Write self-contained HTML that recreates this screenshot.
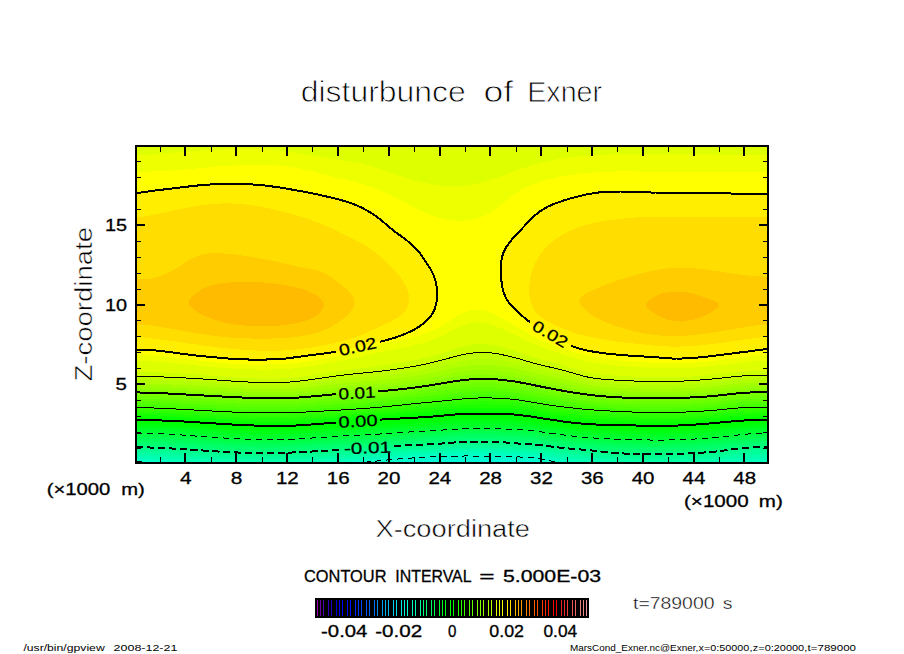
<!DOCTYPE html>
<html><head><meta charset="utf-8"><title>disturbunce of Exner</title>
<style>html,body{margin:0;padding:0;background:#fff;overflow:hidden}body{width:904px;height:654px;position:relative}</style></head>
<body>
<svg width="904" height="654" viewBox="0 0 904 654" style="position:absolute;left:0;top:0">
<defs><clipPath id="cp"><rect x="136" y="146" width="632" height="317"/></clipPath></defs>
<g clip-path="url(#cp)" shape-rendering="crispEdges">
<rect x="130" y="140" width="650" height="330" fill="#00f4dd"/>
<path d="M134.0 466.5 L136.0 466.5 L138.0 466.8 L140.0 467.0 L142.0 467.3 L144.0 467.5 L146.0 467.8 L148.0 468.0 L150.0 468.3 L152.0 468.5 L154.0 468.7 L156.0 469.0 L158.0 469.2 L160.0 469.4 L162.0 469.6 L164.0 469.8 L166.0 470.0 L168.0 470.2 L170.0 470.4 L172.0 470.6 L174.0 470.8 L176.0 471.0 L178.0 471.2 L180.0 471.3 L182.0 471.5 L184.0 471.7 L186.0 471.8 L188.0 472.0 L190.0 472.1 L192.0 472.3 L194.0 472.4 L196.0 472.5 L198.0 472.7 L200.0 472.8 L202.0 472.9 L204.0 473.0 L206.0 473.1 L208.0 473.2 L210.0 473.3 L212.0 473.4 L214.0 473.5 L216.0 473.6 L218.0 473.6 L220.0 473.7 L222.0 473.8 L224.0 473.8 L226.0 473.9 L228.0 473.9 L230.0 474.0 L232.0 474.0 L234.0 474.1 L236.0 474.1 L238.0 474.1 L240.0 474.2 L242.0 474.2 L244.0 474.2 L246.0 474.2 L248.0 474.3 L250.0 474.3 L252.0 474.3 L254.0 474.3 L256.0 474.3 L258.0 474.3 L260.0 474.3 L262.0 474.3 L264.0 474.3 L266.0 474.3 L268.0 474.2 L270.0 474.2 L272.0 474.2 L274.0 474.2 L276.0 474.2 L278.0 474.1 L280.0 474.1 L282.0 474.1 L284.0 474.0 L286.0 474.0 L288.0 473.9 L290.0 473.9 L292.0 473.8 L294.0 473.8 L296.0 473.7 L298.0 473.6 L300.0 473.6 L302.0 473.5 L304.0 473.4 L306.0 473.3 L308.0 473.2 L310.0 473.1 L312.0 473.0 L314.0 472.9 L316.0 472.8 L318.0 472.7 L320.0 472.6 L322.0 472.5 L324.0 472.4 L326.0 472.2 L328.0 472.1 L330.0 471.9 L332.0 471.8 L334.0 471.6 L336.0 471.5 L338.0 471.3 L340.0 471.1 L342.0 471.0 L344.0 470.8 L346.0 470.6 L348.0 470.4 L350.0 470.2 L352.0 470.0 L354.0 469.8 L356.0 469.5 L358.0 469.3 L360.0 469.1 L362.0 468.9 L364.0 468.6 L366.0 468.4 L368.0 468.2 L370.0 467.9 L372.0 467.7 L374.0 467.5 L376.0 467.2 L378.0 467.0 L380.0 466.7 L382.0 466.5 L384.0 466.2 L386.0 466.0 L388.0 465.7 L390.0 465.5 L392.0 465.3 L394.0 465.0 L396.0 464.8 L398.0 464.5 L400.0 464.3 L402.0 464.1 L404.0 463.9 L406.0 463.7 L408.0 463.5 L410.0 463.3 L412.0 463.1 L414.0 462.9 L416.0 462.7 L418.0 462.6 L420.0 462.5 L422.0 462.3 L424.0 462.2 L426.0 462.1 L428.0 462.0 L430.0 461.9 L432.0 461.9 L434.0 461.8 L436.0 461.8 L438.0 461.7 L440.0 461.7 L442.0 461.7 L444.0 461.6 L446.0 461.6 L448.0 461.6 L450.0 461.6 L452.0 461.6 L454.0 461.6 L456.0 461.6 L458.0 461.6 L460.0 461.7 L462.0 461.7 L464.0 461.7 L466.0 461.7 L468.0 461.7 L470.0 461.7 L472.0 461.7 L474.0 461.7 L476.0 461.7 L478.0 461.8 L480.0 461.8 L482.0 461.8 L484.0 461.8 L486.0 461.8 L488.0 461.8 L490.0 461.9 L492.0 461.9 L494.0 461.9 L496.0 461.9 L498.0 461.9 L500.0 461.9 L502.0 462.0 L504.0 462.0 L506.0 462.0 L508.0 462.0 L510.0 462.0 L512.0 462.0 L514.0 462.1 L516.0 462.1 L518.0 462.2 L520.0 462.2 L522.0 462.3 L524.0 462.4 L526.0 462.5 L528.0 462.7 L530.0 462.9 L532.0 463.1 L534.0 463.3 L536.0 463.6 L538.0 464.0 L540.0 464.4 L542.0 464.8 L544.0 465.3 L546.0 465.9 L548.0 466.4 L550.0 467.0 L552.0 467.6 L554.0 468.2 L556.0 468.7 L558.0 469.3 L560.0 469.8 L562.0 470.2 L564.0 470.7 L566.0 471.1 L568.0 471.4 L570.0 471.7 L572.0 472.0 L574.0 472.2 L576.0 472.4 L578.0 472.6 L580.0 472.7 L582.0 472.8 L584.0 472.9 L586.0 473.0 L588.0 473.1 L590.0 473.1 L592.0 473.1 L594.0 473.1 L596.0 473.1 L598.0 473.1 L600.0 473.1 L602.0 473.1 L604.0 473.1 L606.0 473.0 L608.0 473.0 L610.0 473.0 L612.0 473.0 L614.0 473.1 L616.0 473.1 L618.0 473.1 L620.0 473.2 L622.0 473.2 L624.0 473.3 L626.0 473.4 L628.0 473.4 L630.0 473.5 L632.0 473.6 L634.0 473.7 L636.0 473.8 L638.0 473.9 L640.0 474.0 L642.0 474.0 L644.0 474.1 L646.0 474.2 L648.0 474.3 L650.0 474.4 L652.0 474.4 L654.0 474.5 L656.0 474.5 L658.0 474.6 L660.0 474.6 L662.0 474.6 L664.0 474.6 L666.0 474.6 L668.0 474.6 L670.0 474.6 L672.0 474.6 L674.0 474.5 L676.0 474.4 L678.0 474.3 L680.0 474.3 L682.0 474.2 L684.0 474.0 L686.0 473.9 L688.0 473.8 L690.0 473.7 L692.0 473.6 L694.0 473.4 L696.0 473.3 L698.0 473.2 L700.0 473.1 L702.0 472.9 L704.0 472.8 L706.0 472.7 L708.0 472.6 L710.0 472.5 L712.0 472.5 L714.0 472.4 L716.0 472.3 L718.0 472.3 L720.0 472.3 L722.0 472.3 L724.0 472.3 L726.0 472.3 L728.0 472.3 L730.0 472.4 L732.0 472.4 L734.0 472.4 L736.0 472.5 L738.0 472.5 L740.0 472.5 L742.0 472.5 L744.0 472.5 L746.0 472.5 L748.0 472.5 L750.0 472.5 L752.0 472.4 L754.0 472.4 L756.0 472.3 L758.0 472.2 L760.0 472.1 L762.0 472.1 L764.0 472.0 L766.0 471.9 L768.0 471.8 L770.0 471.8 L770.0 144.0 L134.0 144.0Z" fill="#00f8d6"/>
<path d="M134.0 463.7 L136.0 463.7 L138.0 464.0 L140.0 464.2 L142.0 464.4 L144.0 464.6 L146.0 464.8 L148.0 465.0 L150.0 465.2 L152.0 465.4 L154.0 465.6 L156.0 465.8 L158.0 466.0 L160.0 466.2 L162.0 466.4 L164.0 466.6 L166.0 466.8 L168.0 467.0 L170.0 467.1 L172.0 467.3 L174.0 467.5 L176.0 467.6 L178.0 467.8 L180.0 468.0 L182.0 468.1 L184.0 468.3 L186.0 468.4 L188.0 468.6 L190.0 468.7 L192.0 468.8 L194.0 469.0 L196.0 469.1 L198.0 469.2 L200.0 469.4 L202.0 469.5 L204.0 469.6 L206.0 469.7 L208.0 469.8 L210.0 469.9 L212.0 470.0 L214.0 470.1 L216.0 470.2 L218.0 470.3 L220.0 470.3 L222.0 470.4 L224.0 470.5 L226.0 470.6 L228.0 470.6 L230.0 470.7 L232.0 470.8 L234.0 470.8 L236.0 470.9 L238.0 470.9 L240.0 470.9 L242.0 471.0 L244.0 471.0 L246.0 471.0 L248.0 471.1 L250.0 471.1 L252.0 471.1 L254.0 471.1 L256.0 471.1 L258.0 471.1 L260.0 471.1 L262.0 471.1 L264.0 471.1 L266.0 471.1 L268.0 471.1 L270.0 471.1 L272.0 471.0 L274.0 471.0 L276.0 471.0 L278.0 470.9 L280.0 470.9 L282.0 470.9 L284.0 470.8 L286.0 470.8 L288.0 470.7 L290.0 470.7 L292.0 470.6 L294.0 470.5 L296.0 470.5 L298.0 470.4 L300.0 470.3 L302.0 470.2 L304.0 470.2 L306.0 470.1 L308.0 470.0 L310.0 469.9 L312.0 469.8 L314.0 469.7 L316.0 469.6 L318.0 469.5 L320.0 469.3 L322.0 469.2 L324.0 469.1 L326.0 469.0 L328.0 468.8 L330.0 468.7 L332.0 468.5 L334.0 468.4 L336.0 468.2 L338.0 468.0 L340.0 467.9 L342.0 467.7 L344.0 467.5 L346.0 467.3 L348.0 467.1 L350.0 466.9 L352.0 466.7 L354.0 466.5 L356.0 466.3 L358.0 466.1 L360.0 465.9 L362.0 465.7 L364.0 465.5 L366.0 465.2 L368.0 465.0 L370.0 464.8 L372.0 464.6 L374.0 464.4 L376.0 464.1 L378.0 463.9 L380.0 463.7 L382.0 463.5 L384.0 463.2 L386.0 463.0 L388.0 462.8 L390.0 462.6 L392.0 462.4 L394.0 462.2 L396.0 462.0 L398.0 461.8 L400.0 461.6 L402.0 461.4 L404.0 461.2 L406.0 461.0 L408.0 460.9 L410.0 460.7 L412.0 460.5 L414.0 460.4 L416.0 460.2 L418.0 460.1 L420.0 460.0 L422.0 459.9 L424.0 459.8 L426.0 459.7 L428.0 459.6 L430.0 459.5 L432.0 459.4 L434.0 459.3 L436.0 459.3 L438.0 459.2 L440.0 459.2 L442.0 459.1 L444.0 459.1 L446.0 459.0 L448.0 459.0 L450.0 458.9 L452.0 458.9 L454.0 458.9 L456.0 458.9 L458.0 458.8 L460.0 458.8 L462.0 458.8 L464.0 458.8 L466.0 458.8 L468.0 458.8 L470.0 458.8 L472.0 458.8 L474.0 458.8 L476.0 458.8 L478.0 458.9 L480.0 458.9 L482.0 458.9 L484.0 458.9 L486.0 458.9 L488.0 458.9 L490.0 458.9 L492.0 459.0 L494.0 459.0 L496.0 459.0 L498.0 459.0 L500.0 459.1 L502.0 459.1 L504.0 459.1 L506.0 459.2 L508.0 459.2 L510.0 459.3 L512.0 459.3 L514.0 459.4 L516.0 459.5 L518.0 459.5 L520.0 459.6 L522.0 459.7 L524.0 459.8 L526.0 459.9 L528.0 460.1 L530.0 460.2 L532.0 460.4 L534.0 460.7 L536.0 460.9 L538.0 461.2 L540.0 461.6 L542.0 462.0 L544.0 462.4 L546.0 462.9 L548.0 463.4 L550.0 463.9 L552.0 464.4 L554.0 464.9 L556.0 465.4 L558.0 465.9 L560.0 466.4 L562.0 466.8 L564.0 467.1 L566.0 467.5 L568.0 467.8 L570.0 468.0 L572.0 468.3 L574.0 468.5 L576.0 468.7 L578.0 468.9 L580.0 469.0 L582.0 469.1 L584.0 469.3 L586.0 469.3 L588.0 469.4 L590.0 469.5 L592.0 469.6 L594.0 469.6 L596.0 469.7 L598.0 469.7 L600.0 469.8 L602.0 469.8 L604.0 469.9 L606.0 469.9 L608.0 469.9 L610.0 470.0 L612.0 470.1 L614.0 470.1 L616.0 470.2 L618.0 470.2 L620.0 470.3 L622.0 470.4 L624.0 470.5 L626.0 470.6 L628.0 470.6 L630.0 470.7 L632.0 470.8 L634.0 470.9 L636.0 471.0 L638.0 471.0 L640.0 471.1 L642.0 471.2 L644.0 471.2 L646.0 471.3 L648.0 471.4 L650.0 471.4 L652.0 471.5 L654.0 471.5 L656.0 471.5 L658.0 471.6 L660.0 471.6 L662.0 471.6 L664.0 471.6 L666.0 471.6 L668.0 471.6 L670.0 471.5 L672.0 471.5 L674.0 471.4 L676.0 471.4 L678.0 471.3 L680.0 471.2 L682.0 471.1 L684.0 471.0 L686.0 470.9 L688.0 470.8 L690.0 470.7 L692.0 470.6 L694.0 470.5 L696.0 470.4 L698.0 470.2 L700.0 470.1 L702.0 470.0 L704.0 469.9 L706.0 469.8 L708.0 469.7 L710.0 469.6 L712.0 469.5 L714.0 469.4 L716.0 469.3 L718.0 469.2 L720.0 469.1 L722.0 469.1 L724.0 469.0 L726.0 469.0 L728.0 468.9 L730.0 468.9 L732.0 468.8 L734.0 468.8 L736.0 468.8 L738.0 468.7 L740.0 468.7 L742.0 468.7 L744.0 468.6 L746.0 468.6 L748.0 468.5 L750.0 468.5 L752.0 468.4 L754.0 468.4 L756.0 468.3 L758.0 468.2 L760.0 468.2 L762.0 468.1 L764.0 468.1 L766.0 468.0 L768.0 468.0 L770.0 468.0 L770.0 144.0 L134.0 144.0Z" fill="#00fccd"/>
<path d="M134.0 461.0 L136.0 461.0 L138.0 461.2 L140.0 461.4 L142.0 461.5 L144.0 461.7 L146.0 461.9 L148.0 462.1 L150.0 462.2 L152.0 462.4 L154.0 462.6 L156.0 462.7 L158.0 462.9 L160.0 463.1 L162.0 463.2 L164.0 463.4 L166.0 463.6 L168.0 463.7 L170.0 463.9 L172.0 464.0 L174.0 464.2 L176.0 464.3 L178.0 464.5 L180.0 464.6 L182.0 464.8 L184.0 464.9 L186.0 465.1 L188.0 465.2 L190.0 465.4 L192.0 465.5 L194.0 465.6 L196.0 465.8 L198.0 465.9 L200.0 466.0 L202.0 466.1 L204.0 466.2 L206.0 466.4 L208.0 466.5 L210.0 466.6 L212.0 466.7 L214.0 466.8 L216.0 466.9 L218.0 467.0 L220.0 467.1 L222.0 467.1 L224.0 467.2 L226.0 467.3 L228.0 467.4 L230.0 467.5 L232.0 467.5 L234.0 467.6 L236.0 467.6 L238.0 467.7 L240.0 467.7 L242.0 467.8 L244.0 467.8 L246.0 467.9 L248.0 467.9 L250.0 467.9 L252.0 468.0 L254.0 468.0 L256.0 468.0 L258.0 468.0 L260.0 468.0 L262.0 468.0 L264.0 468.0 L266.0 468.0 L268.0 468.0 L270.0 467.9 L272.0 467.9 L274.0 467.9 L276.0 467.9 L278.0 467.8 L280.0 467.8 L282.0 467.7 L284.0 467.7 L286.0 467.6 L288.0 467.6 L290.0 467.5 L292.0 467.4 L294.0 467.4 L296.0 467.3 L298.0 467.2 L300.0 467.1 L302.0 467.1 L304.0 467.0 L306.0 466.9 L308.0 466.8 L310.0 466.7 L312.0 466.6 L314.0 466.5 L316.0 466.4 L318.0 466.3 L320.0 466.1 L322.0 466.0 L324.0 465.9 L326.0 465.8 L328.0 465.6 L330.0 465.5 L332.0 465.3 L334.0 465.2 L336.0 465.0 L338.0 464.8 L340.0 464.7 L342.0 464.5 L344.0 464.3 L346.0 464.1 L348.0 463.9 L350.0 463.7 L352.0 463.5 L354.0 463.3 L356.0 463.1 L358.0 462.9 L360.0 462.7 L362.0 462.5 L364.0 462.3 L366.0 462.1 L368.0 461.9 L370.0 461.7 L372.0 461.5 L374.0 461.3 L376.0 461.1 L378.0 460.9 L380.0 460.7 L382.0 460.5 L384.0 460.3 L386.0 460.1 L388.0 459.9 L390.0 459.7 L392.0 459.6 L394.0 459.4 L396.0 459.2 L398.0 459.0 L400.0 458.9 L402.0 458.7 L404.0 458.6 L406.0 458.4 L408.0 458.3 L410.0 458.1 L412.0 458.0 L414.0 457.9 L416.0 457.7 L418.0 457.6 L420.0 457.5 L422.0 457.4 L424.0 457.3 L426.0 457.2 L428.0 457.1 L430.0 457.0 L432.0 456.9 L434.0 456.8 L436.0 456.8 L438.0 456.7 L440.0 456.6 L442.0 456.5 L444.0 456.4 L446.0 456.4 L448.0 456.3 L450.0 456.2 L452.0 456.2 L454.0 456.1 L456.0 456.1 L458.0 456.0 L460.0 456.0 L462.0 456.0 L464.0 456.0 L466.0 455.9 L468.0 455.9 L470.0 455.9 L472.0 456.0 L474.0 456.0 L476.0 456.0 L478.0 456.0 L480.0 456.0 L482.0 456.0 L484.0 456.0 L486.0 456.0 L488.0 456.0 L490.0 456.1 L492.0 456.1 L494.0 456.1 L496.0 456.1 L498.0 456.2 L500.0 456.2 L502.0 456.3 L504.0 456.3 L506.0 456.4 L508.0 456.5 L510.0 456.5 L512.0 456.6 L514.0 456.7 L516.0 456.8 L518.0 456.9 L520.0 457.0 L522.0 457.1 L524.0 457.2 L526.0 457.3 L528.0 457.5 L530.0 457.6 L532.0 457.8 L534.0 458.0 L536.0 458.2 L538.0 458.5 L540.0 458.8 L542.0 459.2 L544.0 459.5 L546.0 460.0 L548.0 460.4 L550.0 460.8 L552.0 461.3 L554.0 461.7 L556.0 462.2 L558.0 462.6 L560.0 463.0 L562.0 463.4 L564.0 463.7 L566.0 464.0 L568.0 464.3 L570.0 464.5 L572.0 464.7 L574.0 464.9 L576.0 465.1 L578.0 465.3 L580.0 465.4 L582.0 465.5 L584.0 465.7 L586.0 465.8 L588.0 465.9 L590.0 466.0 L592.0 466.1 L594.0 466.2 L596.0 466.3 L598.0 466.4 L600.0 466.5 L602.0 466.6 L604.0 466.7 L606.0 466.8 L608.0 466.9 L610.0 467.0 L612.0 467.1 L614.0 467.2 L616.0 467.3 L618.0 467.4 L620.0 467.5 L622.0 467.6 L624.0 467.7 L626.0 467.7 L628.0 467.8 L630.0 467.9 L632.0 468.0 L634.0 468.1 L636.0 468.1 L638.0 468.2 L640.0 468.3 L642.0 468.3 L644.0 468.4 L646.0 468.4 L648.0 468.5 L650.0 468.5 L652.0 468.5 L654.0 468.6 L656.0 468.6 L658.0 468.6 L660.0 468.6 L662.0 468.6 L664.0 468.6 L666.0 468.6 L668.0 468.5 L670.0 468.5 L672.0 468.5 L674.0 468.4 L676.0 468.3 L678.0 468.3 L680.0 468.2 L682.0 468.1 L684.0 468.0 L686.0 468.0 L688.0 467.9 L690.0 467.8 L692.0 467.7 L694.0 467.5 L696.0 467.4 L698.0 467.3 L700.0 467.2 L702.0 467.1 L704.0 467.0 L706.0 466.8 L708.0 466.7 L710.0 466.6 L712.0 466.5 L714.0 466.4 L716.0 466.2 L718.0 466.1 L720.0 466.0 L722.0 465.9 L724.0 465.8 L726.0 465.7 L728.0 465.6 L730.0 465.5 L732.0 465.4 L734.0 465.3 L736.0 465.2 L738.0 465.1 L740.0 465.0 L742.0 464.9 L744.0 464.8 L746.0 464.8 L748.0 464.7 L750.0 464.6 L752.0 464.6 L754.0 464.5 L756.0 464.4 L758.0 464.4 L760.0 464.3 L762.0 464.3 L764.0 464.3 L766.0 464.2 L768.0 464.2 L770.0 464.2 L770.0 144.0 L134.0 144.0Z" fill="#00ffc4"/>
<path d="M134.0 458.2 L136.0 458.2 L138.0 458.4 L140.0 458.5 L142.0 458.7 L144.0 458.8 L146.0 459.0 L148.0 459.1 L150.0 459.2 L152.0 459.4 L154.0 459.5 L156.0 459.7 L158.0 459.8 L160.0 460.0 L162.0 460.1 L164.0 460.3 L166.0 460.4 L168.0 460.5 L170.0 460.7 L172.0 460.8 L174.0 461.0 L176.0 461.1 L178.0 461.3 L180.0 461.4 L182.0 461.5 L184.0 461.7 L186.0 461.8 L188.0 461.9 L190.0 462.1 L192.0 462.2 L194.0 462.3 L196.0 462.5 L198.0 462.6 L200.0 462.7 L202.0 462.8 L204.0 463.0 L206.0 463.1 L208.0 463.2 L210.0 463.3 L212.0 463.4 L214.0 463.5 L216.0 463.6 L218.0 463.7 L220.0 463.8 L222.0 463.9 L224.0 464.0 L226.0 464.1 L228.0 464.2 L230.0 464.3 L232.0 464.3 L234.0 464.4 L236.0 464.5 L238.0 464.6 L240.0 464.6 L242.0 464.7 L244.0 464.7 L246.0 464.8 L248.0 464.8 L250.0 464.8 L252.0 464.9 L254.0 464.9 L256.0 464.9 L258.0 464.9 L260.0 464.9 L262.0 464.9 L264.0 464.9 L266.0 464.9 L268.0 464.9 L270.0 464.9 L272.0 464.8 L274.0 464.8 L276.0 464.8 L278.0 464.7 L280.0 464.7 L282.0 464.6 L284.0 464.6 L286.0 464.5 L288.0 464.5 L290.0 464.4 L292.0 464.3 L294.0 464.3 L296.0 464.2 L298.0 464.1 L300.0 464.0 L302.0 463.9 L304.0 463.9 L306.0 463.8 L308.0 463.7 L310.0 463.6 L312.0 463.5 L314.0 463.3 L316.0 463.2 L318.0 463.1 L320.0 463.0 L322.0 462.9 L324.0 462.7 L326.0 462.6 L328.0 462.5 L330.0 462.3 L332.0 462.2 L334.0 462.0 L336.0 461.9 L338.0 461.7 L340.0 461.5 L342.0 461.3 L344.0 461.2 L346.0 461.0 L348.0 460.8 L350.0 460.6 L352.0 460.4 L354.0 460.2 L356.0 460.0 L358.0 459.8 L360.0 459.7 L362.0 459.5 L364.0 459.3 L366.0 459.1 L368.0 458.9 L370.0 458.7 L372.0 458.5 L374.0 458.3 L376.0 458.1 L378.0 457.9 L380.0 457.8 L382.0 457.6 L384.0 457.4 L386.0 457.2 L388.0 457.1 L390.0 456.9 L392.0 456.8 L394.0 456.6 L396.0 456.5 L398.0 456.3 L400.0 456.2 L402.0 456.1 L404.0 455.9 L406.0 455.8 L408.0 455.7 L410.0 455.5 L412.0 455.4 L414.0 455.3 L416.0 455.2 L418.0 455.1 L420.0 455.0 L422.0 454.9 L424.0 454.8 L426.0 454.7 L428.0 454.6 L430.0 454.5 L432.0 454.4 L434.0 454.3 L436.0 454.2 L438.0 454.1 L440.0 454.0 L442.0 453.9 L444.0 453.8 L446.0 453.7 L448.0 453.6 L450.0 453.6 L452.0 453.5 L454.0 453.4 L456.0 453.3 L458.0 453.3 L460.0 453.2 L462.0 453.2 L464.0 453.1 L466.0 453.1 L468.0 453.1 L470.0 453.1 L472.0 453.1 L474.0 453.1 L476.0 453.1 L478.0 453.1 L480.0 453.1 L482.0 453.1 L484.0 453.2 L486.0 453.2 L488.0 453.2 L490.0 453.2 L492.0 453.2 L494.0 453.2 L496.0 453.3 L498.0 453.3 L500.0 453.4 L502.0 453.4 L504.0 453.5 L506.0 453.6 L508.0 453.7 L510.0 453.8 L512.0 453.9 L514.0 454.0 L516.0 454.1 L518.0 454.2 L520.0 454.4 L522.0 454.5 L524.0 454.6 L526.0 454.7 L528.0 454.8 L530.0 455.0 L532.0 455.1 L534.0 455.3 L536.0 455.5 L538.0 455.8 L540.0 456.0 L542.0 456.3 L544.0 456.7 L546.0 457.1 L548.0 457.4 L550.0 457.8 L552.0 458.2 L554.0 458.6 L556.0 459.0 L558.0 459.4 L560.0 459.7 L562.0 460.1 L564.0 460.3 L566.0 460.6 L568.0 460.8 L570.0 461.1 L572.0 461.3 L574.0 461.4 L576.0 461.6 L578.0 461.8 L580.0 461.9 L582.0 462.1 L584.0 462.2 L586.0 462.3 L588.0 462.5 L590.0 462.6 L592.0 462.7 L594.0 462.9 L596.0 463.0 L598.0 463.2 L600.0 463.3 L602.0 463.5 L604.0 463.6 L606.0 463.8 L608.0 463.9 L610.0 464.0 L612.0 464.2 L614.0 464.3 L616.0 464.4 L618.0 464.5 L620.0 464.6 L622.0 464.7 L624.0 464.8 L626.0 464.9 L628.0 465.0 L630.0 465.1 L632.0 465.2 L634.0 465.2 L636.0 465.3 L638.0 465.4 L640.0 465.4 L642.0 465.5 L644.0 465.5 L646.0 465.5 L648.0 465.6 L650.0 465.6 L652.0 465.6 L654.0 465.6 L656.0 465.6 L658.0 465.6 L660.0 465.6 L662.0 465.6 L664.0 465.6 L666.0 465.6 L668.0 465.5 L670.0 465.5 L672.0 465.5 L674.0 465.4 L676.0 465.4 L678.0 465.3 L680.0 465.2 L682.0 465.2 L684.0 465.1 L686.0 465.0 L688.0 464.9 L690.0 464.8 L692.0 464.7 L694.0 464.6 L696.0 464.5 L698.0 464.4 L700.0 464.3 L702.0 464.2 L704.0 464.0 L706.0 463.9 L708.0 463.8 L710.0 463.7 L712.0 463.5 L714.0 463.4 L716.0 463.2 L718.0 463.1 L720.0 462.9 L722.0 462.8 L724.0 462.6 L726.0 462.4 L728.0 462.3 L730.0 462.1 L732.0 462.0 L734.0 461.8 L736.0 461.7 L738.0 461.5 L740.0 461.4 L742.0 461.3 L744.0 461.2 L746.0 461.1 L748.0 461.0 L750.0 460.9 L752.0 460.8 L754.0 460.8 L756.0 460.7 L758.0 460.7 L760.0 460.6 L762.0 460.6 L764.0 460.6 L766.0 460.6 L768.0 460.5 L770.0 460.5 L770.0 144.0 L134.0 144.0Z" fill="#00ffb5"/>
<path d="M134.0 455.5 L136.0 455.5 L138.0 455.6 L140.0 455.7 L142.0 455.8 L144.0 455.9 L146.0 456.0 L148.0 456.2 L150.0 456.3 L152.0 456.4 L154.0 456.5 L156.0 456.6 L158.0 456.8 L160.0 456.9 L162.0 457.0 L164.0 457.1 L166.0 457.3 L168.0 457.4 L170.0 457.5 L172.0 457.7 L174.0 457.8 L176.0 457.9 L178.0 458.1 L180.0 458.2 L182.0 458.3 L184.0 458.5 L186.0 458.6 L188.0 458.7 L190.0 458.9 L192.0 459.0 L194.0 459.1 L196.0 459.2 L198.0 459.4 L200.0 459.5 L202.0 459.6 L204.0 459.7 L206.0 459.9 L208.0 460.0 L210.0 460.1 L212.0 460.2 L214.0 460.3 L216.0 460.5 L218.0 460.6 L220.0 460.7 L222.0 460.8 L224.0 460.9 L226.0 461.0 L228.0 461.1 L230.0 461.1 L232.0 461.2 L234.0 461.3 L236.0 461.4 L238.0 461.5 L240.0 461.5 L242.0 461.6 L244.0 461.6 L246.0 461.7 L248.0 461.7 L250.0 461.8 L252.0 461.8 L254.0 461.8 L256.0 461.9 L258.0 461.9 L260.0 461.9 L262.0 461.9 L264.0 461.9 L266.0 461.9 L268.0 461.9 L270.0 461.8 L272.0 461.8 L274.0 461.8 L276.0 461.7 L278.0 461.7 L280.0 461.7 L282.0 461.6 L284.0 461.5 L286.0 461.5 L288.0 461.4 L290.0 461.4 L292.0 461.3 L294.0 461.2 L296.0 461.1 L298.0 461.1 L300.0 461.0 L302.0 460.9 L304.0 460.8 L306.0 460.7 L308.0 460.6 L310.0 460.5 L312.0 460.4 L314.0 460.3 L316.0 460.1 L318.0 460.0 L320.0 459.9 L322.0 459.8 L324.0 459.6 L326.0 459.5 L328.0 459.4 L330.0 459.2 L332.0 459.1 L334.0 458.9 L336.0 458.8 L338.0 458.6 L340.0 458.4 L342.0 458.3 L344.0 458.1 L346.0 457.9 L348.0 457.7 L350.0 457.6 L352.0 457.4 L354.0 457.2 L356.0 457.0 L358.0 456.8 L360.0 456.6 L362.0 456.5 L364.0 456.3 L366.0 456.1 L368.0 455.9 L370.0 455.7 L372.0 455.6 L374.0 455.4 L376.0 455.2 L378.0 455.0 L380.0 454.9 L382.0 454.7 L384.0 454.6 L386.0 454.4 L388.0 454.3 L390.0 454.1 L392.0 454.0 L394.0 453.9 L396.0 453.8 L398.0 453.6 L400.0 453.5 L402.0 453.4 L404.0 453.3 L406.0 453.2 L408.0 453.1 L410.0 453.0 L412.0 452.9 L414.0 452.7 L416.0 452.6 L418.0 452.5 L420.0 452.5 L422.0 452.4 L424.0 452.3 L426.0 452.2 L428.0 452.1 L430.0 452.0 L432.0 451.9 L434.0 451.8 L436.0 451.7 L438.0 451.6 L440.0 451.4 L442.0 451.3 L444.0 451.2 L446.0 451.1 L448.0 451.0 L450.0 450.9 L452.0 450.8 L454.0 450.7 L456.0 450.6 L458.0 450.5 L460.0 450.4 L462.0 450.4 L464.0 450.3 L466.0 450.3 L468.0 450.3 L470.0 450.3 L472.0 450.3 L474.0 450.3 L476.0 450.3 L478.0 450.3 L480.0 450.3 L482.0 450.3 L484.0 450.3 L486.0 450.3 L488.0 450.3 L490.0 450.3 L492.0 450.4 L494.0 450.4 L496.0 450.4 L498.0 450.5 L500.0 450.5 L502.0 450.6 L504.0 450.7 L506.0 450.8 L508.0 450.9 L510.0 451.1 L512.0 451.2 L514.0 451.3 L516.0 451.4 L518.0 451.6 L520.0 451.7 L522.0 451.8 L524.0 451.9 L526.0 452.0 L528.0 452.2 L530.0 452.3 L532.0 452.5 L534.0 452.6 L536.0 452.8 L538.0 453.0 L540.0 453.3 L542.0 453.6 L544.0 453.9 L546.0 454.2 L548.0 454.5 L550.0 454.9 L552.0 455.2 L554.0 455.6 L556.0 455.9 L558.0 456.2 L560.0 456.6 L562.0 456.8 L564.0 457.1 L566.0 457.3 L568.0 457.5 L570.0 457.7 L572.0 457.9 L574.0 458.1 L576.0 458.3 L578.0 458.4 L580.0 458.6 L582.0 458.7 L584.0 458.9 L586.0 459.0 L588.0 459.2 L590.0 459.3 L592.0 459.5 L594.0 459.7 L596.0 459.9 L598.0 460.0 L600.0 460.2 L602.0 460.4 L604.0 460.6 L606.0 460.8 L608.0 460.9 L610.0 461.1 L612.0 461.3 L614.0 461.4 L616.0 461.5 L618.0 461.7 L620.0 461.8 L622.0 461.9 L624.0 462.0 L626.0 462.1 L628.0 462.2 L630.0 462.3 L632.0 462.3 L634.0 462.4 L636.0 462.5 L638.0 462.5 L640.0 462.6 L642.0 462.6 L644.0 462.6 L646.0 462.7 L648.0 462.7 L650.0 462.7 L652.0 462.7 L654.0 462.7 L656.0 462.7 L658.0 462.7 L660.0 462.7 L662.0 462.6 L664.0 462.6 L666.0 462.6 L668.0 462.6 L670.0 462.5 L672.0 462.5 L674.0 462.4 L676.0 462.4 L678.0 462.3 L680.0 462.3 L682.0 462.2 L684.0 462.1 L686.0 462.1 L688.0 462.0 L690.0 461.9 L692.0 461.8 L694.0 461.7 L696.0 461.6 L698.0 461.5 L700.0 461.4 L702.0 461.3 L704.0 461.1 L706.0 461.0 L708.0 460.9 L710.0 460.7 L712.0 460.6 L714.0 460.4 L716.0 460.2 L718.0 460.1 L720.0 459.9 L722.0 459.7 L724.0 459.5 L726.0 459.3 L728.0 459.1 L730.0 458.9 L732.0 458.7 L734.0 458.5 L736.0 458.3 L738.0 458.1 L740.0 457.9 L742.0 457.8 L744.0 457.6 L746.0 457.5 L748.0 457.4 L750.0 457.3 L752.0 457.2 L754.0 457.2 L756.0 457.1 L758.0 457.1 L760.0 457.0 L762.0 457.0 L764.0 457.0 L766.0 457.0 L768.0 457.0 L770.0 457.0 L770.0 144.0 L134.0 144.0Z" fill="#00ffa7"/>
<path d="M134.0 452.7 L136.0 452.7 L138.0 452.8 L140.0 452.9 L142.0 453.0 L144.0 453.0 L146.0 453.1 L148.0 453.2 L150.0 453.3 L152.0 453.4 L154.0 453.5 L156.0 453.6 L158.0 453.7 L160.0 453.8 L162.0 454.0 L164.0 454.1 L166.0 454.2 L168.0 454.3 L170.0 454.4 L172.0 454.6 L174.0 454.7 L176.0 454.8 L178.0 454.9 L180.0 455.1 L182.0 455.2 L184.0 455.3 L186.0 455.4 L188.0 455.6 L190.0 455.7 L192.0 455.8 L194.0 456.0 L196.0 456.1 L198.0 456.2 L200.0 456.4 L202.0 456.5 L204.0 456.6 L206.0 456.7 L208.0 456.9 L210.0 457.0 L212.0 457.1 L214.0 457.2 L216.0 457.3 L218.0 457.5 L220.0 457.6 L222.0 457.7 L224.0 457.8 L226.0 457.9 L228.0 458.0 L230.0 458.1 L232.0 458.2 L234.0 458.3 L236.0 458.3 L238.0 458.4 L240.0 458.5 L242.0 458.6 L244.0 458.6 L246.0 458.7 L248.0 458.7 L250.0 458.8 L252.0 458.8 L254.0 458.9 L256.0 458.9 L258.0 458.9 L260.0 458.9 L262.0 458.9 L264.0 458.9 L266.0 458.9 L268.0 458.9 L270.0 458.9 L272.0 458.8 L274.0 458.8 L276.0 458.8 L278.0 458.7 L280.0 458.7 L282.0 458.6 L284.0 458.6 L286.0 458.5 L288.0 458.4 L290.0 458.4 L292.0 458.3 L294.0 458.2 L296.0 458.1 L298.0 458.1 L300.0 458.0 L302.0 457.9 L304.0 457.8 L306.0 457.7 L308.0 457.6 L310.0 457.5 L312.0 457.4 L314.0 457.2 L316.0 457.1 L318.0 457.0 L320.0 456.9 L322.0 456.8 L324.0 456.6 L326.0 456.5 L328.0 456.3 L330.0 456.2 L332.0 456.0 L334.0 455.9 L336.0 455.7 L338.0 455.6 L340.0 455.4 L342.0 455.3 L344.0 455.1 L346.0 454.9 L348.0 454.7 L350.0 454.6 L352.0 454.4 L354.0 454.2 L356.0 454.0 L358.0 453.9 L360.0 453.7 L362.0 453.5 L364.0 453.3 L366.0 453.2 L368.0 453.0 L370.0 452.8 L372.0 452.7 L374.0 452.5 L376.0 452.4 L378.0 452.2 L380.0 452.1 L382.0 451.9 L384.0 451.8 L386.0 451.7 L388.0 451.5 L390.0 451.4 L392.0 451.3 L394.0 451.2 L396.0 451.1 L398.0 451.0 L400.0 450.9 L402.0 450.7 L404.0 450.6 L406.0 450.5 L408.0 450.5 L410.0 450.4 L412.0 450.3 L414.0 450.2 L416.0 450.1 L418.0 450.0 L420.0 449.9 L422.0 449.8 L424.0 449.7 L426.0 449.6 L428.0 449.5 L430.0 449.4 L432.0 449.3 L434.0 449.2 L436.0 449.1 L438.0 449.0 L440.0 448.8 L442.0 448.7 L444.0 448.6 L446.0 448.5 L448.0 448.3 L450.0 448.2 L452.0 448.1 L454.0 447.9 L456.0 447.8 L458.0 447.7 L460.0 447.7 L462.0 447.6 L464.0 447.5 L466.0 447.5 L468.0 447.5 L470.0 447.5 L472.0 447.5 L474.0 447.5 L476.0 447.5 L478.0 447.5 L480.0 447.5 L482.0 447.5 L484.0 447.5 L486.0 447.5 L488.0 447.5 L490.0 447.5 L492.0 447.5 L494.0 447.6 L496.0 447.6 L498.0 447.7 L500.0 447.7 L502.0 447.8 L504.0 447.9 L506.0 448.0 L508.0 448.2 L510.0 448.3 L512.0 448.4 L514.0 448.6 L516.0 448.7 L518.0 448.9 L520.0 449.0 L522.0 449.1 L524.0 449.3 L526.0 449.4 L528.0 449.5 L530.0 449.6 L532.0 449.8 L534.0 449.9 L536.0 450.1 L538.0 450.3 L540.0 450.5 L542.0 450.8 L544.0 451.1 L546.0 451.4 L548.0 451.7 L550.0 452.0 L552.0 452.3 L554.0 452.6 L556.0 452.9 L558.0 453.2 L560.0 453.5 L562.0 453.7 L564.0 454.0 L566.0 454.2 L568.0 454.4 L570.0 454.6 L572.0 454.7 L574.0 454.9 L576.0 455.1 L578.0 455.2 L580.0 455.4 L582.0 455.5 L584.0 455.7 L586.0 455.8 L588.0 456.0 L590.0 456.2 L592.0 456.4 L594.0 456.6 L596.0 456.8 L598.0 457.0 L600.0 457.2 L602.0 457.4 L604.0 457.6 L606.0 457.8 L608.0 458.0 L610.0 458.2 L612.0 458.4 L614.0 458.5 L616.0 458.7 L618.0 458.8 L620.0 459.0 L622.0 459.1 L624.0 459.2 L626.0 459.3 L628.0 459.4 L630.0 459.4 L632.0 459.5 L634.0 459.6 L636.0 459.6 L638.0 459.7 L640.0 459.7 L642.0 459.7 L644.0 459.8 L646.0 459.8 L648.0 459.8 L650.0 459.8 L652.0 459.8 L654.0 459.8 L656.0 459.8 L658.0 459.8 L660.0 459.7 L662.0 459.7 L664.0 459.7 L666.0 459.7 L668.0 459.6 L670.0 459.6 L672.0 459.5 L674.0 459.5 L676.0 459.5 L678.0 459.4 L680.0 459.3 L682.0 459.3 L684.0 459.2 L686.0 459.2 L688.0 459.1 L690.0 459.0 L692.0 458.9 L694.0 458.8 L696.0 458.7 L698.0 458.6 L700.0 458.5 L702.0 458.4 L704.0 458.3 L706.0 458.1 L708.0 458.0 L710.0 457.8 L712.0 457.6 L714.0 457.5 L716.0 457.3 L718.0 457.1 L720.0 456.9 L722.0 456.7 L724.0 456.4 L726.0 456.2 L728.0 455.9 L730.0 455.7 L732.0 455.5 L734.0 455.2 L736.0 455.0 L738.0 454.8 L740.0 454.6 L742.0 454.4 L744.0 454.2 L746.0 454.1 L748.0 454.0 L750.0 453.8 L752.0 453.8 L754.0 453.7 L756.0 453.6 L758.0 453.6 L760.0 453.6 L762.0 453.6 L764.0 453.6 L766.0 453.6 L768.0 453.6 L770.0 453.6 L770.0 144.0 L134.0 144.0Z" fill="#00ff98"/>
<path d="M134.0 449.9 L136.0 449.9 L138.0 450.0 L140.0 450.0 L142.0 450.1 L144.0 450.2 L146.0 450.2 L148.0 450.3 L150.0 450.4 L152.0 450.5 L154.0 450.6 L156.0 450.6 L158.0 450.7 L160.0 450.8 L162.0 450.9 L164.0 451.1 L166.0 451.2 L168.0 451.3 L170.0 451.4 L172.0 451.5 L174.0 451.6 L176.0 451.7 L178.0 451.9 L180.0 452.0 L182.0 452.1 L184.0 452.2 L186.0 452.4 L188.0 452.5 L190.0 452.6 L192.0 452.8 L194.0 452.9 L196.0 453.0 L198.0 453.2 L200.0 453.3 L202.0 453.4 L204.0 453.6 L206.0 453.7 L208.0 453.8 L210.0 453.9 L212.0 454.1 L214.0 454.2 L216.0 454.3 L218.0 454.4 L220.0 454.5 L222.0 454.7 L224.0 454.8 L226.0 454.9 L228.0 455.0 L230.0 455.1 L232.0 455.2 L234.0 455.3 L236.0 455.4 L238.0 455.4 L240.0 455.5 L242.0 455.6 L244.0 455.7 L246.0 455.7 L248.0 455.8 L250.0 455.8 L252.0 455.9 L254.0 455.9 L256.0 455.9 L258.0 456.0 L260.0 456.0 L262.0 456.0 L264.0 456.0 L266.0 456.0 L268.0 456.0 L270.0 456.0 L272.0 455.9 L274.0 455.9 L276.0 455.9 L278.0 455.8 L280.0 455.8 L282.0 455.7 L284.0 455.7 L286.0 455.6 L288.0 455.5 L290.0 455.5 L292.0 455.4 L294.0 455.3 L296.0 455.2 L298.0 455.1 L300.0 455.0 L302.0 454.9 L304.0 454.8 L306.0 454.7 L308.0 454.6 L310.0 454.5 L312.0 454.4 L314.0 454.3 L316.0 454.2 L318.0 454.0 L320.0 453.9 L322.0 453.8 L324.0 453.7 L326.0 453.5 L328.0 453.4 L330.0 453.2 L332.0 453.1 L334.0 452.9 L336.0 452.8 L338.0 452.6 L340.0 452.5 L342.0 452.3 L344.0 452.1 L346.0 452.0 L348.0 451.8 L350.0 451.7 L352.0 451.5 L354.0 451.3 L356.0 451.2 L358.0 451.0 L360.0 450.8 L362.0 450.7 L364.0 450.5 L366.0 450.3 L368.0 450.2 L370.0 450.0 L372.0 449.9 L374.0 449.7 L376.0 449.6 L378.0 449.4 L380.0 449.3 L382.0 449.2 L384.0 449.1 L386.0 448.9 L388.0 448.8 L390.0 448.7 L392.0 448.6 L394.0 448.5 L396.0 448.4 L398.0 448.3 L400.0 448.2 L402.0 448.1 L404.0 448.0 L406.0 447.9 L408.0 447.8 L410.0 447.8 L412.0 447.7 L414.0 447.6 L416.0 447.5 L418.0 447.4 L420.0 447.3 L422.0 447.2 L424.0 447.1 L426.0 447.0 L428.0 446.9 L430.0 446.8 L432.0 446.7 L434.0 446.6 L436.0 446.5 L438.0 446.4 L440.0 446.2 L442.0 446.1 L444.0 445.9 L446.0 445.8 L448.0 445.7 L450.0 445.5 L452.0 445.4 L454.0 445.2 L456.0 445.1 L458.0 445.0 L460.0 444.9 L462.0 444.8 L464.0 444.8 L466.0 444.7 L468.0 444.7 L470.0 444.7 L472.0 444.7 L474.0 444.7 L476.0 444.7 L478.0 444.7 L480.0 444.7 L482.0 444.7 L484.0 444.7 L486.0 444.7 L488.0 444.7 L490.0 444.7 L492.0 444.7 L494.0 444.8 L496.0 444.8 L498.0 444.9 L500.0 445.0 L502.0 445.1 L504.0 445.2 L506.0 445.3 L508.0 445.4 L510.0 445.6 L512.0 445.7 L514.0 445.9 L516.0 446.0 L518.0 446.2 L520.0 446.3 L522.0 446.4 L524.0 446.6 L526.0 446.7 L528.0 446.8 L530.0 447.0 L532.0 447.1 L534.0 447.3 L536.0 447.4 L538.0 447.6 L540.0 447.8 L542.0 448.0 L544.0 448.3 L546.0 448.6 L548.0 448.8 L550.0 449.1 L552.0 449.4 L554.0 449.7 L556.0 450.0 L558.0 450.2 L560.0 450.5 L562.0 450.7 L564.0 450.9 L566.0 451.1 L568.0 451.3 L570.0 451.5 L572.0 451.7 L574.0 451.8 L576.0 452.0 L578.0 452.1 L580.0 452.3 L582.0 452.5 L584.0 452.6 L586.0 452.8 L588.0 453.0 L590.0 453.2 L592.0 453.4 L594.0 453.6 L596.0 453.8 L598.0 454.0 L600.0 454.3 L602.0 454.5 L604.0 454.7 L606.0 454.9 L608.0 455.1 L610.0 455.3 L612.0 455.5 L614.0 455.7 L616.0 455.8 L618.0 456.0 L620.0 456.1 L622.0 456.2 L624.0 456.4 L626.0 456.4 L628.0 456.5 L630.0 456.6 L632.0 456.7 L634.0 456.7 L636.0 456.8 L638.0 456.8 L640.0 456.9 L642.0 456.9 L644.0 456.9 L646.0 456.9 L648.0 456.9 L650.0 456.9 L652.0 456.9 L654.0 456.9 L656.0 456.9 L658.0 456.9 L660.0 456.8 L662.0 456.8 L664.0 456.8 L666.0 456.7 L668.0 456.7 L670.0 456.7 L672.0 456.6 L674.0 456.6 L676.0 456.5 L678.0 456.5 L680.0 456.5 L682.0 456.4 L684.0 456.3 L686.0 456.3 L688.0 456.2 L690.0 456.1 L692.0 456.0 L694.0 456.0 L696.0 455.9 L698.0 455.8 L700.0 455.6 L702.0 455.5 L704.0 455.4 L706.0 455.2 L708.0 455.1 L710.0 454.9 L712.0 454.7 L714.0 454.6 L716.0 454.4 L718.0 454.1 L720.0 453.9 L722.0 453.7 L724.0 453.4 L726.0 453.2 L728.0 452.9 L730.0 452.6 L732.0 452.4 L734.0 452.1 L736.0 451.8 L738.0 451.6 L740.0 451.4 L742.0 451.2 L744.0 451.0 L746.0 450.8 L748.0 450.7 L750.0 450.6 L752.0 450.5 L754.0 450.4 L756.0 450.3 L758.0 450.3 L760.0 450.3 L762.0 450.3 L764.0 450.3 L766.0 450.3 L768.0 450.3 L770.0 450.3 L770.0 144.0 L134.0 144.0Z" fill="#00ff8a"/>
<path d="M134.0 447.1 L136.0 447.1 L138.0 447.2 L140.0 447.2 L142.0 447.3 L144.0 447.3 L146.0 447.4 L148.0 447.4 L150.0 447.5 L152.0 447.5 L154.0 447.6 L156.0 447.7 L158.0 447.8 L160.0 447.9 L162.0 448.0 L164.0 448.1 L166.0 448.2 L168.0 448.3 L170.0 448.4 L172.0 448.5 L174.0 448.6 L176.0 448.7 L178.0 448.9 L180.0 449.0 L182.0 449.1 L184.0 449.2 L186.0 449.4 L188.0 449.5 L190.0 449.6 L192.0 449.8 L194.0 449.9 L196.0 450.0 L198.0 450.2 L200.0 450.3 L202.0 450.4 L204.0 450.6 L206.0 450.7 L208.0 450.8 L210.0 451.0 L212.0 451.1 L214.0 451.2 L216.0 451.3 L218.0 451.5 L220.0 451.6 L222.0 451.7 L224.0 451.8 L226.0 451.9 L228.0 452.0 L230.0 452.1 L232.0 452.2 L234.0 452.3 L236.0 452.4 L238.0 452.5 L240.0 452.6 L242.0 452.7 L244.0 452.7 L246.0 452.8 L248.0 452.9 L250.0 452.9 L252.0 453.0 L254.0 453.0 L256.0 453.1 L258.0 453.1 L260.0 453.1 L262.0 453.1 L264.0 453.1 L266.0 453.1 L268.0 453.1 L270.0 453.1 L272.0 453.1 L274.0 453.0 L276.0 453.0 L278.0 453.0 L280.0 452.9 L282.0 452.9 L284.0 452.8 L286.0 452.7 L288.0 452.7 L290.0 452.6 L292.0 452.5 L294.0 452.4 L296.0 452.4 L298.0 452.3 L300.0 452.2 L302.0 452.1 L304.0 452.0 L306.0 451.9 L308.0 451.8 L310.0 451.6 L312.0 451.5 L314.0 451.4 L316.0 451.3 L318.0 451.2 L320.0 451.0 L322.0 450.9 L324.0 450.8 L326.0 450.6 L328.0 450.5 L330.0 450.3 L332.0 450.2 L334.0 450.0 L336.0 449.9 L338.0 449.7 L340.0 449.6 L342.0 449.4 L344.0 449.3 L346.0 449.1 L348.0 449.0 L350.0 448.8 L352.0 448.7 L354.0 448.5 L356.0 448.3 L358.0 448.2 L360.0 448.0 L362.0 447.9 L364.0 447.7 L366.0 447.6 L368.0 447.4 L370.0 447.3 L372.0 447.2 L374.0 447.0 L376.0 446.9 L378.0 446.7 L380.0 446.6 L382.0 446.5 L384.0 446.4 L386.0 446.3 L388.0 446.2 L390.0 446.1 L392.0 446.0 L394.0 445.9 L396.0 445.8 L398.0 445.7 L400.0 445.6 L402.0 445.5 L404.0 445.4 L406.0 445.3 L408.0 445.2 L410.0 445.1 L412.0 445.1 L414.0 445.0 L416.0 444.9 L418.0 444.8 L420.0 444.7 L422.0 444.6 L424.0 444.5 L426.0 444.4 L428.0 444.3 L430.0 444.2 L432.0 444.1 L434.0 444.0 L436.0 443.9 L438.0 443.7 L440.0 443.6 L442.0 443.5 L444.0 443.3 L446.0 443.1 L448.0 443.0 L450.0 442.8 L452.0 442.7 L454.0 442.5 L456.0 442.4 L458.0 442.3 L460.0 442.2 L462.0 442.1 L464.0 442.0 L466.0 442.0 L468.0 442.0 L470.0 441.9 L472.0 441.9 L474.0 441.9 L476.0 441.9 L478.0 441.9 L480.0 441.9 L482.0 441.9 L484.0 441.9 L486.0 441.9 L488.0 441.9 L490.0 441.9 L492.0 442.0 L494.0 442.0 L496.0 442.1 L498.0 442.1 L500.0 442.2 L502.0 442.3 L504.0 442.4 L506.0 442.5 L508.0 442.7 L510.0 442.8 L512.0 443.0 L514.0 443.1 L516.0 443.3 L518.0 443.5 L520.0 443.6 L522.0 443.7 L524.0 443.9 L526.0 444.0 L528.0 444.1 L530.0 444.3 L532.0 444.4 L534.0 444.6 L536.0 444.7 L538.0 444.9 L540.0 445.1 L542.0 445.3 L544.0 445.6 L546.0 445.8 L548.0 446.1 L550.0 446.3 L552.0 446.6 L554.0 446.9 L556.0 447.1 L558.0 447.4 L560.0 447.6 L562.0 447.8 L564.0 448.0 L566.0 448.2 L568.0 448.4 L570.0 448.6 L572.0 448.8 L574.0 448.9 L576.0 449.1 L578.0 449.2 L580.0 449.4 L582.0 449.6 L584.0 449.7 L586.0 449.9 L588.0 450.1 L590.0 450.3 L592.0 450.5 L594.0 450.7 L596.0 451.0 L598.0 451.2 L600.0 451.4 L602.0 451.6 L604.0 451.9 L606.0 452.1 L608.0 452.3 L610.0 452.5 L612.0 452.7 L614.0 452.9 L616.0 453.0 L618.0 453.2 L620.0 453.3 L622.0 453.4 L624.0 453.5 L626.0 453.6 L628.0 453.7 L630.0 453.8 L632.0 453.8 L634.0 453.9 L636.0 453.9 L638.0 454.0 L640.0 454.0 L642.0 454.0 L644.0 454.1 L646.0 454.1 L648.0 454.1 L650.0 454.1 L652.0 454.1 L654.0 454.0 L656.0 454.0 L658.0 454.0 L660.0 454.0 L662.0 453.9 L664.0 453.9 L666.0 453.9 L668.0 453.8 L670.0 453.8 L672.0 453.8 L674.0 453.7 L676.0 453.7 L678.0 453.6 L680.0 453.6 L682.0 453.5 L684.0 453.5 L686.0 453.4 L688.0 453.3 L690.0 453.3 L692.0 453.2 L694.0 453.1 L696.0 453.0 L698.0 452.9 L700.0 452.8 L702.0 452.7 L704.0 452.5 L706.0 452.4 L708.0 452.2 L710.0 452.1 L712.0 451.9 L714.0 451.7 L716.0 451.5 L718.0 451.2 L720.0 451.0 L722.0 450.7 L724.0 450.5 L726.0 450.2 L728.0 449.9 L730.0 449.6 L732.0 449.4 L734.0 449.1 L736.0 448.8 L738.0 448.6 L740.0 448.3 L742.0 448.1 L744.0 447.9 L746.0 447.7 L748.0 447.6 L750.0 447.4 L752.0 447.3 L754.0 447.3 L756.0 447.2 L758.0 447.2 L760.0 447.1 L762.0 447.1 L764.0 447.1 L766.0 447.1 L768.0 447.1 L770.0 447.1 L770.0 144.0 L134.0 144.0Z" fill="#00ff7b"/>
<path d="M134.0 444.3 L136.0 444.3 L138.0 444.3 L140.0 444.4 L142.0 444.4 L144.0 444.4 L146.0 444.5 L148.0 444.5 L150.0 444.6 L152.0 444.6 L154.0 444.7 L156.0 444.8 L158.0 444.9 L160.0 444.9 L162.0 445.0 L164.0 445.1 L166.0 445.2 L168.0 445.3 L170.0 445.5 L172.0 445.6 L174.0 445.7 L176.0 445.8 L178.0 445.9 L180.0 446.1 L182.0 446.2 L184.0 446.3 L186.0 446.5 L188.0 446.6 L190.0 446.7 L192.0 446.9 L194.0 447.0 L196.0 447.1 L198.0 447.3 L200.0 447.4 L202.0 447.5 L204.0 447.7 L206.0 447.8 L208.0 448.0 L210.0 448.1 L212.0 448.2 L214.0 448.3 L216.0 448.5 L218.0 448.6 L220.0 448.7 L222.0 448.8 L224.0 449.0 L226.0 449.1 L228.0 449.2 L230.0 449.3 L232.0 449.4 L234.0 449.5 L236.0 449.6 L238.0 449.7 L240.0 449.8 L242.0 449.8 L244.0 449.9 L246.0 450.0 L248.0 450.0 L250.0 450.1 L252.0 450.2 L254.0 450.2 L256.0 450.2 L258.0 450.3 L260.0 450.3 L262.0 450.3 L264.0 450.3 L266.0 450.3 L268.0 450.3 L270.0 450.3 L272.0 450.3 L274.0 450.3 L276.0 450.2 L278.0 450.2 L280.0 450.1 L282.0 450.1 L284.0 450.0 L286.0 450.0 L288.0 449.9 L290.0 449.8 L292.0 449.8 L294.0 449.7 L296.0 449.6 L298.0 449.5 L300.0 449.4 L302.0 449.3 L304.0 449.2 L306.0 449.1 L308.0 449.0 L310.0 448.9 L312.0 448.7 L314.0 448.6 L316.0 448.5 L318.0 448.4 L320.0 448.2 L322.0 448.1 L324.0 448.0 L326.0 447.8 L328.0 447.7 L330.0 447.5 L332.0 447.4 L334.0 447.3 L336.0 447.1 L338.0 447.0 L340.0 446.8 L342.0 446.7 L344.0 446.5 L346.0 446.4 L348.0 446.2 L350.0 446.1 L352.0 445.9 L354.0 445.8 L356.0 445.6 L358.0 445.5 L360.0 445.4 L362.0 445.2 L364.0 445.1 L366.0 444.9 L368.0 444.8 L370.0 444.7 L372.0 444.5 L374.0 444.4 L376.0 444.3 L378.0 444.2 L380.0 444.0 L382.0 443.9 L384.0 443.8 L386.0 443.7 L388.0 443.6 L390.0 443.5 L392.0 443.4 L394.0 443.3 L396.0 443.2 L398.0 443.1 L400.0 443.0 L402.0 442.9 L404.0 442.8 L406.0 442.7 L408.0 442.6 L410.0 442.5 L412.0 442.4 L414.0 442.3 L416.0 442.3 L418.0 442.2 L420.0 442.1 L422.0 442.0 L424.0 441.9 L426.0 441.8 L428.0 441.7 L430.0 441.6 L432.0 441.5 L434.0 441.4 L436.0 441.2 L438.0 441.1 L440.0 441.0 L442.0 440.8 L444.0 440.7 L446.0 440.5 L448.0 440.3 L450.0 440.2 L452.0 440.0 L454.0 439.9 L456.0 439.8 L458.0 439.6 L460.0 439.5 L462.0 439.4 L464.0 439.4 L466.0 439.3 L468.0 439.3 L470.0 439.2 L472.0 439.2 L474.0 439.2 L476.0 439.2 L478.0 439.2 L480.0 439.2 L482.0 439.2 L484.0 439.2 L486.0 439.2 L488.0 439.2 L490.0 439.2 L492.0 439.2 L494.0 439.3 L496.0 439.3 L498.0 439.4 L500.0 439.5 L502.0 439.6 L504.0 439.7 L506.0 439.8 L508.0 440.0 L510.0 440.1 L512.0 440.3 L514.0 440.4 L516.0 440.6 L518.0 440.7 L520.0 440.9 L522.0 441.0 L524.0 441.2 L526.0 441.3 L528.0 441.4 L530.0 441.6 L532.0 441.7 L534.0 441.9 L536.0 442.0 L538.0 442.2 L540.0 442.4 L542.0 442.6 L544.0 442.8 L546.0 443.1 L548.0 443.3 L550.0 443.6 L552.0 443.9 L554.0 444.1 L556.0 444.4 L558.0 444.6 L560.0 444.9 L562.0 445.1 L564.0 445.3 L566.0 445.5 L568.0 445.7 L570.0 445.9 L572.0 446.0 L574.0 446.2 L576.0 446.4 L578.0 446.5 L580.0 446.7 L582.0 446.9 L584.0 447.1 L586.0 447.2 L588.0 447.4 L590.0 447.6 L592.0 447.8 L594.0 448.0 L596.0 448.2 L598.0 448.5 L600.0 448.7 L602.0 448.9 L604.0 449.1 L606.0 449.3 L608.0 449.5 L610.0 449.7 L612.0 449.9 L614.0 450.1 L616.0 450.2 L618.0 450.3 L620.0 450.5 L622.0 450.6 L624.0 450.7 L626.0 450.8 L628.0 450.9 L630.0 450.9 L632.0 451.0 L634.0 451.1 L636.0 451.1 L638.0 451.1 L640.0 451.2 L642.0 451.2 L644.0 451.2 L646.0 451.2 L648.0 451.2 L650.0 451.2 L652.0 451.2 L654.0 451.2 L656.0 451.2 L658.0 451.2 L660.0 451.1 L662.0 451.1 L664.0 451.1 L666.0 451.0 L668.0 451.0 L670.0 451.0 L672.0 450.9 L674.0 450.9 L676.0 450.9 L678.0 450.8 L680.0 450.8 L682.0 450.7 L684.0 450.7 L686.0 450.6 L688.0 450.5 L690.0 450.4 L692.0 450.4 L694.0 450.3 L696.0 450.2 L698.0 450.1 L700.0 450.0 L702.0 449.8 L704.0 449.7 L706.0 449.5 L708.0 449.4 L710.0 449.2 L712.0 449.0 L714.0 448.8 L716.0 448.6 L718.0 448.4 L720.0 448.1 L722.0 447.9 L724.0 447.6 L726.0 447.3 L728.0 447.1 L730.0 446.8 L732.0 446.5 L734.0 446.2 L736.0 445.9 L738.0 445.7 L740.0 445.4 L742.0 445.2 L744.0 445.0 L746.0 444.8 L748.0 444.7 L750.0 444.5 L752.0 444.4 L754.0 444.3 L756.0 444.3 L758.0 444.2 L760.0 444.2 L762.0 444.1 L764.0 444.1 L766.0 444.1 L768.0 444.2 L770.0 444.2 L770.0 144.0 L134.0 144.0Z" fill="#00ff6d"/>
<path d="M134.0 441.5 L136.0 441.5 L138.0 441.5 L140.0 441.5 L142.0 441.5 L144.0 441.5 L146.0 441.6 L148.0 441.6 L150.0 441.7 L152.0 441.7 L154.0 441.8 L156.0 441.9 L158.0 442.0 L160.0 442.0 L162.0 442.1 L164.0 442.2 L166.0 442.3 L168.0 442.5 L170.0 442.6 L172.0 442.7 L174.0 442.8 L176.0 442.9 L178.0 443.1 L180.0 443.2 L182.0 443.3 L184.0 443.5 L186.0 443.6 L188.0 443.8 L190.0 443.9 L192.0 444.0 L194.0 444.2 L196.0 444.3 L198.0 444.5 L200.0 444.6 L202.0 444.8 L204.0 444.9 L206.0 445.0 L208.0 445.2 L210.0 445.3 L212.0 445.4 L214.0 445.6 L216.0 445.7 L218.0 445.8 L220.0 446.0 L222.0 446.1 L224.0 446.2 L226.0 446.3 L228.0 446.4 L230.0 446.5 L232.0 446.6 L234.0 446.7 L236.0 446.8 L238.0 446.9 L240.0 447.0 L242.0 447.1 L244.0 447.1 L246.0 447.2 L248.0 447.3 L250.0 447.3 L252.0 447.4 L254.0 447.4 L256.0 447.5 L258.0 447.5 L260.0 447.5 L262.0 447.6 L264.0 447.6 L266.0 447.6 L268.0 447.6 L270.0 447.6 L272.0 447.6 L274.0 447.5 L276.0 447.5 L278.0 447.5 L280.0 447.4 L282.0 447.4 L284.0 447.3 L286.0 447.3 L288.0 447.2 L290.0 447.1 L292.0 447.1 L294.0 447.0 L296.0 446.9 L298.0 446.8 L300.0 446.7 L302.0 446.6 L304.0 446.5 L306.0 446.4 L308.0 446.3 L310.0 446.1 L312.0 446.0 L314.0 445.9 L316.0 445.8 L318.0 445.6 L320.0 445.5 L322.0 445.4 L324.0 445.2 L326.0 445.1 L328.0 445.0 L330.0 444.8 L332.0 444.7 L334.0 444.5 L336.0 444.4 L338.0 444.3 L340.0 444.1 L342.0 444.0 L344.0 443.9 L346.0 443.7 L348.0 443.6 L350.0 443.5 L352.0 443.3 L354.0 443.2 L356.0 443.1 L358.0 442.9 L360.0 442.8 L362.0 442.7 L364.0 442.6 L366.0 442.4 L368.0 442.3 L370.0 442.2 L372.0 442.0 L374.0 441.9 L376.0 441.8 L378.0 441.7 L380.0 441.6 L382.0 441.4 L384.0 441.3 L386.0 441.2 L388.0 441.1 L390.0 441.0 L392.0 440.9 L394.0 440.8 L396.0 440.6 L398.0 440.5 L400.0 440.4 L402.0 440.3 L404.0 440.2 L406.0 440.1 L408.0 440.0 L410.0 439.9 L412.0 439.8 L414.0 439.7 L416.0 439.6 L418.0 439.5 L420.0 439.4 L422.0 439.3 L424.0 439.2 L426.0 439.1 L428.0 439.0 L430.0 438.9 L432.0 438.8 L434.0 438.7 L436.0 438.6 L438.0 438.4 L440.0 438.3 L442.0 438.2 L444.0 438.0 L446.0 437.9 L448.0 437.7 L450.0 437.6 L452.0 437.4 L454.0 437.3 L456.0 437.1 L458.0 437.0 L460.0 436.9 L462.0 436.8 L464.0 436.7 L466.0 436.7 L468.0 436.6 L470.0 436.6 L472.0 436.5 L474.0 436.5 L476.0 436.5 L478.0 436.5 L480.0 436.5 L482.0 436.5 L484.0 436.5 L486.0 436.5 L488.0 436.5 L490.0 436.5 L492.0 436.6 L494.0 436.6 L496.0 436.7 L498.0 436.7 L500.0 436.8 L502.0 436.9 L504.0 437.0 L506.0 437.2 L508.0 437.3 L510.0 437.4 L512.0 437.6 L514.0 437.7 L516.0 437.9 L518.0 438.0 L520.0 438.2 L522.0 438.3 L524.0 438.4 L526.0 438.6 L528.0 438.7 L530.0 438.9 L532.0 439.0 L534.0 439.2 L536.0 439.3 L538.0 439.5 L540.0 439.7 L542.0 440.0 L544.0 440.2 L546.0 440.4 L548.0 440.7 L550.0 440.9 L552.0 441.2 L554.0 441.5 L556.0 441.7 L558.0 442.0 L560.0 442.2 L562.0 442.5 L564.0 442.7 L566.0 442.9 L568.0 443.1 L570.0 443.3 L572.0 443.5 L574.0 443.7 L576.0 443.9 L578.0 444.0 L580.0 444.2 L582.0 444.4 L584.0 444.6 L586.0 444.7 L588.0 444.9 L590.0 445.1 L592.0 445.3 L594.0 445.5 L596.0 445.7 L598.0 445.9 L600.0 446.1 L602.0 446.3 L604.0 446.5 L606.0 446.6 L608.0 446.8 L610.0 447.0 L612.0 447.1 L614.0 447.3 L616.0 447.4 L618.0 447.5 L620.0 447.7 L622.0 447.8 L624.0 447.9 L626.0 447.9 L628.0 448.0 L630.0 448.1 L632.0 448.2 L634.0 448.2 L636.0 448.3 L638.0 448.3 L640.0 448.3 L642.0 448.4 L644.0 448.4 L646.0 448.4 L648.0 448.4 L650.0 448.4 L652.0 448.4 L654.0 448.4 L656.0 448.4 L658.0 448.4 L660.0 448.3 L662.0 448.3 L664.0 448.3 L666.0 448.3 L668.0 448.2 L670.0 448.2 L672.0 448.2 L674.0 448.1 L676.0 448.1 L678.0 448.0 L680.0 448.0 L682.0 447.9 L684.0 447.9 L686.0 447.8 L688.0 447.7 L690.0 447.7 L692.0 447.6 L694.0 447.5 L696.0 447.4 L698.0 447.3 L700.0 447.1 L702.0 447.0 L704.0 446.9 L706.0 446.7 L708.0 446.6 L710.0 446.4 L712.0 446.2 L714.0 446.0 L716.0 445.8 L718.0 445.6 L720.0 445.4 L722.0 445.1 L724.0 444.8 L726.0 444.6 L728.0 444.3 L730.0 444.0 L732.0 443.8 L734.0 443.5 L736.0 443.2 L738.0 443.0 L740.0 442.7 L742.0 442.5 L744.0 442.3 L746.0 442.1 L748.0 441.9 L750.0 441.8 L752.0 441.7 L754.0 441.6 L756.0 441.5 L758.0 441.4 L760.0 441.4 L762.0 441.3 L764.0 441.3 L766.0 441.3 L768.0 441.3 L770.0 441.3 L770.0 144.0 L134.0 144.0Z" fill="#00ff5e"/>
<path d="M134.0 438.7 L136.0 438.7 L138.0 438.7 L140.0 438.7 L142.0 438.7 L144.0 438.7 L146.0 438.7 L148.0 438.8 L150.0 438.8 L152.0 438.9 L154.0 438.9 L156.0 439.0 L158.0 439.1 L160.0 439.2 L162.0 439.3 L164.0 439.4 L166.0 439.5 L168.0 439.6 L170.0 439.7 L172.0 439.9 L174.0 440.0 L176.0 440.1 L178.0 440.3 L180.0 440.4 L182.0 440.5 L184.0 440.7 L186.0 440.8 L188.0 441.0 L190.0 441.1 L192.0 441.3 L194.0 441.4 L196.0 441.6 L198.0 441.7 L200.0 441.9 L202.0 442.0 L204.0 442.2 L206.0 442.3 L208.0 442.4 L210.0 442.6 L212.0 442.7 L214.0 442.9 L216.0 443.0 L218.0 443.1 L220.0 443.2 L222.0 443.4 L224.0 443.5 L226.0 443.6 L228.0 443.7 L230.0 443.8 L232.0 443.9 L234.0 444.0 L236.0 444.1 L238.0 444.2 L240.0 444.3 L242.0 444.3 L244.0 444.4 L246.0 444.5 L248.0 444.6 L250.0 444.6 L252.0 444.7 L254.0 444.7 L256.0 444.8 L258.0 444.8 L260.0 444.8 L262.0 444.8 L264.0 444.9 L266.0 444.9 L268.0 444.9 L270.0 444.9 L272.0 444.9 L274.0 444.9 L276.0 444.8 L278.0 444.8 L280.0 444.8 L282.0 444.7 L284.0 444.7 L286.0 444.6 L288.0 444.6 L290.0 444.5 L292.0 444.4 L294.0 444.3 L296.0 444.3 L298.0 444.2 L300.0 444.1 L302.0 443.9 L304.0 443.8 L306.0 443.7 L308.0 443.6 L310.0 443.5 L312.0 443.4 L314.0 443.2 L316.0 443.1 L318.0 443.0 L320.0 442.8 L322.0 442.7 L324.0 442.6 L326.0 442.4 L328.0 442.3 L330.0 442.2 L332.0 442.0 L334.0 441.9 L336.0 441.8 L338.0 441.6 L340.0 441.5 L342.0 441.4 L344.0 441.2 L346.0 441.1 L348.0 441.0 L350.0 440.9 L352.0 440.8 L354.0 440.6 L356.0 440.5 L358.0 440.4 L360.0 440.3 L362.0 440.2 L364.0 440.1 L366.0 439.9 L368.0 439.8 L370.0 439.7 L372.0 439.6 L374.0 439.5 L376.0 439.4 L378.0 439.2 L380.0 439.1 L382.0 439.0 L384.0 438.9 L386.0 438.8 L388.0 438.6 L390.0 438.5 L392.0 438.4 L394.0 438.3 L396.0 438.1 L398.0 438.0 L400.0 437.9 L402.0 437.8 L404.0 437.6 L406.0 437.5 L408.0 437.4 L410.0 437.3 L412.0 437.2 L414.0 437.1 L416.0 436.9 L418.0 436.8 L420.0 436.7 L422.0 436.6 L424.0 436.5 L426.0 436.4 L428.0 436.3 L430.0 436.2 L432.0 436.1 L434.0 436.0 L436.0 435.9 L438.0 435.8 L440.0 435.6 L442.0 435.5 L444.0 435.4 L446.0 435.2 L448.0 435.1 L450.0 434.9 L452.0 434.8 L454.0 434.7 L456.0 434.5 L458.0 434.4 L460.0 434.3 L462.0 434.2 L464.0 434.1 L466.0 434.0 L468.0 434.0 L470.0 433.9 L472.0 433.9 L474.0 433.8 L476.0 433.8 L478.0 433.8 L480.0 433.8 L482.0 433.8 L484.0 433.8 L486.0 433.8 L488.0 433.8 L490.0 433.9 L492.0 433.9 L494.0 434.0 L496.0 434.0 L498.0 434.1 L500.0 434.2 L502.0 434.3 L504.0 434.4 L506.0 434.5 L508.0 434.6 L510.0 434.7 L512.0 434.9 L514.0 435.0 L516.0 435.1 L518.0 435.3 L520.0 435.4 L522.0 435.5 L524.0 435.7 L526.0 435.8 L528.0 436.0 L530.0 436.1 L532.0 436.3 L534.0 436.5 L536.0 436.7 L538.0 436.9 L540.0 437.1 L542.0 437.3 L544.0 437.5 L546.0 437.8 L548.0 438.1 L550.0 438.3 L552.0 438.6 L554.0 438.9 L556.0 439.1 L558.0 439.4 L560.0 439.7 L562.0 439.9 L564.0 440.2 L566.0 440.4 L568.0 440.6 L570.0 440.8 L572.0 441.0 L574.0 441.2 L576.0 441.4 L578.0 441.6 L580.0 441.8 L582.0 442.0 L584.0 442.1 L586.0 442.3 L588.0 442.5 L590.0 442.7 L592.0 442.8 L594.0 443.0 L596.0 443.2 L598.0 443.3 L600.0 443.5 L602.0 443.7 L604.0 443.8 L606.0 444.0 L608.0 444.1 L610.0 444.3 L612.0 444.4 L614.0 444.5 L616.0 444.6 L618.0 444.7 L620.0 444.8 L622.0 444.9 L624.0 445.0 L626.0 445.1 L628.0 445.2 L630.0 445.2 L632.0 445.3 L634.0 445.4 L636.0 445.4 L638.0 445.4 L640.0 445.5 L642.0 445.5 L644.0 445.5 L646.0 445.6 L648.0 445.6 L650.0 445.6 L652.0 445.6 L654.0 445.6 L656.0 445.6 L658.0 445.6 L660.0 445.6 L662.0 445.6 L664.0 445.5 L666.0 445.5 L668.0 445.5 L670.0 445.4 L672.0 445.4 L674.0 445.4 L676.0 445.3 L678.0 445.3 L680.0 445.2 L682.0 445.2 L684.0 445.1 L686.0 445.0 L688.0 445.0 L690.0 444.9 L692.0 444.8 L694.0 444.7 L696.0 444.6 L698.0 444.5 L700.0 444.3 L702.0 444.2 L704.0 444.1 L706.0 443.9 L708.0 443.8 L710.0 443.6 L712.0 443.4 L714.0 443.2 L716.0 443.0 L718.0 442.8 L720.0 442.6 L722.0 442.4 L724.0 442.1 L726.0 441.9 L728.0 441.6 L730.0 441.3 L732.0 441.1 L734.0 440.8 L736.0 440.6 L738.0 440.3 L740.0 440.1 L742.0 439.9 L744.0 439.7 L746.0 439.5 L748.0 439.3 L750.0 439.2 L752.0 439.0 L754.0 438.9 L756.0 438.8 L758.0 438.7 L760.0 438.7 L762.0 438.6 L764.0 438.6 L766.0 438.5 L768.0 438.5 L770.0 438.5 L770.0 144.0 L134.0 144.0Z" fill="#00ff50"/>
<path d="M134.0 435.9 L136.0 435.9 L138.0 435.8 L140.0 435.8 L142.0 435.8 L144.0 435.9 L146.0 435.9 L148.0 435.9 L150.0 436.0 L152.0 436.0 L154.0 436.1 L156.0 436.2 L158.0 436.3 L160.0 436.4 L162.0 436.5 L164.0 436.6 L166.0 436.7 L168.0 436.8 L170.0 436.9 L172.0 437.1 L174.0 437.2 L176.0 437.3 L178.0 437.5 L180.0 437.6 L182.0 437.8 L184.0 437.9 L186.0 438.1 L188.0 438.2 L190.0 438.4 L192.0 438.5 L194.0 438.7 L196.0 438.9 L198.0 439.0 L200.0 439.2 L202.0 439.3 L204.0 439.4 L206.0 439.6 L208.0 439.7 L210.0 439.9 L212.0 440.0 L214.0 440.1 L216.0 440.3 L218.0 440.4 L220.0 440.5 L222.0 440.6 L224.0 440.8 L226.0 440.9 L228.0 441.0 L230.0 441.1 L232.0 441.2 L234.0 441.3 L236.0 441.4 L238.0 441.5 L240.0 441.5 L242.0 441.6 L244.0 441.7 L246.0 441.8 L248.0 441.8 L250.0 441.9 L252.0 442.0 L254.0 442.0 L256.0 442.0 L258.0 442.1 L260.0 442.1 L262.0 442.1 L264.0 442.2 L266.0 442.2 L268.0 442.2 L270.0 442.2 L272.0 442.2 L274.0 442.2 L276.0 442.2 L278.0 442.2 L280.0 442.1 L282.0 442.1 L284.0 442.0 L286.0 442.0 L288.0 441.9 L290.0 441.9 L292.0 441.8 L294.0 441.7 L296.0 441.6 L298.0 441.5 L300.0 441.4 L302.0 441.3 L304.0 441.2 L306.0 441.1 L308.0 441.0 L310.0 440.8 L312.0 440.7 L314.0 440.6 L316.0 440.4 L318.0 440.3 L320.0 440.2 L322.0 440.0 L324.0 439.9 L326.0 439.8 L328.0 439.6 L330.0 439.5 L332.0 439.4 L334.0 439.2 L336.0 439.1 L338.0 439.0 L340.0 438.9 L342.0 438.7 L344.0 438.6 L346.0 438.5 L348.0 438.4 L350.0 438.3 L352.0 438.2 L354.0 438.1 L356.0 438.0 L358.0 437.9 L360.0 437.8 L362.0 437.6 L364.0 437.5 L366.0 437.4 L368.0 437.3 L370.0 437.2 L372.0 437.1 L374.0 437.0 L376.0 436.9 L378.0 436.8 L380.0 436.6 L382.0 436.5 L384.0 436.4 L386.0 436.3 L388.0 436.1 L390.0 436.0 L392.0 435.8 L394.0 435.7 L396.0 435.6 L398.0 435.4 L400.0 435.3 L402.0 435.2 L404.0 435.0 L406.0 434.9 L408.0 434.8 L410.0 434.6 L412.0 434.5 L414.0 434.4 L416.0 434.3 L418.0 434.1 L420.0 434.0 L422.0 433.9 L424.0 433.8 L426.0 433.7 L428.0 433.6 L430.0 433.5 L432.0 433.4 L434.0 433.3 L436.0 433.2 L438.0 433.1 L440.0 432.9 L442.0 432.8 L444.0 432.7 L446.0 432.5 L448.0 432.4 L450.0 432.3 L452.0 432.1 L454.0 432.0 L456.0 431.9 L458.0 431.8 L460.0 431.6 L462.0 431.5 L464.0 431.4 L466.0 431.4 L468.0 431.3 L470.0 431.2 L472.0 431.2 L474.0 431.1 L476.0 431.1 L478.0 431.1 L480.0 431.1 L482.0 431.1 L484.0 431.1 L486.0 431.1 L488.0 431.1 L490.0 431.2 L492.0 431.2 L494.0 431.3 L496.0 431.3 L498.0 431.4 L500.0 431.5 L502.0 431.6 L504.0 431.7 L506.0 431.8 L508.0 431.9 L510.0 432.0 L512.0 432.1 L514.0 432.2 L516.0 432.4 L518.0 432.5 L520.0 432.6 L522.0 432.8 L524.0 432.9 L526.0 433.1 L528.0 433.2 L530.0 433.4 L532.0 433.6 L534.0 433.8 L536.0 434.0 L538.0 434.2 L540.0 434.4 L542.0 434.6 L544.0 434.9 L546.0 435.2 L548.0 435.4 L550.0 435.7 L552.0 436.0 L554.0 436.3 L556.0 436.6 L558.0 436.8 L560.0 437.1 L562.0 437.4 L564.0 437.6 L566.0 437.9 L568.0 438.1 L570.0 438.3 L572.0 438.6 L574.0 438.8 L576.0 439.0 L578.0 439.2 L580.0 439.4 L582.0 439.6 L584.0 439.7 L586.0 439.9 L588.0 440.1 L590.0 440.2 L592.0 440.4 L594.0 440.5 L596.0 440.7 L598.0 440.8 L600.0 441.0 L602.0 441.1 L604.0 441.2 L606.0 441.3 L608.0 441.4 L610.0 441.5 L612.0 441.7 L614.0 441.8 L616.0 441.8 L618.0 441.9 L620.0 442.0 L622.0 442.1 L624.0 442.2 L626.0 442.3 L628.0 442.3 L630.0 442.4 L632.0 442.5 L634.0 442.5 L636.0 442.6 L638.0 442.6 L640.0 442.6 L642.0 442.7 L644.0 442.7 L646.0 442.7 L648.0 442.8 L650.0 442.8 L652.0 442.8 L654.0 442.8 L656.0 442.8 L658.0 442.8 L660.0 442.8 L662.0 442.8 L664.0 442.8 L666.0 442.7 L668.0 442.7 L670.0 442.7 L672.0 442.7 L674.0 442.6 L676.0 442.6 L678.0 442.5 L680.0 442.5 L682.0 442.4 L684.0 442.3 L686.0 442.3 L688.0 442.2 L690.0 442.1 L692.0 442.0 L694.0 441.9 L696.0 441.8 L698.0 441.7 L700.0 441.5 L702.0 441.4 L704.0 441.3 L706.0 441.1 L708.0 441.0 L710.0 440.8 L712.0 440.6 L714.0 440.4 L716.0 440.2 L718.0 440.0 L720.0 439.8 L722.0 439.6 L724.0 439.4 L726.0 439.1 L728.0 438.9 L730.0 438.6 L732.0 438.4 L734.0 438.2 L736.0 437.9 L738.0 437.7 L740.0 437.5 L742.0 437.3 L744.0 437.1 L746.0 436.9 L748.0 436.7 L750.0 436.6 L752.0 436.4 L754.0 436.3 L756.0 436.2 L758.0 436.1 L760.0 436.0 L762.0 435.9 L764.0 435.9 L766.0 435.8 L768.0 435.8 L770.0 435.8 L770.0 144.0 L134.0 144.0Z" fill="#00ff41"/>
<path d="M134.0 433.1 L136.0 433.1 L138.0 433.1 L140.0 433.1 L142.0 433.1 L144.0 433.1 L146.0 433.1 L148.0 433.2 L150.0 433.2 L152.0 433.3 L154.0 433.3 L156.0 433.4 L158.0 433.5 L160.0 433.6 L162.0 433.7 L164.0 433.8 L166.0 433.9 L168.0 434.0 L170.0 434.2 L172.0 434.3 L174.0 434.4 L176.0 434.6 L178.0 434.7 L180.0 434.9 L182.0 435.0 L184.0 435.2 L186.0 435.3 L188.0 435.5 L190.0 435.6 L192.0 435.8 L194.0 435.9 L196.0 436.1 L198.0 436.2 L200.0 436.4 L202.0 436.5 L204.0 436.7 L206.0 436.8 L208.0 437.0 L210.0 437.1 L212.0 437.3 L214.0 437.4 L216.0 437.5 L218.0 437.6 L220.0 437.8 L222.0 437.9 L224.0 438.0 L226.0 438.1 L228.0 438.2 L230.0 438.3 L232.0 438.4 L234.0 438.5 L236.0 438.6 L238.0 438.7 L240.0 438.8 L242.0 438.9 L244.0 439.0 L246.0 439.0 L248.0 439.1 L250.0 439.2 L252.0 439.2 L254.0 439.3 L256.0 439.3 L258.0 439.4 L260.0 439.4 L262.0 439.4 L264.0 439.5 L266.0 439.5 L268.0 439.5 L270.0 439.5 L272.0 439.5 L274.0 439.5 L276.0 439.5 L278.0 439.5 L280.0 439.4 L282.0 439.4 L284.0 439.4 L286.0 439.3 L288.0 439.3 L290.0 439.2 L292.0 439.1 L294.0 439.0 L296.0 439.0 L298.0 438.9 L300.0 438.8 L302.0 438.6 L304.0 438.5 L306.0 438.4 L308.0 438.3 L310.0 438.2 L312.0 438.0 L314.0 437.9 L316.0 437.7 L318.0 437.6 L320.0 437.5 L322.0 437.3 L324.0 437.2 L326.0 437.1 L328.0 436.9 L330.0 436.8 L332.0 436.7 L334.0 436.5 L336.0 436.4 L338.0 436.3 L340.0 436.2 L342.0 436.0 L344.0 435.9 L346.0 435.8 L348.0 435.7 L350.0 435.6 L352.0 435.5 L354.0 435.4 L356.0 435.3 L358.0 435.2 L360.0 435.1 L362.0 435.0 L364.0 434.9 L366.0 434.8 L368.0 434.7 L370.0 434.6 L372.0 434.5 L374.0 434.4 L376.0 434.3 L378.0 434.1 L380.0 434.0 L382.0 433.9 L384.0 433.8 L386.0 433.6 L388.0 433.5 L390.0 433.4 L392.0 433.2 L394.0 433.1 L396.0 432.9 L398.0 432.8 L400.0 432.6 L402.0 432.5 L404.0 432.4 L406.0 432.2 L408.0 432.1 L410.0 431.9 L412.0 431.8 L414.0 431.7 L416.0 431.5 L418.0 431.4 L420.0 431.3 L422.0 431.2 L424.0 431.1 L426.0 431.0 L428.0 430.9 L430.0 430.8 L432.0 430.7 L434.0 430.5 L436.0 430.4 L438.0 430.3 L440.0 430.2 L442.0 430.1 L444.0 429.9 L446.0 429.8 L448.0 429.7 L450.0 429.5 L452.0 429.4 L454.0 429.3 L456.0 429.1 L458.0 429.0 L460.0 428.9 L462.0 428.8 L464.0 428.7 L466.0 428.6 L468.0 428.5 L470.0 428.5 L472.0 428.4 L474.0 428.4 L476.0 428.3 L478.0 428.3 L480.0 428.3 L482.0 428.3 L484.0 428.3 L486.0 428.3 L488.0 428.4 L490.0 428.4 L492.0 428.4 L494.0 428.5 L496.0 428.6 L498.0 428.6 L500.0 428.7 L502.0 428.8 L504.0 428.9 L506.0 429.0 L508.0 429.1 L510.0 429.2 L512.0 429.3 L514.0 429.4 L516.0 429.5 L518.0 429.7 L520.0 429.8 L522.0 429.9 L524.0 430.1 L526.0 430.3 L528.0 430.4 L530.0 430.6 L532.0 430.8 L534.0 431.0 L536.0 431.2 L538.0 431.5 L540.0 431.7 L542.0 432.0 L544.0 432.2 L546.0 432.5 L548.0 432.8 L550.0 433.1 L552.0 433.4 L554.0 433.6 L556.0 433.9 L558.0 434.2 L560.0 434.5 L562.0 434.8 L564.0 435.0 L566.0 435.3 L568.0 435.5 L570.0 435.8 L572.0 436.0 L574.0 436.2 L576.0 436.5 L578.0 436.7 L580.0 436.9 L582.0 437.0 L584.0 437.2 L586.0 437.4 L588.0 437.5 L590.0 437.7 L592.0 437.8 L594.0 438.0 L596.0 438.1 L598.0 438.2 L600.0 438.3 L602.0 438.4 L604.0 438.5 L606.0 438.6 L608.0 438.7 L610.0 438.8 L612.0 438.9 L614.0 439.0 L616.0 439.1 L618.0 439.1 L620.0 439.2 L622.0 439.3 L624.0 439.4 L626.0 439.4 L628.0 439.5 L630.0 439.5 L632.0 439.6 L634.0 439.7 L636.0 439.7 L638.0 439.8 L640.0 439.8 L642.0 439.8 L644.0 439.9 L646.0 439.9 L648.0 439.9 L650.0 440.0 L652.0 440.0 L654.0 440.0 L656.0 440.0 L658.0 440.0 L660.0 440.0 L662.0 440.0 L664.0 440.0 L666.0 440.0 L668.0 439.9 L670.0 439.9 L672.0 439.9 L674.0 439.8 L676.0 439.8 L678.0 439.7 L680.0 439.7 L682.0 439.6 L684.0 439.5 L686.0 439.4 L688.0 439.4 L690.0 439.3 L692.0 439.2 L694.0 439.1 L696.0 438.9 L698.0 438.8 L700.0 438.7 L702.0 438.6 L704.0 438.4 L706.0 438.3 L708.0 438.1 L710.0 437.9 L712.0 437.8 L714.0 437.6 L716.0 437.4 L718.0 437.2 L720.0 437.0 L722.0 436.8 L724.0 436.6 L726.0 436.3 L728.0 436.1 L730.0 435.9 L732.0 435.7 L734.0 435.4 L736.0 435.2 L738.0 435.0 L740.0 434.8 L742.0 434.6 L744.0 434.4 L746.0 434.2 L748.0 434.0 L750.0 433.9 L752.0 433.8 L754.0 433.6 L756.0 433.5 L758.0 433.4 L760.0 433.3 L762.0 433.2 L764.0 433.2 L766.0 433.1 L768.0 433.1 L770.0 433.1 L770.0 144.0 L134.0 144.0Z" fill="#00ff33"/>
<path d="M134.0 430.4 L136.0 430.4 L138.0 430.4 L140.0 430.4 L142.0 430.4 L144.0 430.4 L146.0 430.4 L148.0 430.5 L150.0 430.5 L152.0 430.6 L154.0 430.6 L156.0 430.7 L158.0 430.8 L160.0 430.9 L162.0 431.0 L164.0 431.1 L166.0 431.2 L168.0 431.3 L170.0 431.4 L172.0 431.5 L174.0 431.7 L176.0 431.8 L178.0 432.0 L180.0 432.1 L182.0 432.2 L184.0 432.4 L186.0 432.5 L188.0 432.7 L190.0 432.8 L192.0 433.0 L194.0 433.1 L196.0 433.3 L198.0 433.4 L200.0 433.6 L202.0 433.7 L204.0 433.9 L206.0 434.0 L208.0 434.2 L210.0 434.3 L212.0 434.4 L214.0 434.6 L216.0 434.7 L218.0 434.8 L220.0 434.9 L222.0 435.1 L224.0 435.2 L226.0 435.3 L228.0 435.4 L230.0 435.5 L232.0 435.6 L234.0 435.7 L236.0 435.8 L238.0 435.9 L240.0 436.0 L242.0 436.1 L244.0 436.2 L246.0 436.2 L248.0 436.3 L250.0 436.4 L252.0 436.4 L254.0 436.5 L256.0 436.6 L258.0 436.6 L260.0 436.6 L262.0 436.7 L264.0 436.7 L266.0 436.7 L268.0 436.8 L270.0 436.8 L272.0 436.8 L274.0 436.8 L276.0 436.8 L278.0 436.8 L280.0 436.7 L282.0 436.7 L284.0 436.7 L286.0 436.6 L288.0 436.6 L290.0 436.5 L292.0 436.4 L294.0 436.3 L296.0 436.3 L298.0 436.2 L300.0 436.0 L302.0 435.9 L304.0 435.8 L306.0 435.7 L308.0 435.6 L310.0 435.4 L312.0 435.3 L314.0 435.2 L316.0 435.0 L318.0 434.9 L320.0 434.7 L322.0 434.6 L324.0 434.4 L326.0 434.3 L328.0 434.2 L330.0 434.0 L332.0 433.9 L334.0 433.7 L336.0 433.6 L338.0 433.5 L340.0 433.4 L342.0 433.3 L344.0 433.1 L346.0 433.0 L348.0 432.9 L350.0 432.8 L352.0 432.7 L354.0 432.6 L356.0 432.5 L358.0 432.4 L360.0 432.3 L362.0 432.2 L364.0 432.1 L366.0 432.0 L368.0 431.9 L370.0 431.8 L372.0 431.7 L374.0 431.6 L376.0 431.5 L378.0 431.3 L380.0 431.2 L382.0 431.1 L384.0 431.0 L386.0 430.9 L388.0 430.7 L390.0 430.6 L392.0 430.5 L394.0 430.3 L396.0 430.2 L398.0 430.0 L400.0 429.9 L402.0 429.8 L404.0 429.6 L406.0 429.5 L408.0 429.3 L410.0 429.2 L412.0 429.1 L414.0 428.9 L416.0 428.8 L418.0 428.7 L420.0 428.6 L422.0 428.4 L424.0 428.3 L426.0 428.2 L428.0 428.1 L430.0 428.0 L432.0 427.9 L434.0 427.8 L436.0 427.7 L438.0 427.5 L440.0 427.4 L442.0 427.3 L444.0 427.1 L446.0 427.0 L448.0 426.8 L450.0 426.7 L452.0 426.6 L454.0 426.4 L456.0 426.3 L458.0 426.2 L460.0 426.0 L462.0 425.9 L464.0 425.8 L466.0 425.8 L468.0 425.7 L470.0 425.6 L472.0 425.6 L474.0 425.5 L476.0 425.5 L478.0 425.5 L480.0 425.5 L482.0 425.4 L484.0 425.5 L486.0 425.5 L488.0 425.5 L490.0 425.5 L492.0 425.6 L494.0 425.6 L496.0 425.7 L498.0 425.8 L500.0 425.8 L502.0 425.9 L504.0 426.0 L506.0 426.1 L508.0 426.2 L510.0 426.3 L512.0 426.4 L514.0 426.5 L516.0 426.6 L518.0 426.8 L520.0 426.9 L522.0 427.1 L524.0 427.3 L526.0 427.4 L528.0 427.6 L530.0 427.8 L532.0 428.0 L534.0 428.3 L536.0 428.5 L538.0 428.7 L540.0 429.0 L542.0 429.3 L544.0 429.5 L546.0 429.8 L548.0 430.1 L550.0 430.4 L552.0 430.7 L554.0 431.0 L556.0 431.3 L558.0 431.6 L560.0 431.8 L562.0 432.1 L564.0 432.4 L566.0 432.7 L568.0 432.9 L570.0 433.2 L572.0 433.4 L574.0 433.6 L576.0 433.8 L578.0 434.0 L580.0 434.2 L582.0 434.4 L584.0 434.6 L586.0 434.8 L588.0 434.9 L590.0 435.1 L592.0 435.2 L594.0 435.3 L596.0 435.4 L598.0 435.5 L600.0 435.6 L602.0 435.7 L604.0 435.8 L606.0 435.9 L608.0 435.9 L610.0 436.0 L612.0 436.1 L614.0 436.2 L616.0 436.2 L618.0 436.3 L620.0 436.4 L622.0 436.4 L624.0 436.5 L626.0 436.6 L628.0 436.6 L630.0 436.7 L632.0 436.7 L634.0 436.8 L636.0 436.8 L638.0 436.9 L640.0 436.9 L642.0 437.0 L644.0 437.0 L646.0 437.1 L648.0 437.1 L650.0 437.1 L652.0 437.1 L654.0 437.1 L656.0 437.2 L658.0 437.2 L660.0 437.2 L662.0 437.1 L664.0 437.1 L666.0 437.1 L668.0 437.1 L670.0 437.1 L672.0 437.0 L674.0 437.0 L676.0 436.9 L678.0 436.9 L680.0 436.8 L682.0 436.7 L684.0 436.7 L686.0 436.6 L688.0 436.5 L690.0 436.4 L692.0 436.3 L694.0 436.2 L696.0 436.1 L698.0 435.9 L700.0 435.8 L702.0 435.7 L704.0 435.5 L706.0 435.4 L708.0 435.2 L710.0 435.0 L712.0 434.9 L714.0 434.7 L716.0 434.5 L718.0 434.3 L720.0 434.1 L722.0 433.9 L724.0 433.7 L726.0 433.5 L728.0 433.3 L730.0 433.0 L732.0 432.8 L734.0 432.6 L736.0 432.4 L738.0 432.2 L740.0 432.0 L742.0 431.8 L744.0 431.6 L746.0 431.4 L748.0 431.3 L750.0 431.1 L752.0 431.0 L754.0 430.9 L756.0 430.8 L758.0 430.7 L760.0 430.6 L762.0 430.5 L764.0 430.5 L766.0 430.4 L768.0 430.4 L770.0 430.4 L770.0 144.0 L134.0 144.0Z" fill="#00ff24"/>
<path d="M134.0 427.7 L136.0 427.7 L138.0 427.7 L140.0 427.7 L142.0 427.7 L144.0 427.7 L146.0 427.8 L148.0 427.8 L150.0 427.8 L152.0 427.9 L154.0 428.0 L156.0 428.0 L158.0 428.1 L160.0 428.2 L162.0 428.3 L164.0 428.4 L166.0 428.5 L168.0 428.6 L170.0 428.7 L172.0 428.8 L174.0 428.9 L176.0 429.1 L178.0 429.2 L180.0 429.3 L182.0 429.5 L184.0 429.6 L186.0 429.8 L188.0 429.9 L190.0 430.0 L192.0 430.2 L194.0 430.3 L196.0 430.5 L198.0 430.6 L200.0 430.8 L202.0 430.9 L204.0 431.0 L206.0 431.2 L208.0 431.3 L210.0 431.4 L212.0 431.6 L214.0 431.7 L216.0 431.8 L218.0 432.0 L220.0 432.1 L222.0 432.2 L224.0 432.3 L226.0 432.5 L228.0 432.6 L230.0 432.7 L232.0 432.8 L234.0 432.9 L236.0 433.0 L238.0 433.1 L240.0 433.2 L242.0 433.3 L244.0 433.4 L246.0 433.4 L248.0 433.5 L250.0 433.6 L252.0 433.7 L254.0 433.7 L256.0 433.8 L258.0 433.8 L260.0 433.9 L262.0 433.9 L264.0 434.0 L266.0 434.0 L268.0 434.0 L270.0 434.0 L272.0 434.0 L274.0 434.0 L276.0 434.0 L278.0 434.0 L280.0 434.0 L282.0 434.0 L284.0 434.0 L286.0 433.9 L288.0 433.9 L290.0 433.8 L292.0 433.7 L294.0 433.6 L296.0 433.5 L298.0 433.4 L300.0 433.3 L302.0 433.2 L304.0 433.1 L306.0 433.0 L308.0 432.8 L310.0 432.7 L312.0 432.6 L314.0 432.4 L316.0 432.3 L318.0 432.1 L320.0 432.0 L322.0 431.8 L324.0 431.7 L326.0 431.5 L328.0 431.4 L330.0 431.2 L332.0 431.1 L334.0 430.9 L336.0 430.8 L338.0 430.6 L340.0 430.5 L342.0 430.4 L344.0 430.3 L346.0 430.1 L348.0 430.0 L350.0 429.9 L352.0 429.8 L354.0 429.7 L356.0 429.6 L358.0 429.5 L360.0 429.4 L362.0 429.3 L364.0 429.2 L366.0 429.1 L368.0 428.9 L370.0 428.8 L372.0 428.7 L374.0 428.6 L376.0 428.5 L378.0 428.4 L380.0 428.3 L382.0 428.2 L384.0 428.1 L386.0 427.9 L388.0 427.8 L390.0 427.7 L392.0 427.6 L394.0 427.4 L396.0 427.3 L398.0 427.2 L400.0 427.1 L402.0 426.9 L404.0 426.8 L406.0 426.7 L408.0 426.5 L410.0 426.4 L412.0 426.3 L414.0 426.2 L416.0 426.0 L418.0 425.9 L420.0 425.8 L422.0 425.7 L424.0 425.6 L426.0 425.4 L428.0 425.3 L430.0 425.2 L432.0 425.1 L434.0 425.0 L436.0 424.8 L438.0 424.7 L440.0 424.6 L442.0 424.4 L444.0 424.3 L446.0 424.1 L448.0 424.0 L450.0 423.8 L452.0 423.6 L454.0 423.5 L456.0 423.4 L458.0 423.2 L460.0 423.1 L462.0 423.0 L464.0 422.9 L466.0 422.8 L468.0 422.7 L470.0 422.7 L472.0 422.6 L474.0 422.6 L476.0 422.6 L478.0 422.6 L480.0 422.6 L482.0 422.5 L484.0 422.6 L486.0 422.6 L488.0 422.6 L490.0 422.6 L492.0 422.7 L494.0 422.7 L496.0 422.8 L498.0 422.8 L500.0 422.9 L502.0 422.9 L504.0 423.0 L506.0 423.1 L508.0 423.2 L510.0 423.3 L512.0 423.4 L514.0 423.5 L516.0 423.7 L518.0 423.8 L520.0 424.0 L522.0 424.2 L524.0 424.4 L526.0 424.6 L528.0 424.8 L530.0 425.0 L532.0 425.2 L534.0 425.5 L536.0 425.7 L538.0 426.0 L540.0 426.3 L542.0 426.6 L544.0 426.8 L546.0 427.1 L548.0 427.4 L550.0 427.7 L552.0 428.0 L554.0 428.3 L556.0 428.6 L558.0 428.9 L560.0 429.2 L562.0 429.5 L564.0 429.7 L566.0 430.0 L568.0 430.3 L570.0 430.5 L572.0 430.7 L574.0 431.0 L576.0 431.2 L578.0 431.4 L580.0 431.6 L582.0 431.8 L584.0 432.0 L586.0 432.1 L588.0 432.3 L590.0 432.4 L592.0 432.5 L594.0 432.6 L596.0 432.7 L598.0 432.8 L600.0 432.9 L602.0 433.0 L604.0 433.0 L606.0 433.1 L608.0 433.2 L610.0 433.2 L612.0 433.3 L614.0 433.3 L616.0 433.4 L618.0 433.5 L620.0 433.5 L622.0 433.6 L624.0 433.6 L626.0 433.7 L628.0 433.8 L630.0 433.8 L632.0 433.9 L634.0 433.9 L636.0 434.0 L638.0 434.0 L640.0 434.1 L642.0 434.1 L644.0 434.1 L646.0 434.2 L648.0 434.2 L650.0 434.2 L652.0 434.3 L654.0 434.3 L656.0 434.3 L658.0 434.3 L660.0 434.3 L662.0 434.3 L664.0 434.3 L666.0 434.3 L668.0 434.2 L670.0 434.2 L672.0 434.2 L674.0 434.1 L676.0 434.1 L678.0 434.0 L680.0 433.9 L682.0 433.8 L684.0 433.8 L686.0 433.7 L688.0 433.6 L690.0 433.5 L692.0 433.4 L694.0 433.2 L696.0 433.1 L698.0 433.0 L700.0 432.8 L702.0 432.7 L704.0 432.6 L706.0 432.4 L708.0 432.2 L710.0 432.1 L712.0 431.9 L714.0 431.7 L716.0 431.5 L718.0 431.3 L720.0 431.1 L722.0 430.9 L724.0 430.7 L726.0 430.5 L728.0 430.3 L730.0 430.1 L732.0 429.9 L734.0 429.7 L736.0 429.5 L738.0 429.3 L740.0 429.1 L742.0 429.0 L744.0 428.8 L746.0 428.6 L748.0 428.5 L750.0 428.4 L752.0 428.3 L754.0 428.1 L756.0 428.0 L758.0 428.0 L760.0 427.9 L762.0 427.8 L764.0 427.8 L766.0 427.8 L768.0 427.7 L770.0 427.7 L770.0 144.0 L134.0 144.0Z" fill="#00ff16"/>
<path d="M134.0 425.1 L136.0 425.1 L138.0 425.1 L140.0 425.1 L142.0 425.1 L144.0 425.1 L146.0 425.2 L148.0 425.2 L150.0 425.2 L152.0 425.3 L154.0 425.3 L156.0 425.4 L158.0 425.5 L160.0 425.6 L162.0 425.6 L164.0 425.7 L166.0 425.8 L168.0 425.9 L170.0 426.0 L172.0 426.1 L174.0 426.3 L176.0 426.4 L178.0 426.5 L180.0 426.6 L182.0 426.7 L184.0 426.9 L186.0 427.0 L188.0 427.1 L190.0 427.3 L192.0 427.4 L194.0 427.5 L196.0 427.7 L198.0 427.8 L200.0 427.9 L202.0 428.1 L204.0 428.2 L206.0 428.3 L208.0 428.5 L210.0 428.6 L212.0 428.7 L214.0 428.9 L216.0 429.0 L218.0 429.1 L220.0 429.2 L222.0 429.4 L224.0 429.5 L226.0 429.6 L228.0 429.7 L230.0 429.8 L232.0 430.0 L234.0 430.1 L236.0 430.2 L238.0 430.3 L240.0 430.4 L242.0 430.5 L244.0 430.5 L246.0 430.6 L248.0 430.7 L250.0 430.8 L252.0 430.9 L254.0 430.9 L256.0 431.0 L258.0 431.1 L260.0 431.1 L262.0 431.2 L264.0 431.2 L266.0 431.2 L268.0 431.3 L270.0 431.3 L272.0 431.3 L274.0 431.3 L276.0 431.3 L278.0 431.3 L280.0 431.3 L282.0 431.3 L284.0 431.2 L286.0 431.2 L288.0 431.1 L290.0 431.1 L292.0 431.0 L294.0 430.9 L296.0 430.8 L298.0 430.7 L300.0 430.6 L302.0 430.5 L304.0 430.4 L306.0 430.2 L308.0 430.1 L310.0 430.0 L312.0 429.8 L314.0 429.7 L316.0 429.5 L318.0 429.4 L320.0 429.2 L322.0 429.0 L324.0 428.9 L326.0 428.7 L328.0 428.6 L330.0 428.4 L332.0 428.3 L334.0 428.1 L336.0 427.9 L338.0 427.8 L340.0 427.7 L342.0 427.5 L344.0 427.4 L346.0 427.3 L348.0 427.1 L350.0 427.0 L352.0 426.9 L354.0 426.8 L356.0 426.6 L358.0 426.5 L360.0 426.4 L362.0 426.3 L364.0 426.2 L366.0 426.1 L368.0 426.0 L370.0 425.9 L372.0 425.7 L374.0 425.6 L376.0 425.5 L378.0 425.4 L380.0 425.3 L382.0 425.2 L384.0 425.1 L386.0 425.0 L388.0 424.9 L390.0 424.8 L392.0 424.6 L394.0 424.5 L396.0 424.4 L398.0 424.3 L400.0 424.2 L402.0 424.1 L404.0 424.0 L406.0 423.8 L408.0 423.7 L410.0 423.6 L412.0 423.5 L414.0 423.4 L416.0 423.2 L418.0 423.1 L420.0 423.0 L422.0 422.9 L424.0 422.8 L426.0 422.7 L428.0 422.5 L430.0 422.4 L432.0 422.3 L434.0 422.1 L436.0 422.0 L438.0 421.8 L440.0 421.7 L442.0 421.5 L444.0 421.4 L446.0 421.2 L448.0 421.0 L450.0 420.8 L452.0 420.7 L454.0 420.5 L456.0 420.4 L458.0 420.2 L460.0 420.1 L462.0 420.0 L464.0 419.9 L466.0 419.8 L468.0 419.8 L470.0 419.7 L472.0 419.7 L474.0 419.6 L476.0 419.6 L478.0 419.6 L480.0 419.6 L482.0 419.6 L484.0 419.6 L486.0 419.6 L488.0 419.6 L490.0 419.7 L492.0 419.7 L494.0 419.7 L496.0 419.8 L498.0 419.8 L500.0 419.9 L502.0 419.9 L504.0 420.0 L506.0 420.1 L508.0 420.2 L510.0 420.3 L512.0 420.4 L514.0 420.6 L516.0 420.7 L518.0 420.9 L520.0 421.0 L522.0 421.2 L524.0 421.4 L526.0 421.7 L528.0 421.9 L530.0 422.2 L532.0 422.4 L534.0 422.7 L536.0 423.0 L538.0 423.3 L540.0 423.5 L542.0 423.8 L544.0 424.1 L546.0 424.4 L548.0 424.7 L550.0 425.0 L552.0 425.3 L554.0 425.6 L556.0 425.9 L558.0 426.2 L560.0 426.5 L562.0 426.8 L564.0 427.0 L566.0 427.3 L568.0 427.6 L570.0 427.8 L572.0 428.1 L574.0 428.3 L576.0 428.5 L578.0 428.7 L580.0 428.9 L582.0 429.1 L584.0 429.3 L586.0 429.4 L588.0 429.6 L590.0 429.7 L592.0 429.8 L594.0 429.9 L596.0 430.0 L598.0 430.1 L600.0 430.1 L602.0 430.2 L604.0 430.3 L606.0 430.3 L608.0 430.4 L610.0 430.4 L612.0 430.4 L614.0 430.5 L616.0 430.6 L618.0 430.6 L620.0 430.7 L622.0 430.7 L624.0 430.8 L626.0 430.8 L628.0 430.9 L630.0 430.9 L632.0 431.0 L634.0 431.1 L636.0 431.1 L638.0 431.1 L640.0 431.2 L642.0 431.2 L644.0 431.3 L646.0 431.3 L648.0 431.3 L650.0 431.4 L652.0 431.4 L654.0 431.4 L656.0 431.4 L658.0 431.4 L660.0 431.4 L662.0 431.4 L664.0 431.4 L666.0 431.4 L668.0 431.4 L670.0 431.3 L672.0 431.3 L674.0 431.2 L676.0 431.2 L678.0 431.1 L680.0 431.0 L682.0 430.9 L684.0 430.9 L686.0 430.8 L688.0 430.7 L690.0 430.5 L692.0 430.4 L694.0 430.3 L696.0 430.2 L698.0 430.0 L700.0 429.9 L702.0 429.7 L704.0 429.6 L706.0 429.4 L708.0 429.3 L710.0 429.1 L712.0 428.9 L714.0 428.8 L716.0 428.6 L718.0 428.4 L720.0 428.2 L722.0 428.0 L724.0 427.8 L726.0 427.6 L728.0 427.4 L730.0 427.2 L732.0 427.0 L734.0 426.8 L736.0 426.6 L738.0 426.5 L740.0 426.3 L742.0 426.1 L744.0 426.0 L746.0 425.8 L748.0 425.7 L750.0 425.6 L752.0 425.5 L754.0 425.4 L756.0 425.3 L758.0 425.3 L760.0 425.2 L762.0 425.2 L764.0 425.1 L766.0 425.1 L768.0 425.1 L770.0 425.1 L770.0 144.0 L134.0 144.0Z" fill="#00ff07"/>
<path d="M134.0 422.5 L136.0 422.5 L138.0 422.5 L140.0 422.5 L142.0 422.5 L144.0 422.5 L146.0 422.6 L148.0 422.6 L150.0 422.7 L152.0 422.7 L154.0 422.8 L156.0 422.8 L158.0 422.9 L160.0 423.0 L162.0 423.0 L164.0 423.1 L166.0 423.2 L168.0 423.3 L170.0 423.4 L172.0 423.5 L174.0 423.6 L176.0 423.7 L178.0 423.8 L180.0 423.9 L182.0 424.0 L184.0 424.2 L186.0 424.3 L188.0 424.4 L190.0 424.5 L192.0 424.7 L194.0 424.8 L196.0 424.9 L198.0 425.0 L200.0 425.2 L202.0 425.3 L204.0 425.4 L206.0 425.6 L208.0 425.7 L210.0 425.8 L212.0 425.9 L214.0 426.1 L216.0 426.2 L218.0 426.3 L220.0 426.5 L222.0 426.6 L224.0 426.7 L226.0 426.8 L228.0 426.9 L230.0 427.1 L232.0 427.2 L234.0 427.3 L236.0 427.4 L238.0 427.5 L240.0 427.6 L242.0 427.7 L244.0 427.8 L246.0 427.9 L248.0 428.0 L250.0 428.0 L252.0 428.1 L254.0 428.2 L256.0 428.3 L258.0 428.3 L260.0 428.4 L262.0 428.4 L264.0 428.5 L266.0 428.5 L268.0 428.6 L270.0 428.6 L272.0 428.6 L274.0 428.6 L276.0 428.6 L278.0 428.6 L280.0 428.6 L282.0 428.6 L284.0 428.5 L286.0 428.5 L288.0 428.4 L290.0 428.4 L292.0 428.3 L294.0 428.2 L296.0 428.1 L298.0 428.0 L300.0 427.9 L302.0 427.8 L304.0 427.7 L306.0 427.5 L308.0 427.4 L310.0 427.2 L312.0 427.1 L314.0 426.9 L316.0 426.8 L318.0 426.6 L320.0 426.5 L322.0 426.3 L324.0 426.1 L326.0 426.0 L328.0 425.8 L330.0 425.6 L332.0 425.5 L334.0 425.3 L336.0 425.2 L338.0 425.0 L340.0 424.9 L342.0 424.7 L344.0 424.6 L346.0 424.4 L348.0 424.3 L350.0 424.2 L352.0 424.0 L354.0 423.9 L356.0 423.8 L358.0 423.6 L360.0 423.5 L362.0 423.4 L364.0 423.3 L366.0 423.2 L368.0 423.1 L370.0 422.9 L372.0 422.8 L374.0 422.7 L376.0 422.6 L378.0 422.5 L380.0 422.4 L382.0 422.3 L384.0 422.2 L386.0 422.1 L388.0 422.0 L390.0 421.9 L392.0 421.8 L394.0 421.6 L396.0 421.5 L398.0 421.4 L400.0 421.3 L402.0 421.2 L404.0 421.1 L406.0 421.0 L408.0 420.9 L410.0 420.8 L412.0 420.7 L414.0 420.6 L416.0 420.4 L418.0 420.3 L420.0 420.2 L422.0 420.1 L424.0 420.0 L426.0 419.8 L428.0 419.7 L430.0 419.6 L432.0 419.4 L434.0 419.3 L436.0 419.1 L438.0 419.0 L440.0 418.8 L442.0 418.6 L444.0 418.4 L446.0 418.2 L448.0 418.1 L450.0 417.9 L452.0 417.7 L454.0 417.5 L456.0 417.4 L458.0 417.2 L460.0 417.1 L462.0 417.0 L464.0 416.9 L466.0 416.8 L468.0 416.8 L470.0 416.7 L472.0 416.7 L474.0 416.7 L476.0 416.6 L478.0 416.6 L480.0 416.6 L482.0 416.6 L484.0 416.6 L486.0 416.6 L488.0 416.6 L490.0 416.7 L492.0 416.7 L494.0 416.7 L496.0 416.7 L498.0 416.8 L500.0 416.8 L502.0 416.9 L504.0 417.0 L506.0 417.1 L508.0 417.2 L510.0 417.3 L512.0 417.4 L514.0 417.5 L516.0 417.7 L518.0 417.9 L520.0 418.1 L522.0 418.3 L524.0 418.5 L526.0 418.8 L528.0 419.0 L530.0 419.3 L532.0 419.6 L534.0 419.9 L536.0 420.2 L538.0 420.5 L540.0 420.8 L542.0 421.1 L544.0 421.4 L546.0 421.7 L548.0 422.0 L550.0 422.3 L552.0 422.6 L554.0 422.9 L556.0 423.2 L558.0 423.5 L560.0 423.8 L562.0 424.0 L564.0 424.3 L566.0 424.6 L568.0 424.8 L570.0 425.1 L572.0 425.3 L574.0 425.6 L576.0 425.8 L578.0 426.0 L580.0 426.2 L582.0 426.4 L584.0 426.6 L586.0 426.7 L588.0 426.9 L590.0 427.0 L592.0 427.1 L594.0 427.2 L596.0 427.3 L598.0 427.3 L600.0 427.4 L602.0 427.4 L604.0 427.5 L606.0 427.5 L608.0 427.6 L610.0 427.6 L612.0 427.6 L614.0 427.7 L616.0 427.7 L618.0 427.8 L620.0 427.8 L622.0 427.9 L624.0 427.9 L626.0 428.0 L628.0 428.1 L630.0 428.1 L632.0 428.2 L634.0 428.2 L636.0 428.3 L638.0 428.3 L640.0 428.4 L642.0 428.4 L644.0 428.4 L646.0 428.5 L648.0 428.5 L650.0 428.5 L652.0 428.6 L654.0 428.6 L656.0 428.6 L658.0 428.6 L660.0 428.6 L662.0 428.6 L664.0 428.6 L666.0 428.6 L668.0 428.5 L670.0 428.5 L672.0 428.4 L674.0 428.4 L676.0 428.3 L678.0 428.2 L680.0 428.2 L682.0 428.1 L684.0 428.0 L686.0 427.9 L688.0 427.8 L690.0 427.7 L692.0 427.5 L694.0 427.4 L696.0 427.3 L698.0 427.1 L700.0 427.0 L702.0 426.8 L704.0 426.7 L706.0 426.5 L708.0 426.4 L710.0 426.2 L712.0 426.0 L714.0 425.8 L716.0 425.7 L718.0 425.5 L720.0 425.3 L722.0 425.1 L724.0 424.9 L726.0 424.7 L728.0 424.5 L730.0 424.3 L732.0 424.1 L734.0 424.0 L736.0 423.8 L738.0 423.6 L740.0 423.5 L742.0 423.3 L744.0 423.2 L746.0 423.1 L748.0 423.0 L750.0 422.9 L752.0 422.8 L754.0 422.7 L756.0 422.6 L758.0 422.6 L760.0 422.5 L762.0 422.5 L764.0 422.5 L766.0 422.5 L768.0 422.5 L770.0 422.5 L770.0 144.0 L134.0 144.0Z" fill="#00ff00"/>
<path d="M134.0 419.9 L136.0 419.9 L138.0 419.9 L140.0 419.9 L142.0 420.0 L144.0 420.0 L146.0 420.0 L148.0 420.1 L150.0 420.1 L152.0 420.2 L154.0 420.2 L156.0 420.3 L158.0 420.3 L160.0 420.4 L162.0 420.5 L164.0 420.6 L166.0 420.6 L168.0 420.7 L170.0 420.8 L172.0 420.9 L174.0 421.0 L176.0 421.1 L178.0 421.2 L180.0 421.3 L182.0 421.4 L184.0 421.5 L186.0 421.7 L188.0 421.8 L190.0 421.9 L192.0 422.0 L194.0 422.1 L196.0 422.3 L198.0 422.4 L200.0 422.5 L202.0 422.6 L204.0 422.8 L206.0 422.9 L208.0 423.0 L210.0 423.1 L212.0 423.3 L214.0 423.4 L216.0 423.5 L218.0 423.6 L220.0 423.8 L222.0 423.9 L224.0 424.0 L226.0 424.1 L228.0 424.2 L230.0 424.4 L232.0 424.5 L234.0 424.6 L236.0 424.7 L238.0 424.8 L240.0 424.9 L242.0 425.0 L244.0 425.1 L246.0 425.2 L248.0 425.3 L250.0 425.4 L252.0 425.4 L254.0 425.5 L256.0 425.6 L258.0 425.6 L260.0 425.7 L262.0 425.8 L264.0 425.8 L266.0 425.8 L268.0 425.9 L270.0 425.9 L272.0 425.9 L274.0 425.9 L276.0 425.9 L278.0 425.9 L280.0 425.9 L282.0 425.9 L284.0 425.9 L286.0 425.8 L288.0 425.8 L290.0 425.7 L292.0 425.6 L294.0 425.5 L296.0 425.5 L298.0 425.3 L300.0 425.2 L302.0 425.1 L304.0 425.0 L306.0 424.9 L308.0 424.7 L310.0 424.6 L312.0 424.4 L314.0 424.3 L316.0 424.1 L318.0 424.0 L320.0 423.8 L322.0 423.6 L324.0 423.5 L326.0 423.3 L328.0 423.1 L330.0 423.0 L332.0 422.8 L334.0 422.7 L336.0 422.5 L338.0 422.3 L340.0 422.2 L342.0 422.0 L344.0 421.9 L346.0 421.7 L348.0 421.6 L350.0 421.5 L352.0 421.3 L354.0 421.2 L356.0 421.1 L358.0 420.9 L360.0 420.8 L362.0 420.7 L364.0 420.5 L366.0 420.4 L368.0 420.3 L370.0 420.2 L372.0 420.1 L374.0 419.9 L376.0 419.8 L378.0 419.7 L380.0 419.6 L382.0 419.5 L384.0 419.4 L386.0 419.3 L388.0 419.2 L390.0 419.1 L392.0 419.0 L394.0 418.9 L396.0 418.8 L398.0 418.6 L400.0 418.5 L402.0 418.4 L404.0 418.3 L406.0 418.2 L408.0 418.1 L410.0 418.0 L412.0 417.9 L414.0 417.8 L416.0 417.6 L418.0 417.5 L420.0 417.4 L422.0 417.3 L424.0 417.1 L426.0 417.0 L428.0 416.9 L430.0 416.7 L432.0 416.6 L434.0 416.4 L436.0 416.3 L438.0 416.1 L440.0 415.9 L442.0 415.7 L444.0 415.5 L446.0 415.3 L448.0 415.1 L450.0 414.9 L452.0 414.7 L454.0 414.6 L456.0 414.4 L458.0 414.2 L460.0 414.1 L462.0 414.0 L464.0 413.9 L466.0 413.8 L468.0 413.7 L470.0 413.7 L472.0 413.7 L474.0 413.6 L476.0 413.6 L478.0 413.6 L480.0 413.6 L482.0 413.6 L484.0 413.6 L486.0 413.6 L488.0 413.6 L490.0 413.6 L492.0 413.6 L494.0 413.7 L496.0 413.7 L498.0 413.7 L500.0 413.8 L502.0 413.9 L504.0 413.9 L506.0 414.0 L508.0 414.1 L510.0 414.2 L512.0 414.4 L514.0 414.5 L516.0 414.7 L518.0 414.9 L520.0 415.1 L522.0 415.3 L524.0 415.6 L526.0 415.9 L528.0 416.1 L530.0 416.4 L532.0 416.7 L534.0 417.0 L536.0 417.4 L538.0 417.7 L540.0 418.0 L542.0 418.3 L544.0 418.6 L546.0 418.9 L548.0 419.2 L550.0 419.5 L552.0 419.8 L554.0 420.1 L556.0 420.4 L558.0 420.7 L560.0 421.0 L562.0 421.3 L564.0 421.6 L566.0 421.8 L568.0 422.1 L570.0 422.3 L572.0 422.6 L574.0 422.8 L576.0 423.0 L578.0 423.2 L580.0 423.4 L582.0 423.6 L584.0 423.8 L586.0 423.9 L588.0 424.1 L590.0 424.2 L592.0 424.3 L594.0 424.4 L596.0 424.5 L598.0 424.5 L600.0 424.6 L602.0 424.6 L604.0 424.7 L606.0 424.7 L608.0 424.8 L610.0 424.8 L612.0 424.8 L614.0 424.9 L616.0 424.9 L618.0 425.0 L620.0 425.0 L622.0 425.1 L624.0 425.1 L626.0 425.2 L628.0 425.3 L630.0 425.3 L632.0 425.4 L634.0 425.4 L636.0 425.5 L638.0 425.5 L640.0 425.6 L642.0 425.6 L644.0 425.6 L646.0 425.7 L648.0 425.7 L650.0 425.7 L652.0 425.8 L654.0 425.8 L656.0 425.8 L658.0 425.8 L660.0 425.8 L662.0 425.8 L664.0 425.8 L666.0 425.8 L668.0 425.7 L670.0 425.7 L672.0 425.7 L674.0 425.6 L676.0 425.5 L678.0 425.5 L680.0 425.4 L682.0 425.3 L684.0 425.2 L686.0 425.1 L688.0 425.0 L690.0 424.9 L692.0 424.7 L694.0 424.6 L696.0 424.5 L698.0 424.3 L700.0 424.2 L702.0 424.0 L704.0 423.9 L706.0 423.7 L708.0 423.6 L710.0 423.4 L712.0 423.2 L714.0 423.0 L716.0 422.9 L718.0 422.7 L720.0 422.5 L722.0 422.3 L724.0 422.1 L726.0 421.9 L728.0 421.7 L730.0 421.6 L732.0 421.4 L734.0 421.2 L736.0 421.0 L738.0 420.9 L740.0 420.7 L742.0 420.6 L744.0 420.5 L746.0 420.3 L748.0 420.2 L750.0 420.2 L752.0 420.1 L754.0 420.0 L756.0 420.0 L758.0 419.9 L760.0 419.9 L762.0 419.9 L764.0 419.9 L766.0 419.9 L768.0 419.9 L770.0 419.9 L770.0 144.0 L134.0 144.0Z" fill="#00ff00"/>
<path d="M134.0 417.4 L136.0 417.4 L138.0 417.4 L140.0 417.4 L142.0 417.5 L144.0 417.5 L146.0 417.5 L148.0 417.6 L150.0 417.6 L152.0 417.7 L154.0 417.8 L156.0 417.8 L158.0 417.9 L160.0 418.0 L162.0 418.0 L164.0 418.1 L166.0 418.2 L168.0 418.3 L170.0 418.4 L172.0 418.5 L174.0 418.6 L176.0 418.6 L178.0 418.8 L180.0 418.9 L182.0 419.0 L184.0 419.1 L186.0 419.2 L188.0 419.3 L190.0 419.4 L192.0 419.5 L194.0 419.6 L196.0 419.8 L198.0 419.9 L200.0 420.0 L202.0 420.1 L204.0 420.2 L206.0 420.4 L208.0 420.5 L210.0 420.6 L212.0 420.7 L214.0 420.9 L216.0 421.0 L218.0 421.1 L220.0 421.2 L222.0 421.4 L224.0 421.5 L226.0 421.6 L228.0 421.7 L230.0 421.8 L232.0 421.9 L234.0 422.0 L236.0 422.1 L238.0 422.3 L240.0 422.4 L242.0 422.4 L244.0 422.5 L246.0 422.6 L248.0 422.7 L250.0 422.8 L252.0 422.9 L254.0 422.9 L256.0 423.0 L258.0 423.1 L260.0 423.1 L262.0 423.2 L264.0 423.2 L266.0 423.2 L268.0 423.3 L270.0 423.3 L272.0 423.3 L274.0 423.3 L276.0 423.3 L278.0 423.3 L280.0 423.3 L282.0 423.3 L284.0 423.2 L286.0 423.2 L288.0 423.1 L290.0 423.1 L292.0 423.0 L294.0 422.9 L296.0 422.8 L298.0 422.7 L300.0 422.6 L302.0 422.5 L304.0 422.4 L306.0 422.3 L308.0 422.1 L310.0 422.0 L312.0 421.9 L314.0 421.7 L316.0 421.6 L318.0 421.4 L320.0 421.3 L322.0 421.1 L324.0 421.0 L326.0 420.8 L328.0 420.6 L330.0 420.5 L332.0 420.3 L334.0 420.2 L336.0 420.0 L338.0 419.9 L340.0 419.7 L342.0 419.6 L344.0 419.4 L346.0 419.3 L348.0 419.1 L350.0 419.0 L352.0 418.9 L354.0 418.7 L356.0 418.6 L358.0 418.4 L360.0 418.3 L362.0 418.2 L364.0 418.1 L366.0 417.9 L368.0 417.8 L370.0 417.7 L372.0 417.5 L374.0 417.4 L376.0 417.3 L378.0 417.2 L380.0 417.1 L382.0 416.9 L384.0 416.8 L386.0 416.7 L388.0 416.6 L390.0 416.5 L392.0 416.3 L394.0 416.2 L396.0 416.1 L398.0 416.0 L400.0 415.9 L402.0 415.7 L404.0 415.6 L406.0 415.5 L408.0 415.4 L410.0 415.2 L412.0 415.1 L414.0 415.0 L416.0 414.9 L418.0 414.7 L420.0 414.6 L422.0 414.5 L424.0 414.3 L426.0 414.2 L428.0 414.0 L430.0 413.9 L432.0 413.7 L434.0 413.6 L436.0 413.4 L438.0 413.2 L440.0 413.0 L442.0 412.8 L444.0 412.6 L446.0 412.4 L448.0 412.2 L450.0 412.0 L452.0 411.8 L454.0 411.7 L456.0 411.5 L458.0 411.3 L460.0 411.2 L462.0 411.1 L464.0 411.0 L466.0 410.9 L468.0 410.8 L470.0 410.7 L472.0 410.7 L474.0 410.6 L476.0 410.6 L478.0 410.6 L480.0 410.6 L482.0 410.6 L484.0 410.6 L486.0 410.6 L488.0 410.6 L490.0 410.6 L492.0 410.6 L494.0 410.6 L496.0 410.7 L498.0 410.7 L500.0 410.8 L502.0 410.9 L504.0 410.9 L506.0 411.0 L508.0 411.1 L510.0 411.3 L512.0 411.4 L514.0 411.6 L516.0 411.8 L518.0 412.0 L520.0 412.2 L522.0 412.4 L524.0 412.7 L526.0 413.0 L528.0 413.3 L530.0 413.6 L532.0 413.9 L534.0 414.2 L536.0 414.6 L538.0 414.9 L540.0 415.2 L542.0 415.5 L544.0 415.8 L546.0 416.2 L548.0 416.5 L550.0 416.8 L552.0 417.1 L554.0 417.3 L556.0 417.6 L558.0 417.9 L560.0 418.2 L562.0 418.5 L564.0 418.7 L566.0 419.0 L568.0 419.3 L570.0 419.5 L572.0 419.7 L574.0 420.0 L576.0 420.2 L578.0 420.4 L580.0 420.6 L582.0 420.8 L584.0 420.9 L586.0 421.1 L588.0 421.2 L590.0 421.4 L592.0 421.5 L594.0 421.6 L596.0 421.7 L598.0 421.7 L600.0 421.8 L602.0 421.8 L604.0 421.9 L606.0 421.9 L608.0 422.0 L610.0 422.0 L612.0 422.1 L614.0 422.1 L616.0 422.2 L618.0 422.2 L620.0 422.3 L622.0 422.4 L624.0 422.4 L626.0 422.5 L628.0 422.5 L630.0 422.6 L632.0 422.6 L634.0 422.7 L636.0 422.8 L638.0 422.8 L640.0 422.9 L642.0 422.9 L644.0 422.9 L646.0 423.0 L648.0 423.0 L650.0 423.0 L652.0 423.1 L654.0 423.1 L656.0 423.1 L658.0 423.1 L660.0 423.1 L662.0 423.1 L664.0 423.1 L666.0 423.1 L668.0 423.0 L670.0 423.0 L672.0 423.0 L674.0 422.9 L676.0 422.8 L678.0 422.8 L680.0 422.7 L682.0 422.6 L684.0 422.5 L686.0 422.4 L688.0 422.3 L690.0 422.2 L692.0 422.1 L694.0 422.0 L696.0 421.8 L698.0 421.7 L700.0 421.5 L702.0 421.4 L704.0 421.2 L706.0 421.1 L708.0 420.9 L710.0 420.8 L712.0 420.6 L714.0 420.4 L716.0 420.2 L718.0 420.0 L720.0 419.9 L722.0 419.7 L724.0 419.5 L726.0 419.3 L728.0 419.1 L730.0 418.9 L732.0 418.7 L734.0 418.6 L736.0 418.4 L738.0 418.2 L740.0 418.1 L742.0 418.0 L744.0 417.8 L746.0 417.7 L748.0 417.6 L750.0 417.6 L752.0 417.5 L754.0 417.5 L756.0 417.4 L758.0 417.4 L760.0 417.4 L762.0 417.4 L764.0 417.4 L766.0 417.4 L768.0 417.4 L770.0 417.4 L770.0 144.0 L134.0 144.0Z" fill="#0eff00"/>
<path d="M134.0 415.0 L136.0 415.0 L138.0 415.0 L140.0 415.0 L142.0 415.1 L144.0 415.1 L146.0 415.1 L148.0 415.2 L150.0 415.3 L152.0 415.3 L154.0 415.4 L156.0 415.4 L158.0 415.5 L160.0 415.6 L162.0 415.7 L164.0 415.7 L166.0 415.8 L168.0 415.9 L170.0 416.0 L172.0 416.1 L174.0 416.2 L176.0 416.3 L178.0 416.4 L180.0 416.5 L182.0 416.6 L184.0 416.7 L186.0 416.8 L188.0 416.9 L190.0 417.0 L192.0 417.2 L194.0 417.3 L196.0 417.4 L198.0 417.5 L200.0 417.6 L202.0 417.7 L204.0 417.9 L206.0 418.0 L208.0 418.1 L210.0 418.2 L212.0 418.4 L214.0 418.5 L216.0 418.6 L218.0 418.7 L220.0 418.8 L222.0 419.0 L224.0 419.1 L226.0 419.2 L228.0 419.3 L230.0 419.4 L232.0 419.5 L234.0 419.6 L236.0 419.7 L238.0 419.8 L240.0 419.9 L242.0 420.0 L244.0 420.1 L246.0 420.2 L248.0 420.2 L250.0 420.3 L252.0 420.4 L254.0 420.4 L256.0 420.5 L258.0 420.6 L260.0 420.6 L262.0 420.6 L264.0 420.7 L266.0 420.7 L268.0 420.7 L270.0 420.7 L272.0 420.8 L274.0 420.8 L276.0 420.8 L278.0 420.7 L280.0 420.7 L282.0 420.7 L284.0 420.7 L286.0 420.6 L288.0 420.6 L290.0 420.5 L292.0 420.4 L294.0 420.4 L296.0 420.3 L298.0 420.2 L300.0 420.1 L302.0 420.0 L304.0 419.9 L306.0 419.8 L308.0 419.6 L310.0 419.5 L312.0 419.4 L314.0 419.2 L316.0 419.1 L318.0 419.0 L320.0 418.8 L322.0 418.7 L324.0 418.5 L326.0 418.4 L328.0 418.3 L330.0 418.1 L332.0 418.0 L334.0 417.8 L336.0 417.7 L338.0 417.5 L340.0 417.4 L342.0 417.2 L344.0 417.1 L346.0 417.0 L348.0 416.8 L350.0 416.7 L352.0 416.5 L354.0 416.4 L356.0 416.3 L358.0 416.1 L360.0 416.0 L362.0 415.9 L364.0 415.7 L366.0 415.6 L368.0 415.5 L370.0 415.3 L372.0 415.2 L374.0 415.1 L376.0 414.9 L378.0 414.8 L380.0 414.7 L382.0 414.5 L384.0 414.4 L386.0 414.2 L388.0 414.1 L390.0 414.0 L392.0 413.8 L394.0 413.7 L396.0 413.5 L398.0 413.4 L400.0 413.3 L402.0 413.1 L404.0 413.0 L406.0 412.8 L408.0 412.7 L410.0 412.5 L412.0 412.4 L414.0 412.2 L416.0 412.1 L418.0 411.9 L420.0 411.8 L422.0 411.7 L424.0 411.5 L426.0 411.3 L428.0 411.2 L430.0 411.0 L432.0 410.9 L434.0 410.7 L436.0 410.5 L438.0 410.4 L440.0 410.2 L442.0 410.0 L444.0 409.8 L446.0 409.6 L448.0 409.4 L450.0 409.2 L452.0 409.0 L454.0 408.8 L456.0 408.6 L458.0 408.5 L460.0 408.3 L462.0 408.2 L464.0 408.1 L466.0 407.9 L468.0 407.9 L470.0 407.8 L472.0 407.7 L474.0 407.7 L476.0 407.6 L478.0 407.6 L480.0 407.6 L482.0 407.5 L484.0 407.5 L486.0 407.5 L488.0 407.5 L490.0 407.5 L492.0 407.6 L494.0 407.6 L496.0 407.7 L498.0 407.7 L500.0 407.8 L502.0 407.9 L504.0 407.9 L506.0 408.1 L508.0 408.2 L510.0 408.3 L512.0 408.5 L514.0 408.6 L516.0 408.8 L518.0 409.0 L520.0 409.3 L522.0 409.5 L524.0 409.8 L526.0 410.1 L528.0 410.4 L530.0 410.7 L532.0 411.1 L534.0 411.4 L536.0 411.7 L538.0 412.1 L540.0 412.4 L542.0 412.7 L544.0 413.1 L546.0 413.4 L548.0 413.7 L550.0 414.0 L552.0 414.2 L554.0 414.5 L556.0 414.8 L558.0 415.1 L560.0 415.4 L562.0 415.6 L564.0 415.9 L566.0 416.1 L568.0 416.4 L570.0 416.6 L572.0 416.9 L574.0 417.1 L576.0 417.3 L578.0 417.5 L580.0 417.7 L582.0 417.9 L584.0 418.1 L586.0 418.2 L588.0 418.4 L590.0 418.5 L592.0 418.6 L594.0 418.7 L596.0 418.8 L598.0 418.9 L600.0 419.0 L602.0 419.0 L604.0 419.1 L606.0 419.2 L608.0 419.2 L610.0 419.3 L612.0 419.3 L614.0 419.4 L616.0 419.5 L618.0 419.5 L620.0 419.6 L622.0 419.7 L624.0 419.7 L626.0 419.8 L628.0 419.9 L630.0 419.9 L632.0 420.0 L634.0 420.0 L636.0 420.1 L638.0 420.1 L640.0 420.2 L642.0 420.2 L644.0 420.3 L646.0 420.3 L648.0 420.4 L650.0 420.4 L652.0 420.4 L654.0 420.4 L656.0 420.4 L658.0 420.5 L660.0 420.5 L662.0 420.5 L664.0 420.4 L666.0 420.4 L668.0 420.4 L670.0 420.4 L672.0 420.3 L674.0 420.3 L676.0 420.2 L678.0 420.2 L680.0 420.1 L682.0 420.0 L684.0 419.9 L686.0 419.8 L688.0 419.7 L690.0 419.6 L692.0 419.5 L694.0 419.4 L696.0 419.3 L698.0 419.1 L700.0 419.0 L702.0 418.8 L704.0 418.7 L706.0 418.5 L708.0 418.4 L710.0 418.2 L712.0 418.1 L714.0 417.9 L716.0 417.7 L718.0 417.5 L720.0 417.3 L722.0 417.1 L724.0 417.0 L726.0 416.8 L728.0 416.6 L730.0 416.4 L732.0 416.2 L734.0 416.0 L736.0 415.9 L738.0 415.7 L740.0 415.6 L742.0 415.4 L744.0 415.3 L746.0 415.2 L748.0 415.1 L750.0 415.1 L752.0 415.0 L754.0 415.0 L756.0 414.9 L758.0 414.9 L760.0 414.9 L762.0 414.9 L764.0 414.9 L766.0 414.9 L768.0 415.0 L770.0 415.0 L770.0 144.0 L134.0 144.0Z" fill="#1bff00"/>
<path d="M134.0 412.5 L136.0 412.5 L138.0 412.6 L140.0 412.6 L142.0 412.7 L144.0 412.7 L146.0 412.8 L148.0 412.8 L150.0 412.9 L152.0 412.9 L154.0 413.0 L156.0 413.1 L158.0 413.2 L160.0 413.2 L162.0 413.3 L164.0 413.4 L166.0 413.5 L168.0 413.6 L170.0 413.7 L172.0 413.8 L174.0 413.9 L176.0 414.0 L178.0 414.1 L180.0 414.2 L182.0 414.3 L184.0 414.4 L186.0 414.5 L188.0 414.6 L190.0 414.7 L192.0 414.8 L194.0 414.9 L196.0 415.1 L198.0 415.2 L200.0 415.3 L202.0 415.4 L204.0 415.5 L206.0 415.6 L208.0 415.8 L210.0 415.9 L212.0 416.0 L214.0 416.1 L216.0 416.2 L218.0 416.3 L220.0 416.5 L222.0 416.6 L224.0 416.7 L226.0 416.8 L228.0 416.9 L230.0 417.0 L232.0 417.1 L234.0 417.2 L236.0 417.3 L238.0 417.4 L240.0 417.5 L242.0 417.6 L244.0 417.6 L246.0 417.7 L248.0 417.8 L250.0 417.9 L252.0 417.9 L254.0 418.0 L256.0 418.0 L258.0 418.1 L260.0 418.1 L262.0 418.1 L264.0 418.2 L266.0 418.2 L268.0 418.2 L270.0 418.2 L272.0 418.2 L274.0 418.2 L276.0 418.2 L278.0 418.2 L280.0 418.1 L282.0 418.1 L284.0 418.1 L286.0 418.0 L288.0 418.0 L290.0 417.9 L292.0 417.9 L294.0 417.8 L296.0 417.7 L298.0 417.6 L300.0 417.5 L302.0 417.4 L304.0 417.3 L306.0 417.2 L308.0 417.1 L310.0 417.0 L312.0 416.9 L314.0 416.8 L316.0 416.7 L318.0 416.5 L320.0 416.4 L322.0 416.3 L324.0 416.2 L326.0 416.0 L328.0 415.9 L330.0 415.8 L332.0 415.6 L334.0 415.5 L336.0 415.3 L338.0 415.2 L340.0 415.1 L342.0 414.9 L344.0 414.8 L346.0 414.7 L348.0 414.5 L350.0 414.4 L352.0 414.3 L354.0 414.1 L356.0 414.0 L358.0 413.9 L360.0 413.7 L362.0 413.6 L364.0 413.5 L366.0 413.3 L368.0 413.2 L370.0 413.0 L372.0 412.9 L374.0 412.7 L376.0 412.6 L378.0 412.4 L380.0 412.3 L382.0 412.1 L384.0 412.0 L386.0 411.8 L388.0 411.7 L390.0 411.5 L392.0 411.3 L394.0 411.2 L396.0 411.0 L398.0 410.8 L400.0 410.7 L402.0 410.5 L404.0 410.3 L406.0 410.1 L408.0 410.0 L410.0 409.8 L412.0 409.6 L414.0 409.5 L416.0 409.3 L418.0 409.1 L420.0 409.0 L422.0 408.8 L424.0 408.7 L426.0 408.5 L428.0 408.3 L430.0 408.2 L432.0 408.0 L434.0 407.8 L436.0 407.7 L438.0 407.5 L440.0 407.3 L442.0 407.1 L444.0 406.9 L446.0 406.7 L448.0 406.5 L450.0 406.3 L452.0 406.1 L454.0 405.9 L456.0 405.7 L458.0 405.6 L460.0 405.4 L462.0 405.3 L464.0 405.1 L466.0 405.0 L468.0 404.9 L470.0 404.8 L472.0 404.7 L474.0 404.6 L476.0 404.6 L478.0 404.5 L480.0 404.5 L482.0 404.4 L484.0 404.4 L486.0 404.4 L488.0 404.4 L490.0 404.5 L492.0 404.5 L494.0 404.5 L496.0 404.6 L498.0 404.7 L500.0 404.7 L502.0 404.8 L504.0 404.9 L506.0 405.0 L508.0 405.2 L510.0 405.3 L512.0 405.5 L514.0 405.7 L516.0 405.9 L518.0 406.1 L520.0 406.4 L522.0 406.6 L524.0 406.9 L526.0 407.2 L528.0 407.6 L530.0 407.9 L532.0 408.2 L534.0 408.6 L536.0 408.9 L538.0 409.2 L540.0 409.6 L542.0 409.9 L544.0 410.2 L546.0 410.5 L548.0 410.8 L550.0 411.1 L552.0 411.4 L554.0 411.7 L556.0 411.9 L558.0 412.2 L560.0 412.5 L562.0 412.7 L564.0 413.0 L566.0 413.2 L568.0 413.5 L570.0 413.7 L572.0 413.9 L574.0 414.1 L576.0 414.4 L578.0 414.6 L580.0 414.8 L582.0 414.9 L584.0 415.1 L586.0 415.3 L588.0 415.4 L590.0 415.6 L592.0 415.7 L594.0 415.8 L596.0 415.9 L598.0 416.0 L600.0 416.1 L602.0 416.2 L604.0 416.3 L606.0 416.4 L608.0 416.5 L610.0 416.5 L612.0 416.6 L614.0 416.7 L616.0 416.8 L618.0 416.8 L620.0 416.9 L622.0 417.0 L624.0 417.1 L626.0 417.1 L628.0 417.2 L630.0 417.3 L632.0 417.3 L634.0 417.4 L636.0 417.5 L638.0 417.5 L640.0 417.6 L642.0 417.6 L644.0 417.7 L646.0 417.7 L648.0 417.7 L650.0 417.8 L652.0 417.8 L654.0 417.8 L656.0 417.8 L658.0 417.8 L660.0 417.8 L662.0 417.8 L664.0 417.8 L666.0 417.8 L668.0 417.8 L670.0 417.7 L672.0 417.7 L674.0 417.7 L676.0 417.6 L678.0 417.6 L680.0 417.5 L682.0 417.4 L684.0 417.3 L686.0 417.3 L688.0 417.2 L690.0 417.1 L692.0 417.0 L694.0 416.8 L696.0 416.7 L698.0 416.6 L700.0 416.5 L702.0 416.3 L704.0 416.2 L706.0 416.0 L708.0 415.9 L710.0 415.7 L712.0 415.6 L714.0 415.4 L716.0 415.2 L718.0 415.0 L720.0 414.9 L722.0 414.7 L724.0 414.5 L726.0 414.3 L728.0 414.1 L730.0 413.9 L732.0 413.7 L734.0 413.5 L736.0 413.4 L738.0 413.2 L740.0 413.0 L742.0 412.9 L744.0 412.8 L746.0 412.7 L748.0 412.6 L750.0 412.5 L752.0 412.5 L754.0 412.5 L756.0 412.4 L758.0 412.4 L760.0 412.4 L762.0 412.5 L764.0 412.5 L766.0 412.5 L768.0 412.5 L770.0 412.5 L770.0 144.0 L134.0 144.0Z" fill="#29ff00"/>
<path d="M134.0 410.0 L136.0 410.0 L138.0 410.1 L140.0 410.1 L142.0 410.2 L144.0 410.2 L146.0 410.3 L148.0 410.4 L150.0 410.4 L152.0 410.5 L154.0 410.6 L156.0 410.6 L158.0 410.7 L160.0 410.8 L162.0 410.9 L164.0 411.0 L166.0 411.1 L168.0 411.2 L170.0 411.3 L172.0 411.4 L174.0 411.4 L176.0 411.6 L178.0 411.7 L180.0 411.8 L182.0 411.9 L184.0 412.0 L186.0 412.1 L188.0 412.2 L190.0 412.3 L192.0 412.4 L194.0 412.5 L196.0 412.6 L198.0 412.8 L200.0 412.9 L202.0 413.0 L204.0 413.1 L206.0 413.2 L208.0 413.3 L210.0 413.5 L212.0 413.6 L214.0 413.7 L216.0 413.8 L218.0 413.9 L220.0 414.0 L222.0 414.1 L224.0 414.2 L226.0 414.3 L228.0 414.5 L230.0 414.5 L232.0 414.6 L234.0 414.7 L236.0 414.8 L238.0 414.9 L240.0 415.0 L242.0 415.1 L244.0 415.2 L246.0 415.2 L248.0 415.3 L250.0 415.3 L252.0 415.4 L254.0 415.5 L256.0 415.5 L258.0 415.5 L260.0 415.6 L262.0 415.6 L264.0 415.6 L266.0 415.6 L268.0 415.6 L270.0 415.6 L272.0 415.6 L274.0 415.6 L276.0 415.6 L278.0 415.6 L280.0 415.5 L282.0 415.5 L284.0 415.5 L286.0 415.4 L288.0 415.4 L290.0 415.3 L292.0 415.2 L294.0 415.2 L296.0 415.1 L298.0 415.0 L300.0 414.9 L302.0 414.9 L304.0 414.8 L306.0 414.7 L308.0 414.6 L310.0 414.5 L312.0 414.4 L314.0 414.3 L316.0 414.1 L318.0 414.0 L320.0 413.9 L322.0 413.8 L324.0 413.7 L326.0 413.6 L328.0 413.4 L330.0 413.3 L332.0 413.2 L334.0 413.1 L336.0 412.9 L338.0 412.8 L340.0 412.7 L342.0 412.6 L344.0 412.4 L346.0 412.3 L348.0 412.2 L350.0 412.0 L352.0 411.9 L354.0 411.8 L356.0 411.6 L358.0 411.5 L360.0 411.4 L362.0 411.2 L364.0 411.1 L366.0 410.9 L368.0 410.8 L370.0 410.6 L372.0 410.5 L374.0 410.3 L376.0 410.2 L378.0 410.0 L380.0 409.8 L382.0 409.7 L384.0 409.5 L386.0 409.3 L388.0 409.1 L390.0 408.9 L392.0 408.8 L394.0 408.6 L396.0 408.4 L398.0 408.2 L400.0 408.0 L402.0 407.8 L404.0 407.6 L406.0 407.4 L408.0 407.2 L410.0 407.0 L412.0 406.8 L414.0 406.6 L416.0 406.5 L418.0 406.3 L420.0 406.1 L422.0 405.9 L424.0 405.7 L426.0 405.6 L428.0 405.4 L430.0 405.2 L432.0 405.0 L434.0 404.9 L436.0 404.7 L438.0 404.5 L440.0 404.3 L442.0 404.1 L444.0 403.9 L446.0 403.7 L448.0 403.5 L450.0 403.3 L452.0 403.1 L454.0 402.9 L456.0 402.8 L458.0 402.6 L460.0 402.4 L462.0 402.2 L464.0 402.1 L466.0 401.9 L468.0 401.8 L470.0 401.7 L472.0 401.6 L474.0 401.5 L476.0 401.4 L478.0 401.3 L480.0 401.3 L482.0 401.2 L484.0 401.2 L486.0 401.2 L488.0 401.2 L490.0 401.3 L492.0 401.3 L494.0 401.3 L496.0 401.4 L498.0 401.5 L500.0 401.6 L502.0 401.7 L504.0 401.8 L506.0 401.9 L508.0 402.1 L510.0 402.3 L512.0 402.4 L514.0 402.6 L516.0 402.9 L518.0 403.1 L520.0 403.4 L522.0 403.6 L524.0 403.9 L526.0 404.3 L528.0 404.6 L530.0 404.9 L532.0 405.3 L534.0 405.6 L536.0 406.0 L538.0 406.3 L540.0 406.7 L542.0 407.0 L544.0 407.3 L546.0 407.6 L548.0 407.9 L550.0 408.2 L552.0 408.5 L554.0 408.7 L556.0 409.0 L558.0 409.3 L560.0 409.5 L562.0 409.8 L564.0 410.0 L566.0 410.3 L568.0 410.5 L570.0 410.7 L572.0 411.0 L574.0 411.2 L576.0 411.4 L578.0 411.6 L580.0 411.8 L582.0 412.0 L584.0 412.1 L586.0 412.3 L588.0 412.5 L590.0 412.6 L592.0 412.8 L594.0 412.9 L596.0 413.0 L598.0 413.2 L600.0 413.3 L602.0 413.4 L604.0 413.5 L606.0 413.6 L608.0 413.7 L610.0 413.8 L612.0 413.9 L614.0 414.0 L616.0 414.1 L618.0 414.1 L620.0 414.2 L622.0 414.3 L624.0 414.4 L626.0 414.5 L628.0 414.5 L630.0 414.6 L632.0 414.7 L634.0 414.7 L636.0 414.8 L638.0 414.9 L640.0 414.9 L642.0 415.0 L644.0 415.0 L646.0 415.0 L648.0 415.1 L650.0 415.1 L652.0 415.1 L654.0 415.2 L656.0 415.2 L658.0 415.2 L660.0 415.2 L662.0 415.2 L664.0 415.2 L666.0 415.2 L668.0 415.1 L670.0 415.1 L672.0 415.1 L674.0 415.0 L676.0 415.0 L678.0 414.9 L680.0 414.9 L682.0 414.8 L684.0 414.7 L686.0 414.7 L688.0 414.6 L690.0 414.5 L692.0 414.4 L694.0 414.3 L696.0 414.2 L698.0 414.0 L700.0 413.9 L702.0 413.8 L704.0 413.7 L706.0 413.5 L708.0 413.4 L710.0 413.2 L712.0 413.0 L714.0 412.9 L716.0 412.7 L718.0 412.5 L720.0 412.3 L722.0 412.1 L724.0 411.9 L726.0 411.7 L728.0 411.5 L730.0 411.4 L732.0 411.2 L734.0 411.0 L736.0 410.8 L738.0 410.6 L740.0 410.5 L742.0 410.3 L744.0 410.2 L746.0 410.1 L748.0 410.1 L750.0 410.0 L752.0 409.9 L754.0 409.9 L756.0 409.9 L758.0 409.9 L760.0 409.9 L762.0 409.9 L764.0 410.0 L766.0 410.0 L768.0 410.0 L770.0 410.0 L770.0 144.0 L134.0 144.0Z" fill="#36ff00"/>
<path d="M134.0 407.4 L136.0 407.4 L138.0 407.4 L140.0 407.5 L142.0 407.6 L144.0 407.6 L146.0 407.7 L148.0 407.8 L150.0 407.8 L152.0 407.9 L154.0 408.0 L156.0 408.1 L158.0 408.1 L160.0 408.2 L162.0 408.3 L164.0 408.4 L166.0 408.5 L168.0 408.6 L170.0 408.7 L172.0 408.8 L174.0 408.9 L176.0 409.0 L178.0 409.1 L180.0 409.2 L182.0 409.3 L184.0 409.4 L186.0 409.5 L188.0 409.6 L190.0 409.7 L192.0 409.8 L194.0 410.0 L196.0 410.1 L198.0 410.2 L200.0 410.3 L202.0 410.4 L204.0 410.5 L206.0 410.6 L208.0 410.8 L210.0 410.9 L212.0 411.0 L214.0 411.1 L216.0 411.2 L218.0 411.3 L220.0 411.4 L222.0 411.5 L224.0 411.6 L226.0 411.7 L228.0 411.8 L230.0 411.9 L232.0 412.0 L234.0 412.1 L236.0 412.2 L238.0 412.3 L240.0 412.4 L242.0 412.4 L244.0 412.5 L246.0 412.6 L248.0 412.6 L250.0 412.7 L252.0 412.8 L254.0 412.8 L256.0 412.8 L258.0 412.9 L260.0 412.9 L262.0 412.9 L264.0 412.9 L266.0 412.9 L268.0 412.9 L270.0 412.9 L272.0 412.9 L274.0 412.9 L276.0 412.9 L278.0 412.9 L280.0 412.8 L282.0 412.8 L284.0 412.8 L286.0 412.7 L288.0 412.7 L290.0 412.6 L292.0 412.5 L294.0 412.5 L296.0 412.4 L298.0 412.3 L300.0 412.2 L302.0 412.2 L304.0 412.1 L306.0 412.0 L308.0 411.9 L310.0 411.8 L312.0 411.7 L314.0 411.6 L316.0 411.5 L318.0 411.4 L320.0 411.2 L322.0 411.1 L324.0 411.0 L326.0 410.9 L328.0 410.8 L330.0 410.7 L332.0 410.5 L334.0 410.4 L336.0 410.3 L338.0 410.2 L340.0 410.1 L342.0 409.9 L344.0 409.8 L346.0 409.7 L348.0 409.6 L350.0 409.4 L352.0 409.3 L354.0 409.2 L356.0 409.0 L358.0 408.9 L360.0 408.8 L362.0 408.6 L364.0 408.5 L366.0 408.3 L368.0 408.2 L370.0 408.0 L372.0 407.9 L374.0 407.7 L376.0 407.5 L378.0 407.4 L380.0 407.2 L382.0 407.0 L384.0 406.8 L386.0 406.6 L388.0 406.4 L390.0 406.2 L392.0 406.0 L394.0 405.8 L396.0 405.6 L398.0 405.4 L400.0 405.2 L402.0 405.0 L404.0 404.8 L406.0 404.5 L408.0 404.3 L410.0 404.1 L412.0 403.9 L414.0 403.7 L416.0 403.5 L418.0 403.3 L420.0 403.1 L422.0 402.9 L424.0 402.7 L426.0 402.5 L428.0 402.3 L430.0 402.2 L432.0 402.0 L434.0 401.8 L436.0 401.6 L438.0 401.4 L440.0 401.2 L442.0 401.0 L444.0 400.8 L446.0 400.6 L448.0 400.4 L450.0 400.2 L452.0 400.0 L454.0 399.8 L456.0 399.6 L458.0 399.4 L460.0 399.2 L462.0 399.0 L464.0 398.8 L466.0 398.7 L468.0 398.5 L470.0 398.4 L472.0 398.3 L474.0 398.2 L476.0 398.1 L478.0 398.0 L480.0 397.9 L482.0 397.9 L484.0 397.9 L486.0 397.9 L488.0 397.9 L490.0 397.9 L492.0 398.0 L494.0 398.0 L496.0 398.1 L498.0 398.2 L500.0 398.3 L502.0 398.4 L504.0 398.6 L506.0 398.7 L508.0 398.9 L510.0 399.0 L512.0 399.2 L514.0 399.4 L516.0 399.7 L518.0 399.9 L520.0 400.2 L522.0 400.5 L524.0 400.8 L526.0 401.1 L528.0 401.5 L530.0 401.8 L532.0 402.2 L534.0 402.5 L536.0 402.9 L538.0 403.3 L540.0 403.6 L542.0 403.9 L544.0 404.3 L546.0 404.6 L548.0 404.9 L550.0 405.2 L552.0 405.4 L554.0 405.7 L556.0 406.0 L558.0 406.2 L560.0 406.5 L562.0 406.8 L564.0 407.0 L566.0 407.2 L568.0 407.5 L570.0 407.7 L572.0 407.9 L574.0 408.2 L576.0 408.4 L578.0 408.6 L580.0 408.8 L582.0 409.0 L584.0 409.2 L586.0 409.4 L588.0 409.5 L590.0 409.7 L592.0 409.9 L594.0 410.0 L596.0 410.2 L598.0 410.3 L600.0 410.4 L602.0 410.5 L604.0 410.7 L606.0 410.8 L608.0 410.9 L610.0 411.0 L612.0 411.1 L614.0 411.2 L616.0 411.3 L618.0 411.4 L620.0 411.5 L622.0 411.6 L624.0 411.7 L626.0 411.7 L628.0 411.8 L630.0 411.9 L632.0 412.0 L634.0 412.0 L636.0 412.1 L638.0 412.2 L640.0 412.2 L642.0 412.3 L644.0 412.3 L646.0 412.3 L648.0 412.4 L650.0 412.4 L652.0 412.4 L654.0 412.4 L656.0 412.5 L658.0 412.5 L660.0 412.5 L662.0 412.5 L664.0 412.5 L666.0 412.4 L668.0 412.4 L670.0 412.4 L672.0 412.4 L674.0 412.3 L676.0 412.3 L678.0 412.2 L680.0 412.2 L682.0 412.1 L684.0 412.1 L686.0 412.0 L688.0 411.9 L690.0 411.8 L692.0 411.7 L694.0 411.6 L696.0 411.5 L698.0 411.4 L700.0 411.3 L702.0 411.1 L704.0 411.0 L706.0 410.9 L708.0 410.7 L710.0 410.6 L712.0 410.4 L714.0 410.2 L716.0 410.1 L718.0 409.9 L720.0 409.7 L722.0 409.5 L724.0 409.3 L726.0 409.1 L728.0 408.9 L730.0 408.7 L732.0 408.5 L734.0 408.3 L736.0 408.1 L738.0 408.0 L740.0 407.8 L742.0 407.7 L744.0 407.6 L746.0 407.5 L748.0 407.4 L750.0 407.3 L752.0 407.3 L754.0 407.2 L756.0 407.2 L758.0 407.2 L760.0 407.3 L762.0 407.3 L764.0 407.3 L766.0 407.4 L768.0 407.4 L770.0 407.4 L770.0 144.0 L134.0 144.0Z" fill="#44ff00"/>
<path d="M134.0 404.6 L136.0 404.6 L138.0 404.6 L140.0 404.7 L142.0 404.8 L144.0 404.8 L146.0 404.9 L148.0 405.0 L150.0 405.0 L152.0 405.1 L154.0 405.2 L156.0 405.3 L158.0 405.3 L160.0 405.4 L162.0 405.5 L164.0 405.6 L166.0 405.7 L168.0 405.8 L170.0 405.9 L172.0 406.0 L174.0 406.1 L176.0 406.2 L178.0 406.3 L180.0 406.4 L182.0 406.5 L184.0 406.6 L186.0 406.7 L188.0 406.8 L190.0 407.0 L192.0 407.1 L194.0 407.2 L196.0 407.3 L198.0 407.4 L200.0 407.5 L202.0 407.6 L204.0 407.7 L206.0 407.9 L208.0 408.0 L210.0 408.1 L212.0 408.2 L214.0 408.3 L216.0 408.4 L218.0 408.5 L220.0 408.6 L222.0 408.7 L224.0 408.8 L226.0 408.9 L228.0 409.0 L230.0 409.1 L232.0 409.2 L234.0 409.3 L236.0 409.4 L238.0 409.5 L240.0 409.6 L242.0 409.6 L244.0 409.7 L246.0 409.8 L248.0 409.8 L250.0 409.9 L252.0 409.9 L254.0 410.0 L256.0 410.0 L258.0 410.1 L260.0 410.1 L262.0 410.1 L264.0 410.1 L266.0 410.1 L268.0 410.1 L270.0 410.1 L272.0 410.1 L274.0 410.1 L276.0 410.1 L278.0 410.1 L280.0 410.0 L282.0 410.0 L284.0 410.0 L286.0 409.9 L288.0 409.9 L290.0 409.8 L292.0 409.7 L294.0 409.7 L296.0 409.6 L298.0 409.5 L300.0 409.4 L302.0 409.3 L304.0 409.2 L306.0 409.1 L308.0 409.0 L310.0 408.9 L312.0 408.8 L314.0 408.7 L316.0 408.6 L318.0 408.5 L320.0 408.4 L322.0 408.3 L324.0 408.1 L326.0 408.0 L328.0 407.9 L330.0 407.8 L332.0 407.6 L334.0 407.5 L336.0 407.4 L338.0 407.3 L340.0 407.1 L342.0 407.0 L344.0 406.9 L346.0 406.8 L348.0 406.7 L350.0 406.5 L352.0 406.4 L354.0 406.3 L356.0 406.1 L358.0 406.0 L360.0 405.9 L362.0 405.7 L364.0 405.6 L366.0 405.4 L368.0 405.3 L370.0 405.1 L372.0 405.0 L374.0 404.8 L376.0 404.6 L378.0 404.5 L380.0 404.3 L382.0 404.1 L384.0 403.9 L386.0 403.7 L388.0 403.5 L390.0 403.3 L392.0 403.1 L394.0 402.9 L396.0 402.7 L398.0 402.5 L400.0 402.3 L402.0 402.0 L404.0 401.8 L406.0 401.6 L408.0 401.4 L410.0 401.1 L412.0 400.9 L414.0 400.7 L416.0 400.5 L418.0 400.3 L420.0 400.0 L422.0 399.8 L424.0 399.6 L426.0 399.4 L428.0 399.2 L430.0 399.0 L432.0 398.8 L434.0 398.6 L436.0 398.4 L438.0 398.2 L440.0 398.0 L442.0 397.7 L444.0 397.5 L446.0 397.3 L448.0 397.1 L450.0 396.9 L452.0 396.6 L454.0 396.4 L456.0 396.2 L458.0 396.0 L460.0 395.8 L462.0 395.6 L464.0 395.4 L466.0 395.3 L468.0 395.1 L470.0 395.0 L472.0 394.8 L474.0 394.7 L476.0 394.6 L478.0 394.5 L480.0 394.4 L482.0 394.4 L484.0 394.4 L486.0 394.4 L488.0 394.4 L490.0 394.4 L492.0 394.5 L494.0 394.6 L496.0 394.7 L498.0 394.8 L500.0 394.9 L502.0 395.0 L504.0 395.2 L506.0 395.3 L508.0 395.5 L510.0 395.7 L512.0 395.9 L514.0 396.1 L516.0 396.4 L518.0 396.6 L520.0 396.9 L522.0 397.2 L524.0 397.6 L526.0 397.9 L528.0 398.2 L530.0 398.6 L532.0 399.0 L534.0 399.3 L536.0 399.7 L538.0 400.1 L540.0 400.4 L542.0 400.8 L544.0 401.1 L546.0 401.4 L548.0 401.7 L550.0 402.0 L552.0 402.3 L554.0 402.6 L556.0 402.9 L558.0 403.2 L560.0 403.4 L562.0 403.7 L564.0 403.9 L566.0 404.2 L568.0 404.5 L570.0 404.7 L572.0 404.9 L574.0 405.2 L576.0 405.4 L578.0 405.6 L580.0 405.8 L582.0 406.0 L584.0 406.2 L586.0 406.4 L588.0 406.6 L590.0 406.8 L592.0 407.0 L594.0 407.1 L596.0 407.3 L598.0 407.4 L600.0 407.6 L602.0 407.7 L604.0 407.9 L606.0 408.0 L608.0 408.1 L610.0 408.2 L612.0 408.3 L614.0 408.5 L616.0 408.6 L618.0 408.7 L620.0 408.8 L622.0 408.8 L624.0 408.9 L626.0 409.0 L628.0 409.1 L630.0 409.2 L632.0 409.2 L634.0 409.3 L636.0 409.4 L638.0 409.4 L640.0 409.5 L642.0 409.5 L644.0 409.6 L646.0 409.6 L648.0 409.6 L650.0 409.7 L652.0 409.7 L654.0 409.7 L656.0 409.7 L658.0 409.7 L660.0 409.7 L662.0 409.7 L664.0 409.7 L666.0 409.7 L668.0 409.7 L670.0 409.6 L672.0 409.6 L674.0 409.6 L676.0 409.5 L678.0 409.5 L680.0 409.4 L682.0 409.4 L684.0 409.3 L686.0 409.2 L688.0 409.2 L690.0 409.1 L692.0 409.0 L694.0 408.9 L696.0 408.8 L698.0 408.7 L700.0 408.5 L702.0 408.4 L704.0 408.3 L706.0 408.1 L708.0 408.0 L710.0 407.8 L712.0 407.7 L714.0 407.5 L716.0 407.3 L718.0 407.2 L720.0 407.0 L722.0 406.8 L724.0 406.6 L726.0 406.4 L728.0 406.1 L730.0 405.9 L732.0 405.7 L734.0 405.5 L736.0 405.4 L738.0 405.2 L740.0 405.0 L742.0 404.9 L744.0 404.8 L746.0 404.7 L748.0 404.6 L750.0 404.5 L752.0 404.5 L754.0 404.4 L756.0 404.4 L758.0 404.4 L760.0 404.4 L762.0 404.5 L764.0 404.5 L766.0 404.5 L768.0 404.6 L770.0 404.6 L770.0 144.0 L134.0 144.0Z" fill="#52ff00"/>
<path d="M134.0 401.7 L136.0 401.7 L138.0 401.7 L140.0 401.8 L142.0 401.8 L144.0 401.9 L146.0 401.9 L148.0 402.0 L150.0 402.1 L152.0 402.2 L154.0 402.2 L156.0 402.3 L158.0 402.4 L160.0 402.5 L162.0 402.6 L164.0 402.7 L166.0 402.8 L168.0 402.9 L170.0 403.0 L172.0 403.1 L174.0 403.2 L176.0 403.3 L178.0 403.4 L180.0 403.5 L182.0 403.6 L184.0 403.7 L186.0 403.8 L188.0 403.9 L190.0 404.0 L192.0 404.1 L194.0 404.2 L196.0 404.4 L198.0 404.5 L200.0 404.6 L202.0 404.7 L204.0 404.8 L206.0 404.9 L208.0 405.0 L210.0 405.2 L212.0 405.3 L214.0 405.4 L216.0 405.5 L218.0 405.6 L220.0 405.7 L222.0 405.8 L224.0 405.9 L226.0 406.0 L228.0 406.1 L230.0 406.2 L232.0 406.3 L234.0 406.4 L236.0 406.5 L238.0 406.5 L240.0 406.6 L242.0 406.7 L244.0 406.8 L246.0 406.8 L248.0 406.9 L250.0 407.0 L252.0 407.0 L254.0 407.1 L256.0 407.1 L258.0 407.1 L260.0 407.2 L262.0 407.2 L264.0 407.2 L266.0 407.2 L268.0 407.2 L270.0 407.3 L272.0 407.3 L274.0 407.2 L276.0 407.2 L278.0 407.2 L280.0 407.2 L282.0 407.1 L284.0 407.1 L286.0 407.1 L288.0 407.0 L290.0 406.9 L292.0 406.9 L294.0 406.8 L296.0 406.7 L298.0 406.6 L300.0 406.5 L302.0 406.4 L304.0 406.3 L306.0 406.2 L308.0 406.1 L310.0 406.0 L312.0 405.8 L314.0 405.7 L316.0 405.6 L318.0 405.5 L320.0 405.3 L322.0 405.2 L324.0 405.1 L326.0 404.9 L328.0 404.8 L330.0 404.7 L332.0 404.5 L334.0 404.4 L336.0 404.3 L338.0 404.1 L340.0 404.0 L342.0 403.9 L344.0 403.8 L346.0 403.6 L348.0 403.5 L350.0 403.4 L352.0 403.3 L354.0 403.1 L356.0 403.0 L358.0 402.9 L360.0 402.7 L362.0 402.6 L364.0 402.5 L366.0 402.3 L368.0 402.2 L370.0 402.0 L372.0 401.9 L374.0 401.7 L376.0 401.6 L378.0 401.4 L380.0 401.2 L382.0 401.1 L384.0 400.9 L386.0 400.7 L388.0 400.5 L390.0 400.3 L392.0 400.1 L394.0 399.9 L396.0 399.7 L398.0 399.5 L400.0 399.2 L402.0 399.0 L404.0 398.8 L406.0 398.6 L408.0 398.3 L410.0 398.1 L412.0 397.9 L414.0 397.6 L416.0 397.4 L418.0 397.2 L420.0 397.0 L422.0 396.7 L424.0 396.5 L426.0 396.3 L428.0 396.0 L430.0 395.8 L432.0 395.6 L434.0 395.3 L436.0 395.1 L438.0 394.9 L440.0 394.6 L442.0 394.4 L444.0 394.1 L446.0 393.9 L448.0 393.7 L450.0 393.4 L452.0 393.2 L454.0 392.9 L456.0 392.7 L458.0 392.5 L460.0 392.3 L462.0 392.1 L464.0 391.9 L466.0 391.7 L468.0 391.5 L470.0 391.4 L472.0 391.2 L474.0 391.1 L476.0 391.0 L478.0 390.9 L480.0 390.8 L482.0 390.8 L484.0 390.8 L486.0 390.8 L488.0 390.8 L490.0 390.9 L492.0 390.9 L494.0 391.0 L496.0 391.1 L498.0 391.2 L500.0 391.4 L502.0 391.5 L504.0 391.7 L506.0 391.9 L508.0 392.0 L510.0 392.2 L512.0 392.5 L514.0 392.7 L516.0 393.0 L518.0 393.2 L520.0 393.5 L522.0 393.9 L524.0 394.2 L526.0 394.5 L528.0 394.9 L530.0 395.3 L532.0 395.6 L534.0 396.0 L536.0 396.4 L538.0 396.8 L540.0 397.1 L542.0 397.5 L544.0 397.8 L546.0 398.2 L548.0 398.5 L550.0 398.8 L552.0 399.1 L554.0 399.4 L556.0 399.7 L558.0 400.0 L560.0 400.3 L562.0 400.6 L564.0 400.9 L566.0 401.1 L568.0 401.4 L570.0 401.7 L572.0 401.9 L574.0 402.2 L576.0 402.4 L578.0 402.6 L580.0 402.9 L582.0 403.1 L584.0 403.3 L586.0 403.5 L588.0 403.7 L590.0 403.9 L592.0 404.1 L594.0 404.3 L596.0 404.5 L598.0 404.6 L600.0 404.8 L602.0 404.9 L604.0 405.1 L606.0 405.2 L608.0 405.3 L610.0 405.5 L612.0 405.6 L614.0 405.7 L616.0 405.8 L618.0 405.9 L620.0 406.0 L622.0 406.1 L624.0 406.2 L626.0 406.3 L628.0 406.4 L630.0 406.5 L632.0 406.5 L634.0 406.6 L636.0 406.6 L638.0 406.7 L640.0 406.8 L642.0 406.8 L644.0 406.8 L646.0 406.9 L648.0 406.9 L650.0 406.9 L652.0 406.9 L654.0 406.9 L656.0 407.0 L658.0 407.0 L660.0 406.9 L662.0 406.9 L664.0 406.9 L666.0 406.9 L668.0 406.9 L670.0 406.9 L672.0 406.8 L674.0 406.8 L676.0 406.7 L678.0 406.7 L680.0 406.6 L682.0 406.6 L684.0 406.5 L686.0 406.5 L688.0 406.4 L690.0 406.3 L692.0 406.2 L694.0 406.1 L696.0 406.0 L698.0 405.9 L700.0 405.8 L702.0 405.6 L704.0 405.5 L706.0 405.4 L708.0 405.2 L710.0 405.1 L712.0 404.9 L714.0 404.7 L716.0 404.6 L718.0 404.4 L720.0 404.2 L722.0 404.0 L724.0 403.8 L726.0 403.6 L728.0 403.3 L730.0 403.1 L732.0 402.9 L734.0 402.7 L736.0 402.5 L738.0 402.3 L740.0 402.2 L742.0 402.0 L744.0 401.9 L746.0 401.8 L748.0 401.7 L750.0 401.6 L752.0 401.6 L754.0 401.5 L756.0 401.5 L758.0 401.5 L760.0 401.5 L762.0 401.5 L764.0 401.6 L766.0 401.6 L768.0 401.7 L770.0 401.7 L770.0 144.0 L134.0 144.0Z" fill="#5fff00"/>
<path d="M134.0 398.6 L136.0 398.6 L138.0 398.7 L140.0 398.7 L142.0 398.8 L144.0 398.8 L146.0 398.9 L148.0 399.0 L150.0 399.0 L152.0 399.1 L154.0 399.2 L156.0 399.3 L158.0 399.3 L160.0 399.4 L162.0 399.5 L164.0 399.6 L166.0 399.7 L168.0 399.8 L170.0 399.9 L172.0 400.0 L174.0 400.1 L176.0 400.2 L178.0 400.3 L180.0 400.4 L182.0 400.5 L184.0 400.6 L186.0 400.8 L188.0 400.9 L190.0 401.0 L192.0 401.1 L194.0 401.2 L196.0 401.3 L198.0 401.4 L200.0 401.6 L202.0 401.7 L204.0 401.8 L206.0 401.9 L208.0 402.0 L210.0 402.1 L212.0 402.2 L214.0 402.3 L216.0 402.4 L218.0 402.6 L220.0 402.7 L222.0 402.8 L224.0 402.9 L226.0 403.0 L228.0 403.1 L230.0 403.2 L232.0 403.2 L234.0 403.3 L236.0 403.4 L238.0 403.5 L240.0 403.6 L242.0 403.7 L244.0 403.7 L246.0 403.8 L248.0 403.9 L250.0 403.9 L252.0 404.0 L254.0 404.0 L256.0 404.1 L258.0 404.1 L260.0 404.2 L262.0 404.2 L264.0 404.2 L266.0 404.3 L268.0 404.3 L270.0 404.3 L272.0 404.3 L274.0 404.3 L276.0 404.3 L278.0 404.3 L280.0 404.3 L282.0 404.2 L284.0 404.2 L286.0 404.1 L288.0 404.1 L290.0 404.0 L292.0 403.9 L294.0 403.9 L296.0 403.8 L298.0 403.7 L300.0 403.5 L302.0 403.4 L304.0 403.3 L306.0 403.2 L308.0 403.0 L310.0 402.9 L312.0 402.8 L314.0 402.6 L316.0 402.5 L318.0 402.3 L320.0 402.2 L322.0 402.0 L324.0 401.9 L326.0 401.7 L328.0 401.6 L330.0 401.4 L332.0 401.3 L334.0 401.1 L336.0 401.0 L338.0 400.9 L340.0 400.7 L342.0 400.6 L344.0 400.5 L346.0 400.3 L348.0 400.2 L350.0 400.1 L352.0 399.9 L354.0 399.8 L356.0 399.7 L358.0 399.6 L360.0 399.4 L362.0 399.3 L364.0 399.2 L366.0 399.0 L368.0 398.9 L370.0 398.8 L372.0 398.6 L374.0 398.5 L376.0 398.3 L378.0 398.2 L380.0 398.0 L382.0 397.8 L384.0 397.7 L386.0 397.5 L388.0 397.3 L390.0 397.1 L392.0 396.9 L394.0 396.7 L396.0 396.5 L398.0 396.3 L400.0 396.1 L402.0 395.9 L404.0 395.7 L406.0 395.4 L408.0 395.2 L410.0 395.0 L412.0 394.7 L414.0 394.5 L416.0 394.2 L418.0 394.0 L420.0 393.8 L422.0 393.5 L424.0 393.2 L426.0 393.0 L428.0 392.7 L430.0 392.5 L432.0 392.2 L434.0 391.9 L436.0 391.7 L438.0 391.4 L440.0 391.1 L442.0 390.9 L444.0 390.6 L446.0 390.3 L448.0 390.1 L450.0 389.8 L452.0 389.5 L454.0 389.3 L456.0 389.0 L458.0 388.8 L460.0 388.6 L462.0 388.4 L464.0 388.2 L466.0 388.0 L468.0 387.8 L470.0 387.6 L472.0 387.5 L474.0 387.3 L476.0 387.2 L478.0 387.1 L480.0 387.1 L482.0 387.0 L484.0 387.0 L486.0 387.1 L488.0 387.1 L490.0 387.1 L492.0 387.2 L494.0 387.3 L496.0 387.4 L498.0 387.6 L500.0 387.7 L502.0 387.9 L504.0 388.0 L506.0 388.2 L508.0 388.4 L510.0 388.7 L512.0 388.9 L514.0 389.1 L516.0 389.4 L518.0 389.7 L520.0 390.0 L522.0 390.3 L524.0 390.7 L526.0 391.0 L528.0 391.4 L530.0 391.8 L532.0 392.2 L534.0 392.6 L536.0 392.9 L538.0 393.3 L540.0 393.7 L542.0 394.1 L544.0 394.4 L546.0 394.8 L548.0 395.1 L550.0 395.5 L552.0 395.8 L554.0 396.1 L556.0 396.5 L558.0 396.8 L560.0 397.1 L562.0 397.4 L564.0 397.7 L566.0 398.0 L568.0 398.3 L570.0 398.6 L572.0 398.8 L574.0 399.1 L576.0 399.4 L578.0 399.6 L580.0 399.9 L582.0 400.1 L584.0 400.4 L586.0 400.6 L588.0 400.8 L590.0 401.0 L592.0 401.2 L594.0 401.4 L596.0 401.6 L598.0 401.8 L600.0 401.9 L602.0 402.1 L604.0 402.3 L606.0 402.4 L608.0 402.6 L610.0 402.7 L612.0 402.8 L614.0 402.9 L616.0 403.1 L618.0 403.2 L620.0 403.3 L622.0 403.4 L624.0 403.5 L626.0 403.5 L628.0 403.6 L630.0 403.7 L632.0 403.8 L634.0 403.8 L636.0 403.9 L638.0 403.9 L640.0 404.0 L642.0 404.0 L644.0 404.1 L646.0 404.1 L648.0 404.1 L650.0 404.1 L652.0 404.1 L654.0 404.1 L656.0 404.1 L658.0 404.1 L660.0 404.1 L662.0 404.1 L664.0 404.1 L666.0 404.1 L668.0 404.1 L670.0 404.0 L672.0 404.0 L674.0 404.0 L676.0 403.9 L678.0 403.9 L680.0 403.8 L682.0 403.7 L684.0 403.7 L686.0 403.6 L688.0 403.5 L690.0 403.5 L692.0 403.4 L694.0 403.3 L696.0 403.2 L698.0 403.1 L700.0 402.9 L702.0 402.8 L704.0 402.7 L706.0 402.5 L708.0 402.4 L710.0 402.2 L712.0 402.1 L714.0 401.9 L716.0 401.7 L718.0 401.5 L720.0 401.3 L722.0 401.1 L724.0 400.9 L726.0 400.7 L728.0 400.4 L730.0 400.2 L732.0 400.0 L734.0 399.8 L736.0 399.6 L738.0 399.4 L740.0 399.2 L742.0 399.1 L744.0 398.9 L746.0 398.8 L748.0 398.7 L750.0 398.6 L752.0 398.6 L754.0 398.5 L756.0 398.5 L758.0 398.5 L760.0 398.5 L762.0 398.5 L764.0 398.6 L766.0 398.6 L768.0 398.6 L770.0 398.6 L770.0 144.0 L134.0 144.0Z" fill="#6dff00"/>
<path d="M134.0 395.5 L136.0 395.5 L138.0 395.6 L140.0 395.6 L142.0 395.7 L144.0 395.7 L146.0 395.8 L148.0 395.8 L150.0 395.9 L152.0 396.0 L154.0 396.1 L156.0 396.1 L158.0 396.2 L160.0 396.3 L162.0 396.4 L164.0 396.5 L166.0 396.6 L168.0 396.7 L170.0 396.8 L172.0 396.9 L174.0 397.0 L176.0 397.1 L178.0 397.2 L180.0 397.3 L182.0 397.4 L184.0 397.5 L186.0 397.6 L188.0 397.8 L190.0 397.9 L192.0 398.0 L194.0 398.1 L196.0 398.2 L198.0 398.3 L200.0 398.4 L202.0 398.6 L204.0 398.7 L206.0 398.8 L208.0 398.9 L210.0 399.0 L212.0 399.1 L214.0 399.2 L216.0 399.3 L218.0 399.4 L220.0 399.6 L222.0 399.7 L224.0 399.8 L226.0 399.9 L228.0 400.0 L230.0 400.1 L232.0 400.2 L234.0 400.2 L236.0 400.3 L238.0 400.4 L240.0 400.5 L242.0 400.6 L244.0 400.7 L246.0 400.7 L248.0 400.8 L250.0 400.9 L252.0 400.9 L254.0 401.0 L256.0 401.0 L258.0 401.1 L260.0 401.1 L262.0 401.2 L264.0 401.2 L266.0 401.3 L268.0 401.3 L270.0 401.3 L272.0 401.3 L274.0 401.3 L276.0 401.3 L278.0 401.3 L280.0 401.3 L282.0 401.3 L284.0 401.2 L286.0 401.2 L288.0 401.1 L290.0 401.0 L292.0 400.9 L294.0 400.9 L296.0 400.7 L298.0 400.6 L300.0 400.5 L302.0 400.4 L304.0 400.2 L306.0 400.1 L308.0 399.9 L310.0 399.8 L312.0 399.6 L314.0 399.5 L316.0 399.3 L318.0 399.1 L320.0 398.9 L322.0 398.8 L324.0 398.6 L326.0 398.4 L328.0 398.3 L330.0 398.1 L332.0 397.9 L334.0 397.8 L336.0 397.6 L338.0 397.5 L340.0 397.3 L342.0 397.2 L344.0 397.0 L346.0 396.9 L348.0 396.8 L350.0 396.6 L352.0 396.5 L354.0 396.4 L356.0 396.3 L358.0 396.1 L360.0 396.0 L362.0 395.9 L364.0 395.8 L366.0 395.6 L368.0 395.5 L370.0 395.4 L372.0 395.2 L374.0 395.1 L376.0 394.9 L378.0 394.8 L380.0 394.6 L382.0 394.5 L384.0 394.3 L386.0 394.2 L388.0 394.0 L390.0 393.8 L392.0 393.6 L394.0 393.4 L396.0 393.2 L398.0 393.0 L400.0 392.8 L402.0 392.6 L404.0 392.4 L406.0 392.1 L408.0 391.9 L410.0 391.7 L412.0 391.4 L414.0 391.2 L416.0 390.9 L418.0 390.7 L420.0 390.4 L422.0 390.1 L424.0 389.8 L426.0 389.5 L428.0 389.3 L430.0 389.0 L432.0 388.7 L434.0 388.4 L436.0 388.1 L438.0 387.8 L440.0 387.5 L442.0 387.2 L444.0 386.9 L446.0 386.6 L448.0 386.3 L450.0 386.0 L452.0 385.7 L454.0 385.4 L456.0 385.2 L458.0 384.9 L460.0 384.7 L462.0 384.4 L464.0 384.2 L466.0 384.0 L468.0 383.8 L470.0 383.6 L472.0 383.5 L474.0 383.3 L476.0 383.2 L478.0 383.2 L480.0 383.1 L482.0 383.1 L484.0 383.1 L486.0 383.1 L488.0 383.1 L490.0 383.2 L492.0 383.3 L494.0 383.4 L496.0 383.5 L498.0 383.7 L500.0 383.8 L502.0 384.0 L504.0 384.2 L506.0 384.4 L508.0 384.6 L510.0 384.9 L512.0 385.1 L514.0 385.4 L516.0 385.7 L518.0 386.0 L520.0 386.3 L522.0 386.7 L524.0 387.0 L526.0 387.4 L528.0 387.8 L530.0 388.2 L532.0 388.5 L534.0 388.9 L536.0 389.3 L538.0 389.7 L540.0 390.1 L542.0 390.5 L544.0 390.9 L546.0 391.3 L548.0 391.7 L550.0 392.0 L552.0 392.4 L554.0 392.7 L556.0 393.1 L558.0 393.4 L560.0 393.7 L562.0 394.1 L564.0 394.4 L566.0 394.7 L568.0 395.0 L570.0 395.3 L572.0 395.6 L574.0 395.9 L576.0 396.2 L578.0 396.5 L580.0 396.8 L582.0 397.0 L584.0 397.3 L586.0 397.6 L588.0 397.8 L590.0 398.0 L592.0 398.2 L594.0 398.4 L596.0 398.6 L598.0 398.8 L600.0 399.0 L602.0 399.2 L604.0 399.4 L606.0 399.5 L608.0 399.7 L610.0 399.8 L612.0 399.9 L614.0 400.1 L616.0 400.2 L618.0 400.3 L620.0 400.4 L622.0 400.5 L624.0 400.6 L626.0 400.7 L628.0 400.8 L630.0 400.8 L632.0 400.9 L634.0 401.0 L636.0 401.0 L638.0 401.1 L640.0 401.1 L642.0 401.2 L644.0 401.2 L646.0 401.2 L648.0 401.2 L650.0 401.2 L652.0 401.3 L654.0 401.3 L656.0 401.3 L658.0 401.2 L660.0 401.2 L662.0 401.2 L664.0 401.2 L666.0 401.2 L668.0 401.2 L670.0 401.1 L672.0 401.1 L674.0 401.0 L676.0 401.0 L678.0 400.9 L680.0 400.9 L682.0 400.8 L684.0 400.8 L686.0 400.7 L688.0 400.6 L690.0 400.5 L692.0 400.4 L694.0 400.3 L696.0 400.2 L698.0 400.1 L700.0 400.0 L702.0 399.9 L704.0 399.8 L706.0 399.6 L708.0 399.5 L710.0 399.3 L712.0 399.1 L714.0 399.0 L716.0 398.8 L718.0 398.6 L720.0 398.4 L722.0 398.1 L724.0 397.9 L726.0 397.7 L728.0 397.5 L730.0 397.2 L732.0 397.0 L734.0 396.8 L736.0 396.6 L738.0 396.4 L740.0 396.2 L742.0 396.0 L744.0 395.9 L746.0 395.8 L748.0 395.7 L750.0 395.6 L752.0 395.5 L754.0 395.5 L756.0 395.4 L758.0 395.4 L760.0 395.4 L762.0 395.4 L764.0 395.5 L766.0 395.5 L768.0 395.5 L770.0 395.5 L770.0 144.0 L134.0 144.0Z" fill="#7aff00"/>
<path d="M134.0 392.4 L136.0 392.4 L138.0 392.4 L140.0 392.5 L142.0 392.5 L144.0 392.6 L146.0 392.7 L148.0 392.7 L150.0 392.8 L152.0 392.9 L154.0 392.9 L156.0 393.0 L158.0 393.1 L160.0 393.2 L162.0 393.3 L164.0 393.4 L166.0 393.4 L168.0 393.5 L170.0 393.6 L172.0 393.7 L174.0 393.8 L176.0 393.9 L178.0 394.1 L180.0 394.2 L182.0 394.3 L184.0 394.4 L186.0 394.5 L188.0 394.6 L190.0 394.7 L192.0 394.8 L194.0 395.0 L196.0 395.1 L198.0 395.2 L200.0 395.3 L202.0 395.4 L204.0 395.5 L206.0 395.6 L208.0 395.8 L210.0 395.9 L212.0 396.0 L214.0 396.1 L216.0 396.2 L218.0 396.3 L220.0 396.4 L222.0 396.5 L224.0 396.6 L226.0 396.7 L228.0 396.8 L230.0 396.9 L232.0 397.0 L234.0 397.1 L236.0 397.2 L238.0 397.3 L240.0 397.4 L242.0 397.5 L244.0 397.6 L246.0 397.7 L248.0 397.7 L250.0 397.8 L252.0 397.9 L254.0 397.9 L256.0 398.0 L258.0 398.0 L260.0 398.1 L262.0 398.1 L264.0 398.2 L266.0 398.2 L268.0 398.3 L270.0 398.3 L272.0 398.3 L274.0 398.3 L276.0 398.3 L278.0 398.3 L280.0 398.3 L282.0 398.2 L284.0 398.2 L286.0 398.1 L288.0 398.1 L290.0 398.0 L292.0 397.9 L294.0 397.8 L296.0 397.7 L298.0 397.6 L300.0 397.4 L302.0 397.3 L304.0 397.1 L306.0 397.0 L308.0 396.8 L310.0 396.6 L312.0 396.4 L314.0 396.2 L316.0 396.1 L318.0 395.9 L320.0 395.7 L322.0 395.5 L324.0 395.3 L326.0 395.1 L328.0 394.9 L330.0 394.7 L332.0 394.5 L334.0 394.4 L336.0 394.2 L338.0 394.0 L340.0 393.9 L342.0 393.7 L344.0 393.6 L346.0 393.4 L348.0 393.3 L350.0 393.2 L352.0 393.0 L354.0 392.9 L356.0 392.8 L358.0 392.6 L360.0 392.5 L362.0 392.4 L364.0 392.3 L366.0 392.1 L368.0 392.0 L370.0 391.9 L372.0 391.7 L374.0 391.6 L376.0 391.5 L378.0 391.3 L380.0 391.2 L382.0 391.0 L384.0 390.8 L386.0 390.7 L388.0 390.5 L390.0 390.3 L392.0 390.1 L394.0 389.9 L396.0 389.7 L398.0 389.5 L400.0 389.3 L402.0 389.1 L404.0 388.9 L406.0 388.6 L408.0 388.4 L410.0 388.2 L412.0 387.9 L414.0 387.6 L416.0 387.4 L418.0 387.1 L420.0 386.8 L422.0 386.5 L424.0 386.2 L426.0 385.9 L428.0 385.6 L430.0 385.3 L432.0 384.9 L434.0 384.6 L436.0 384.3 L438.0 383.9 L440.0 383.6 L442.0 383.3 L444.0 382.9 L446.0 382.6 L448.0 382.3 L450.0 382.0 L452.0 381.7 L454.0 381.3 L456.0 381.1 L458.0 380.8 L460.0 380.5 L462.0 380.2 L464.0 380.0 L466.0 379.8 L468.0 379.6 L470.0 379.4 L472.0 379.2 L474.0 379.1 L476.0 379.0 L478.0 378.9 L480.0 378.8 L482.0 378.8 L484.0 378.8 L486.0 378.8 L488.0 378.9 L490.0 379.0 L492.0 379.1 L494.0 379.2 L496.0 379.3 L498.0 379.5 L500.0 379.7 L502.0 379.9 L504.0 380.1 L506.0 380.3 L508.0 380.6 L510.0 380.8 L512.0 381.1 L514.0 381.4 L516.0 381.7 L518.0 382.1 L520.0 382.4 L522.0 382.8 L524.0 383.1 L526.0 383.5 L528.0 383.9 L530.0 384.3 L532.0 384.7 L534.0 385.2 L536.0 385.6 L538.0 386.0 L540.0 386.4 L542.0 386.8 L544.0 387.2 L546.0 387.6 L548.0 388.0 L550.0 388.4 L552.0 388.7 L554.0 389.1 L556.0 389.5 L558.0 389.8 L560.0 390.2 L562.0 390.6 L564.0 390.9 L566.0 391.3 L568.0 391.6 L570.0 391.9 L572.0 392.3 L574.0 392.6 L576.0 392.9 L578.0 393.2 L580.0 393.5 L582.0 393.8 L584.0 394.1 L586.0 394.4 L588.0 394.6 L590.0 394.9 L592.0 395.1 L594.0 395.4 L596.0 395.6 L598.0 395.8 L600.0 396.0 L602.0 396.2 L604.0 396.3 L606.0 396.5 L608.0 396.7 L610.0 396.8 L612.0 396.9 L614.0 397.1 L616.0 397.2 L618.0 397.3 L620.0 397.4 L622.0 397.5 L624.0 397.6 L626.0 397.7 L628.0 397.8 L630.0 397.9 L632.0 397.9 L634.0 398.0 L636.0 398.0 L638.0 398.1 L640.0 398.1 L642.0 398.2 L644.0 398.2 L646.0 398.2 L648.0 398.2 L650.0 398.2 L652.0 398.2 L654.0 398.2 L656.0 398.2 L658.0 398.2 L660.0 398.2 L662.0 398.2 L664.0 398.2 L666.0 398.2 L668.0 398.1 L670.0 398.1 L672.0 398.1 L674.0 398.0 L676.0 398.0 L678.0 397.9 L680.0 397.9 L682.0 397.8 L684.0 397.7 L686.0 397.7 L688.0 397.6 L690.0 397.5 L692.0 397.4 L694.0 397.3 L696.0 397.2 L698.0 397.1 L700.0 397.0 L702.0 396.8 L704.0 396.7 L706.0 396.6 L708.0 396.4 L710.0 396.3 L712.0 396.1 L714.0 395.9 L716.0 395.7 L718.0 395.5 L720.0 395.3 L722.0 395.1 L724.0 394.9 L726.0 394.6 L728.0 394.4 L730.0 394.2 L732.0 393.9 L734.0 393.7 L736.0 393.5 L738.0 393.3 L740.0 393.1 L742.0 392.9 L744.0 392.8 L746.0 392.6 L748.0 392.5 L750.0 392.5 L752.0 392.4 L754.0 392.3 L756.0 392.3 L758.0 392.3 L760.0 392.3 L762.0 392.3 L764.0 392.3 L766.0 392.4 L768.0 392.4 L770.0 392.4 L770.0 144.0 L134.0 144.0Z" fill="#88ff00"/>
<path d="M134.0 389.3 L136.0 389.3 L138.0 389.4 L140.0 389.4 L142.0 389.5 L144.0 389.6 L146.0 389.6 L148.0 389.7 L150.0 389.7 L152.0 389.8 L154.0 389.9 L156.0 390.0 L158.0 390.0 L160.0 390.1 L162.0 390.2 L164.0 390.3 L166.0 390.4 L168.0 390.5 L170.0 390.6 L172.0 390.7 L174.0 390.8 L176.0 390.9 L178.0 391.0 L180.0 391.1 L182.0 391.2 L184.0 391.3 L186.0 391.4 L188.0 391.5 L190.0 391.6 L192.0 391.7 L194.0 391.8 L196.0 392.0 L198.0 392.1 L200.0 392.2 L202.0 392.3 L204.0 392.4 L206.0 392.5 L208.0 392.7 L210.0 392.8 L212.0 392.9 L214.0 393.0 L216.0 393.1 L218.0 393.2 L220.0 393.3 L222.0 393.5 L224.0 393.6 L226.0 393.7 L228.0 393.8 L230.0 393.9 L232.0 394.0 L234.0 394.1 L236.0 394.2 L238.0 394.3 L240.0 394.4 L242.0 394.5 L244.0 394.6 L246.0 394.6 L248.0 394.7 L250.0 394.8 L252.0 394.9 L254.0 394.9 L256.0 395.0 L258.0 395.1 L260.0 395.1 L262.0 395.2 L264.0 395.2 L266.0 395.3 L268.0 395.3 L270.0 395.3 L272.0 395.3 L274.0 395.3 L276.0 395.3 L278.0 395.3 L280.0 395.3 L282.0 395.3 L284.0 395.2 L286.0 395.2 L288.0 395.1 L290.0 395.0 L292.0 394.9 L294.0 394.8 L296.0 394.6 L298.0 394.5 L300.0 394.3 L302.0 394.2 L304.0 394.0 L306.0 393.8 L308.0 393.6 L310.0 393.4 L312.0 393.2 L314.0 393.0 L316.0 392.8 L318.0 392.6 L320.0 392.4 L322.0 392.2 L324.0 392.0 L326.0 391.8 L328.0 391.6 L330.0 391.4 L332.0 391.2 L334.0 391.0 L336.0 390.8 L338.0 390.6 L340.0 390.4 L342.0 390.3 L344.0 390.1 L346.0 390.0 L348.0 389.8 L350.0 389.7 L352.0 389.5 L354.0 389.4 L356.0 389.3 L358.0 389.1 L360.0 389.0 L362.0 388.9 L364.0 388.7 L366.0 388.6 L368.0 388.5 L370.0 388.3 L372.0 388.2 L374.0 388.1 L376.0 387.9 L378.0 387.8 L380.0 387.6 L382.0 387.5 L384.0 387.3 L386.0 387.1 L388.0 386.9 L390.0 386.8 L392.0 386.6 L394.0 386.4 L396.0 386.2 L398.0 385.9 L400.0 385.7 L402.0 385.5 L404.0 385.3 L406.0 385.0 L408.0 384.8 L410.0 384.5 L412.0 384.2 L414.0 384.0 L416.0 383.7 L418.0 383.4 L420.0 383.1 L422.0 382.7 L424.0 382.4 L426.0 382.1 L428.0 381.7 L430.0 381.4 L432.0 381.1 L434.0 380.7 L436.0 380.3 L438.0 380.0 L440.0 379.6 L442.0 379.3 L444.0 378.9 L446.0 378.5 L448.0 378.2 L450.0 377.8 L452.0 377.5 L454.0 377.2 L456.0 376.8 L458.0 376.5 L460.0 376.2 L462.0 375.9 L464.0 375.7 L466.0 375.4 L468.0 375.2 L470.0 375.0 L472.0 374.8 L474.0 374.7 L476.0 374.5 L478.0 374.4 L480.0 374.4 L482.0 374.4 L484.0 374.4 L486.0 374.4 L488.0 374.5 L490.0 374.6 L492.0 374.7 L494.0 374.8 L496.0 375.0 L498.0 375.2 L500.0 375.4 L502.0 375.6 L504.0 375.8 L506.0 376.1 L508.0 376.4 L510.0 376.6 L512.0 376.9 L514.0 377.3 L516.0 377.6 L518.0 378.0 L520.0 378.3 L522.0 378.7 L524.0 379.1 L526.0 379.5 L528.0 379.9 L530.0 380.4 L532.0 380.8 L534.0 381.2 L536.0 381.7 L538.0 382.1 L540.0 382.5 L542.0 382.9 L544.0 383.4 L546.0 383.8 L548.0 384.1 L550.0 384.5 L552.0 384.9 L554.0 385.3 L556.0 385.7 L558.0 386.1 L560.0 386.5 L562.0 386.8 L564.0 387.2 L566.0 387.6 L568.0 388.0 L570.0 388.4 L572.0 388.8 L574.0 389.1 L576.0 389.5 L578.0 389.8 L580.0 390.2 L582.0 390.5 L584.0 390.8 L586.0 391.2 L588.0 391.4 L590.0 391.7 L592.0 392.0 L594.0 392.2 L596.0 392.5 L598.0 392.7 L600.0 392.9 L602.0 393.1 L604.0 393.2 L606.0 393.4 L608.0 393.5 L610.0 393.7 L612.0 393.8 L614.0 394.0 L616.0 394.1 L618.0 394.2 L620.0 394.3 L622.0 394.4 L624.0 394.5 L626.0 394.6 L628.0 394.7 L630.0 394.8 L632.0 394.8 L634.0 394.9 L636.0 394.9 L638.0 395.0 L640.0 395.0 L642.0 395.1 L644.0 395.1 L646.0 395.1 L648.0 395.1 L650.0 395.2 L652.0 395.2 L654.0 395.2 L656.0 395.2 L658.0 395.2 L660.0 395.1 L662.0 395.1 L664.0 395.1 L666.0 395.1 L668.0 395.0 L670.0 395.0 L672.0 395.0 L674.0 394.9 L676.0 394.9 L678.0 394.8 L680.0 394.8 L682.0 394.7 L684.0 394.6 L686.0 394.6 L688.0 394.5 L690.0 394.4 L692.0 394.3 L694.0 394.2 L696.0 394.1 L698.0 394.0 L700.0 393.8 L702.0 393.7 L704.0 393.6 L706.0 393.4 L708.0 393.3 L710.0 393.1 L712.0 392.9 L714.0 392.8 L716.0 392.6 L718.0 392.4 L720.0 392.1 L722.0 391.9 L724.0 391.7 L726.0 391.5 L728.0 391.2 L730.0 391.0 L732.0 390.8 L734.0 390.5 L736.0 390.3 L738.0 390.1 L740.0 389.9 L742.0 389.8 L744.0 389.6 L746.0 389.5 L748.0 389.4 L750.0 389.3 L752.0 389.3 L754.0 389.2 L756.0 389.2 L758.0 389.2 L760.0 389.2 L762.0 389.2 L764.0 389.3 L766.0 389.3 L768.0 389.3 L770.0 389.3 L770.0 144.0 L134.0 144.0Z" fill="#96ff00"/>
<path d="M134.0 386.3 L136.0 386.3 L138.0 386.4 L140.0 386.5 L142.0 386.5 L144.0 386.6 L146.0 386.6 L148.0 386.7 L150.0 386.8 L152.0 386.8 L154.0 386.9 L156.0 387.0 L158.0 387.1 L160.0 387.1 L162.0 387.2 L164.0 387.3 L166.0 387.4 L168.0 387.4 L170.0 387.5 L172.0 387.6 L174.0 387.7 L176.0 387.8 L178.0 387.9 L180.0 388.0 L182.0 388.1 L184.0 388.2 L186.0 388.3 L188.0 388.4 L190.0 388.5 L192.0 388.6 L194.0 388.7 L196.0 388.8 L198.0 389.0 L200.0 389.1 L202.0 389.2 L204.0 389.3 L206.0 389.4 L208.0 389.5 L210.0 389.7 L212.0 389.8 L214.0 389.9 L216.0 390.0 L218.0 390.1 L220.0 390.3 L222.0 390.4 L224.0 390.5 L226.0 390.6 L228.0 390.7 L230.0 390.8 L232.0 391.0 L234.0 391.1 L236.0 391.2 L238.0 391.3 L240.0 391.4 L242.0 391.5 L244.0 391.6 L246.0 391.7 L248.0 391.8 L250.0 391.8 L252.0 391.9 L254.0 392.0 L256.0 392.1 L258.0 392.1 L260.0 392.2 L262.0 392.3 L264.0 392.3 L266.0 392.3 L268.0 392.4 L270.0 392.4 L272.0 392.4 L274.0 392.4 L276.0 392.4 L278.0 392.4 L280.0 392.4 L282.0 392.3 L284.0 392.3 L286.0 392.2 L288.0 392.1 L290.0 392.0 L292.0 391.9 L294.0 391.7 L296.0 391.6 L298.0 391.4 L300.0 391.3 L302.0 391.1 L304.0 390.9 L306.0 390.7 L308.0 390.5 L310.0 390.3 L312.0 390.0 L314.0 389.8 L316.0 389.6 L318.0 389.4 L320.0 389.1 L322.0 388.9 L324.0 388.7 L326.0 388.4 L328.0 388.2 L330.0 388.0 L332.0 387.8 L334.0 387.6 L336.0 387.3 L338.0 387.2 L340.0 387.0 L342.0 386.8 L344.0 386.6 L346.0 386.5 L348.0 386.3 L350.0 386.1 L352.0 386.0 L354.0 385.8 L356.0 385.7 L358.0 385.6 L360.0 385.4 L362.0 385.3 L364.0 385.2 L366.0 385.0 L368.0 384.9 L370.0 384.7 L372.0 384.6 L374.0 384.5 L376.0 384.3 L378.0 384.2 L380.0 384.0 L382.0 383.8 L384.0 383.7 L386.0 383.5 L388.0 383.3 L390.0 383.1 L392.0 382.9 L394.0 382.7 L396.0 382.5 L398.0 382.2 L400.0 382.0 L402.0 381.8 L404.0 381.5 L406.0 381.3 L408.0 381.0 L410.0 380.7 L412.0 380.4 L414.0 380.1 L416.0 379.8 L418.0 379.5 L420.0 379.2 L422.0 378.8 L424.0 378.5 L426.0 378.1 L428.0 377.8 L430.0 377.4 L432.0 377.1 L434.0 376.7 L436.0 376.3 L438.0 375.9 L440.0 375.5 L442.0 375.1 L444.0 374.7 L446.0 374.3 L448.0 374.0 L450.0 373.6 L452.0 373.2 L454.0 372.8 L456.0 372.5 L458.0 372.1 L460.0 371.8 L462.0 371.5 L464.0 371.2 L466.0 370.9 L468.0 370.7 L470.0 370.5 L472.0 370.3 L474.0 370.1 L476.0 370.0 L478.0 369.8 L480.0 369.8 L482.0 369.7 L484.0 369.7 L486.0 369.8 L488.0 369.8 L490.0 369.9 L492.0 370.1 L494.0 370.2 L496.0 370.4 L498.0 370.6 L500.0 370.9 L502.0 371.1 L504.0 371.4 L506.0 371.6 L508.0 371.9 L510.0 372.3 L512.0 372.6 L514.0 372.9 L516.0 373.3 L518.0 373.7 L520.0 374.1 L522.0 374.5 L524.0 374.9 L526.0 375.4 L528.0 375.8 L530.0 376.3 L532.0 376.7 L534.0 377.2 L536.0 377.6 L538.0 378.1 L540.0 378.5 L542.0 378.9 L544.0 379.3 L546.0 379.8 L548.0 380.1 L550.0 380.5 L552.0 380.9 L554.0 381.3 L556.0 381.7 L558.0 382.1 L560.0 382.5 L562.0 382.9 L564.0 383.4 L566.0 383.8 L568.0 384.2 L570.0 384.7 L572.0 385.1 L574.0 385.5 L576.0 385.9 L578.0 386.4 L580.0 386.8 L582.0 387.1 L584.0 387.5 L586.0 387.9 L588.0 388.2 L590.0 388.5 L592.0 388.8 L594.0 389.1 L596.0 389.3 L598.0 389.5 L600.0 389.7 L602.0 389.9 L604.0 390.1 L606.0 390.2 L608.0 390.4 L610.0 390.5 L612.0 390.7 L614.0 390.8 L616.0 390.9 L618.0 391.0 L620.0 391.1 L622.0 391.2 L624.0 391.3 L626.0 391.4 L628.0 391.5 L630.0 391.6 L632.0 391.6 L634.0 391.7 L636.0 391.8 L638.0 391.8 L640.0 391.9 L642.0 391.9 L644.0 391.9 L646.0 392.0 L648.0 392.0 L650.0 392.0 L652.0 392.0 L654.0 392.0 L656.0 392.0 L658.0 392.0 L660.0 392.0 L662.0 392.0 L664.0 391.9 L666.0 391.9 L668.0 391.9 L670.0 391.9 L672.0 391.8 L674.0 391.8 L676.0 391.7 L678.0 391.7 L680.0 391.6 L682.0 391.5 L684.0 391.5 L686.0 391.4 L688.0 391.3 L690.0 391.2 L692.0 391.1 L694.0 391.0 L696.0 390.9 L698.0 390.8 L700.0 390.6 L702.0 390.5 L704.0 390.4 L706.0 390.2 L708.0 390.0 L710.0 389.9 L712.0 389.7 L714.0 389.5 L716.0 389.3 L718.0 389.1 L720.0 388.9 L722.0 388.7 L724.0 388.5 L726.0 388.2 L728.0 388.0 L730.0 387.8 L732.0 387.5 L734.0 387.3 L736.0 387.1 L738.0 386.9 L740.0 386.7 L742.0 386.6 L744.0 386.4 L746.0 386.3 L748.0 386.3 L750.0 386.2 L752.0 386.2 L754.0 386.1 L756.0 386.1 L758.0 386.1 L760.0 386.2 L762.0 386.2 L764.0 386.2 L766.0 386.3 L768.0 386.3 L770.0 386.3 L770.0 144.0 L134.0 144.0Z" fill="#a3ff00"/>
<path d="M134.0 383.2 L136.0 383.2 L138.0 383.3 L140.0 383.4 L142.0 383.4 L144.0 383.5 L146.0 383.6 L148.0 383.6 L150.0 383.7 L152.0 383.7 L154.0 383.8 L156.0 383.9 L158.0 384.0 L160.0 384.0 L162.0 384.1 L164.0 384.2 L166.0 384.2 L168.0 384.3 L170.0 384.4 L172.0 384.5 L174.0 384.6 L176.0 384.6 L178.0 384.7 L180.0 384.8 L182.0 384.9 L184.0 385.0 L186.0 385.1 L188.0 385.2 L190.0 385.3 L192.0 385.4 L194.0 385.5 L196.0 385.6 L198.0 385.7 L200.0 385.9 L202.0 386.0 L204.0 386.1 L206.0 386.2 L208.0 386.3 L210.0 386.5 L212.0 386.6 L214.0 386.7 L216.0 386.8 L218.0 387.0 L220.0 387.1 L222.0 387.2 L224.0 387.4 L226.0 387.5 L228.0 387.6 L230.0 387.7 L232.0 387.9 L234.0 388.0 L236.0 388.1 L238.0 388.2 L240.0 388.3 L242.0 388.4 L244.0 388.5 L246.0 388.6 L248.0 388.7 L250.0 388.8 L252.0 388.9 L254.0 389.0 L256.0 389.1 L258.0 389.1 L260.0 389.2 L262.0 389.3 L264.0 389.3 L266.0 389.3 L268.0 389.4 L270.0 389.4 L272.0 389.4 L274.0 389.4 L276.0 389.4 L278.0 389.4 L280.0 389.3 L282.0 389.3 L284.0 389.2 L286.0 389.1 L288.0 389.0 L290.0 388.9 L292.0 388.8 L294.0 388.6 L296.0 388.5 L298.0 388.3 L300.0 388.1 L302.0 387.9 L304.0 387.7 L306.0 387.5 L308.0 387.2 L310.0 387.0 L312.0 386.7 L314.0 386.5 L316.0 386.2 L318.0 386.0 L320.0 385.7 L322.0 385.5 L324.0 385.2 L326.0 385.0 L328.0 384.7 L330.0 384.5 L332.0 384.2 L334.0 384.0 L336.0 383.8 L338.0 383.6 L340.0 383.4 L342.0 383.2 L344.0 383.0 L346.0 382.8 L348.0 382.6 L350.0 382.5 L352.0 382.3 L354.0 382.1 L356.0 382.0 L358.0 381.8 L360.0 381.7 L362.0 381.5 L364.0 381.4 L366.0 381.3 L368.0 381.1 L370.0 381.0 L372.0 380.8 L374.0 380.6 L376.0 380.5 L378.0 380.3 L380.0 380.1 L382.0 380.0 L384.0 379.8 L386.0 379.6 L388.0 379.4 L390.0 379.2 L392.0 379.0 L394.0 378.7 L396.0 378.5 L398.0 378.3 L400.0 378.0 L402.0 377.8 L404.0 377.5 L406.0 377.2 L408.0 376.9 L410.0 376.6 L412.0 376.3 L414.0 376.0 L416.0 375.7 L418.0 375.3 L420.0 375.0 L422.0 374.7 L424.0 374.3 L426.0 373.9 L428.0 373.5 L430.0 373.2 L432.0 372.8 L434.0 372.4 L436.0 371.9 L438.0 371.5 L440.0 371.1 L442.0 370.7 L444.0 370.3 L446.0 369.8 L448.0 369.4 L450.0 369.0 L452.0 368.6 L454.0 368.2 L456.0 367.8 L458.0 367.4 L460.0 367.0 L462.0 366.7 L464.0 366.4 L466.0 366.0 L468.0 365.8 L470.0 365.5 L472.0 365.3 L474.0 365.1 L476.0 364.9 L478.0 364.8 L480.0 364.7 L482.0 364.7 L484.0 364.7 L486.0 364.7 L488.0 364.8 L490.0 364.9 L492.0 365.1 L494.0 365.3 L496.0 365.5 L498.0 365.7 L500.0 366.0 L502.0 366.2 L504.0 366.5 L506.0 366.8 L508.0 367.2 L510.0 367.5 L512.0 367.9 L514.0 368.3 L516.0 368.7 L518.0 369.1 L520.0 369.6 L522.0 370.0 L524.0 370.5 L526.0 371.0 L528.0 371.4 L530.0 371.9 L532.0 372.4 L534.0 372.9 L536.0 373.4 L538.0 373.8 L540.0 374.3 L542.0 374.7 L544.0 375.1 L546.0 375.5 L548.0 375.9 L550.0 376.3 L552.0 376.7 L554.0 377.1 L556.0 377.5 L558.0 377.9 L560.0 378.4 L562.0 378.8 L564.0 379.3 L566.0 379.8 L568.0 380.3 L570.0 380.8 L572.0 381.3 L574.0 381.7 L576.0 382.2 L578.0 382.7 L580.0 383.2 L582.0 383.6 L584.0 384.0 L586.0 384.4 L588.0 384.8 L590.0 385.2 L592.0 385.5 L594.0 385.7 L596.0 386.0 L598.0 386.2 L600.0 386.4 L602.0 386.6 L604.0 386.8 L606.0 386.9 L608.0 387.1 L610.0 387.2 L612.0 387.3 L614.0 387.4 L616.0 387.6 L618.0 387.7 L620.0 387.8 L622.0 387.9 L624.0 388.0 L626.0 388.1 L628.0 388.2 L630.0 388.2 L632.0 388.3 L634.0 388.4 L636.0 388.4 L638.0 388.5 L640.0 388.5 L642.0 388.6 L644.0 388.6 L646.0 388.7 L648.0 388.7 L650.0 388.7 L652.0 388.7 L654.0 388.7 L656.0 388.7 L658.0 388.7 L660.0 388.7 L662.0 388.7 L664.0 388.7 L666.0 388.6 L668.0 388.6 L670.0 388.6 L672.0 388.5 L674.0 388.5 L676.0 388.4 L678.0 388.4 L680.0 388.3 L682.0 388.2 L684.0 388.2 L686.0 388.1 L688.0 388.0 L690.0 387.9 L692.0 387.8 L694.0 387.7 L696.0 387.5 L698.0 387.4 L700.0 387.3 L702.0 387.2 L704.0 387.0 L706.0 386.8 L708.0 386.7 L710.0 386.5 L712.0 386.3 L714.0 386.1 L716.0 386.0 L718.0 385.7 L720.0 385.5 L722.0 385.3 L724.0 385.1 L726.0 384.9 L728.0 384.6 L730.0 384.4 L732.0 384.2 L734.0 384.0 L736.0 383.8 L738.0 383.6 L740.0 383.4 L742.0 383.3 L744.0 383.1 L746.0 383.1 L748.0 383.0 L750.0 382.9 L752.0 382.9 L754.0 382.9 L756.0 382.9 L758.0 383.0 L760.0 383.0 L762.0 383.1 L764.0 383.1 L766.0 383.2 L768.0 383.2 L770.0 383.2 L770.0 144.0 L134.0 144.0Z" fill="#b1ff00"/>
<path d="M134.0 379.8 L136.0 379.8 L138.0 379.9 L140.0 380.0 L142.0 380.0 L144.0 380.1 L146.0 380.2 L148.0 380.2 L150.0 380.3 L152.0 380.4 L154.0 380.4 L156.0 380.5 L158.0 380.6 L160.0 380.7 L162.0 380.7 L164.0 380.8 L166.0 380.9 L168.0 380.9 L170.0 381.0 L172.0 381.1 L174.0 381.2 L176.0 381.3 L178.0 381.3 L180.0 381.4 L182.0 381.5 L184.0 381.6 L186.0 381.7 L188.0 381.8 L190.0 381.9 L192.0 382.0 L194.0 382.1 L196.0 382.2 L198.0 382.4 L200.0 382.5 L202.0 382.6 L204.0 382.7 L206.0 382.8 L208.0 383.0 L210.0 383.1 L212.0 383.2 L214.0 383.4 L216.0 383.5 L218.0 383.6 L220.0 383.8 L222.0 383.9 L224.0 384.0 L226.0 384.2 L228.0 384.3 L230.0 384.5 L232.0 384.6 L234.0 384.7 L236.0 384.8 L238.0 385.0 L240.0 385.1 L242.0 385.2 L244.0 385.3 L246.0 385.4 L248.0 385.5 L250.0 385.6 L252.0 385.7 L254.0 385.8 L256.0 385.9 L258.0 385.9 L260.0 386.0 L262.0 386.1 L264.0 386.1 L266.0 386.2 L268.0 386.2 L270.0 386.2 L272.0 386.2 L274.0 386.2 L276.0 386.2 L278.0 386.1 L280.0 386.1 L282.0 386.0 L284.0 385.9 L286.0 385.9 L288.0 385.7 L290.0 385.6 L292.0 385.5 L294.0 385.3 L296.0 385.1 L298.0 384.9 L300.0 384.7 L302.0 384.5 L304.0 384.3 L306.0 384.0 L308.0 383.8 L310.0 383.5 L312.0 383.2 L314.0 383.0 L316.0 382.7 L318.0 382.4 L320.0 382.2 L322.0 381.9 L324.0 381.6 L326.0 381.3 L328.0 381.1 L330.0 380.8 L332.0 380.5 L334.0 380.3 L336.0 380.0 L338.0 379.8 L340.0 379.6 L342.0 379.4 L344.0 379.1 L346.0 378.9 L348.0 378.8 L350.0 378.6 L352.0 378.4 L354.0 378.2 L356.0 378.0 L358.0 377.9 L360.0 377.7 L362.0 377.5 L364.0 377.4 L366.0 377.2 L368.0 377.0 L370.0 376.8 L372.0 376.7 L374.0 376.5 L376.0 376.3 L378.0 376.1 L380.0 375.9 L382.0 375.7 L384.0 375.5 L386.0 375.3 L388.0 375.1 L390.0 374.9 L392.0 374.6 L394.0 374.4 L396.0 374.1 L398.0 373.9 L400.0 373.6 L402.0 373.3 L404.0 373.0 L406.0 372.7 L408.0 372.4 L410.0 372.1 L412.0 371.8 L414.0 371.5 L416.0 371.1 L418.0 370.8 L420.0 370.4 L422.0 370.0 L424.0 369.6 L426.0 369.2 L428.0 368.8 L430.0 368.4 L432.0 368.0 L434.0 367.6 L436.0 367.1 L438.0 366.7 L440.0 366.2 L442.0 365.7 L444.0 365.3 L446.0 364.8 L448.0 364.3 L450.0 363.8 L452.0 363.4 L454.0 362.9 L456.0 362.5 L458.0 362.0 L460.0 361.6 L462.0 361.2 L464.0 360.8 L466.0 360.5 L468.0 360.2 L470.0 359.9 L472.0 359.6 L474.0 359.4 L476.0 359.3 L478.0 359.1 L480.0 359.0 L482.0 359.0 L484.0 359.0 L486.0 359.1 L488.0 359.2 L490.0 359.3 L492.0 359.5 L494.0 359.7 L496.0 359.9 L498.0 360.2 L500.0 360.5 L502.0 360.8 L504.0 361.2 L506.0 361.5 L508.0 361.9 L510.0 362.3 L512.0 362.7 L514.0 363.2 L516.0 363.6 L518.0 364.1 L520.0 364.6 L522.0 365.1 L524.0 365.6 L526.0 366.2 L528.0 366.7 L530.0 367.2 L532.0 367.7 L534.0 368.3 L536.0 368.8 L538.0 369.3 L540.0 369.7 L542.0 370.2 L544.0 370.6 L546.0 371.0 L548.0 371.5 L550.0 371.9 L552.0 372.3 L554.0 372.7 L556.0 373.1 L558.0 373.5 L560.0 374.0 L562.0 374.5 L564.0 375.0 L566.0 375.5 L568.0 376.1 L570.0 376.6 L572.0 377.2 L574.0 377.7 L576.0 378.3 L578.0 378.8 L580.0 379.3 L582.0 379.8 L584.0 380.3 L586.0 380.7 L588.0 381.1 L590.0 381.5 L592.0 381.9 L594.0 382.1 L596.0 382.4 L598.0 382.6 L600.0 382.9 L602.0 383.0 L604.0 383.2 L606.0 383.3 L608.0 383.5 L610.0 383.6 L612.0 383.7 L614.0 383.9 L616.0 384.0 L618.0 384.1 L620.0 384.2 L622.0 384.3 L624.0 384.4 L626.0 384.5 L628.0 384.6 L630.0 384.7 L632.0 384.8 L634.0 384.8 L636.0 384.9 L638.0 385.0 L640.0 385.0 L642.0 385.1 L644.0 385.1 L646.0 385.1 L648.0 385.2 L650.0 385.2 L652.0 385.2 L654.0 385.2 L656.0 385.2 L658.0 385.2 L660.0 385.2 L662.0 385.2 L664.0 385.2 L666.0 385.2 L668.0 385.1 L670.0 385.1 L672.0 385.1 L674.0 385.0 L676.0 385.0 L678.0 384.9 L680.0 384.8 L682.0 384.8 L684.0 384.7 L686.0 384.6 L688.0 384.5 L690.0 384.4 L692.0 384.3 L694.0 384.2 L696.0 384.0 L698.0 383.9 L700.0 383.8 L702.0 383.6 L704.0 383.5 L706.0 383.3 L708.0 383.1 L710.0 383.0 L712.0 382.8 L714.0 382.6 L716.0 382.4 L718.0 382.2 L720.0 382.0 L722.0 381.8 L724.0 381.5 L726.0 381.3 L728.0 381.1 L730.0 380.9 L732.0 380.6 L734.0 380.4 L736.0 380.2 L738.0 380.1 L740.0 379.9 L742.0 379.8 L744.0 379.6 L746.0 379.6 L748.0 379.5 L750.0 379.5 L752.0 379.5 L754.0 379.5 L756.0 379.5 L758.0 379.5 L760.0 379.6 L762.0 379.6 L764.0 379.7 L766.0 379.8 L768.0 379.8 L770.0 379.8 L770.0 144.0 L134.0 144.0Z" fill="#beff00"/>
<path d="M134.0 376.0 L136.0 376.0 L138.0 376.1 L140.0 376.1 L142.0 376.2 L144.0 376.3 L146.0 376.3 L148.0 376.4 L150.0 376.5 L152.0 376.6 L154.0 376.6 L156.0 376.7 L158.0 376.8 L160.0 376.9 L162.0 376.9 L164.0 377.0 L166.0 377.1 L168.0 377.2 L170.0 377.3 L172.0 377.3 L174.0 377.4 L176.0 377.5 L178.0 377.6 L180.0 377.7 L182.0 377.8 L184.0 377.9 L186.0 378.0 L188.0 378.1 L190.0 378.2 L192.0 378.3 L194.0 378.4 L196.0 378.6 L198.0 378.7 L200.0 378.8 L202.0 378.9 L204.0 379.1 L206.0 379.2 L208.0 379.3 L210.0 379.5 L212.0 379.6 L214.0 379.8 L216.0 379.9 L218.0 380.1 L220.0 380.2 L222.0 380.3 L224.0 380.5 L226.0 380.6 L228.0 380.8 L230.0 380.9 L232.0 381.1 L234.0 381.2 L236.0 381.3 L238.0 381.4 L240.0 381.6 L242.0 381.7 L244.0 381.8 L246.0 381.9 L248.0 382.0 L250.0 382.1 L252.0 382.2 L254.0 382.3 L256.0 382.4 L258.0 382.4 L260.0 382.5 L262.0 382.6 L264.0 382.6 L266.0 382.6 L268.0 382.7 L270.0 382.7 L272.0 382.7 L274.0 382.6 L276.0 382.6 L278.0 382.6 L280.0 382.5 L282.0 382.5 L284.0 382.4 L286.0 382.3 L288.0 382.1 L290.0 382.0 L292.0 381.8 L294.0 381.7 L296.0 381.5 L298.0 381.3 L300.0 381.0 L302.0 380.8 L304.0 380.6 L306.0 380.3 L308.0 380.0 L310.0 379.8 L312.0 379.5 L314.0 379.2 L316.0 378.9 L318.0 378.6 L320.0 378.3 L322.0 378.0 L324.0 377.7 L326.0 377.4 L328.0 377.1 L330.0 376.8 L332.0 376.5 L334.0 376.3 L336.0 376.0 L338.0 375.7 L340.0 375.5 L342.0 375.2 L344.0 375.0 L346.0 374.8 L348.0 374.6 L350.0 374.3 L352.0 374.1 L354.0 373.9 L356.0 373.7 L358.0 373.5 L360.0 373.3 L362.0 373.1 L364.0 372.9 L366.0 372.7 L368.0 372.5 L370.0 372.3 L372.0 372.1 L374.0 371.9 L376.0 371.7 L378.0 371.4 L380.0 371.2 L382.0 371.0 L384.0 370.8 L386.0 370.5 L388.0 370.3 L390.0 370.0 L392.0 369.8 L394.0 369.5 L396.0 369.2 L398.0 368.9 L400.0 368.6 L402.0 368.3 L404.0 368.0 L406.0 367.7 L408.0 367.4 L410.0 367.1 L412.0 366.7 L414.0 366.3 L416.0 366.0 L418.0 365.6 L420.0 365.2 L422.0 364.8 L424.0 364.4 L426.0 364.0 L428.0 363.5 L430.0 363.1 L432.0 362.6 L434.0 362.1 L436.0 361.6 L438.0 361.1 L440.0 360.6 L442.0 360.1 L444.0 359.5 L446.0 359.0 L448.0 358.4 L450.0 357.9 L452.0 357.3 L454.0 356.8 L456.0 356.3 L458.0 355.8 L460.0 355.3 L462.0 354.8 L464.0 354.4 L466.0 354.0 L468.0 353.7 L470.0 353.3 L472.0 353.1 L474.0 352.8 L476.0 352.6 L478.0 352.5 L480.0 352.4 L482.0 352.4 L484.0 352.4 L486.0 352.5 L488.0 352.6 L490.0 352.8 L492.0 353.0 L494.0 353.3 L496.0 353.6 L498.0 353.9 L500.0 354.3 L502.0 354.7 L504.0 355.1 L506.0 355.5 L508.0 356.0 L510.0 356.5 L512.0 356.9 L514.0 357.5 L516.0 358.0 L518.0 358.5 L520.0 359.1 L522.0 359.7 L524.0 360.3 L526.0 360.9 L528.0 361.4 L530.0 362.0 L532.0 362.6 L534.0 363.2 L536.0 363.7 L538.0 364.3 L540.0 364.8 L542.0 365.3 L544.0 365.8 L546.0 366.2 L548.0 366.7 L550.0 367.1 L552.0 367.5 L554.0 368.0 L556.0 368.4 L558.0 368.9 L560.0 369.4 L562.0 369.9 L564.0 370.5 L566.0 371.0 L568.0 371.6 L570.0 372.2 L572.0 372.8 L574.0 373.4 L576.0 374.0 L578.0 374.6 L580.0 375.1 L582.0 375.7 L584.0 376.2 L586.0 376.7 L588.0 377.1 L590.0 377.5 L592.0 377.9 L594.0 378.2 L596.0 378.5 L598.0 378.7 L600.0 378.9 L602.0 379.1 L604.0 379.3 L606.0 379.4 L608.0 379.6 L610.0 379.7 L612.0 379.8 L614.0 380.0 L616.0 380.1 L618.0 380.2 L620.0 380.3 L622.0 380.4 L624.0 380.5 L626.0 380.6 L628.0 380.7 L630.0 380.8 L632.0 380.9 L634.0 381.0 L636.0 381.0 L638.0 381.1 L640.0 381.2 L642.0 381.2 L644.0 381.3 L646.0 381.3 L648.0 381.4 L650.0 381.4 L652.0 381.4 L654.0 381.5 L656.0 381.5 L658.0 381.5 L660.0 381.5 L662.0 381.5 L664.0 381.5 L666.0 381.5 L668.0 381.4 L670.0 381.4 L672.0 381.4 L674.0 381.3 L676.0 381.3 L678.0 381.2 L680.0 381.1 L682.0 381.1 L684.0 381.0 L686.0 380.9 L688.0 380.8 L690.0 380.7 L692.0 380.6 L694.0 380.4 L696.0 380.3 L698.0 380.2 L700.0 380.0 L702.0 379.9 L704.0 379.7 L706.0 379.6 L708.0 379.4 L710.0 379.2 L712.0 379.0 L714.0 378.8 L716.0 378.6 L718.0 378.4 L720.0 378.2 L722.0 378.0 L724.0 377.7 L726.0 377.5 L728.0 377.3 L730.0 377.1 L732.0 376.8 L734.0 376.6 L736.0 376.4 L738.0 376.3 L740.0 376.1 L742.0 376.0 L744.0 375.8 L746.0 375.8 L748.0 375.7 L750.0 375.7 L752.0 375.6 L754.0 375.6 L756.0 375.7 L758.0 375.7 L760.0 375.7 L762.0 375.8 L764.0 375.9 L766.0 375.9 L768.0 376.0 L770.0 376.0 L770.0 144.0 L134.0 144.0Z" fill="#ccff00"/>
<path d="M134.0 371.5 L136.0 371.5 L138.0 371.6 L140.0 371.6 L142.0 371.7 L144.0 371.8 L146.0 371.8 L148.0 371.9 L150.0 372.0 L152.0 372.1 L154.0 372.2 L156.0 372.2 L158.0 372.3 L160.0 372.4 L162.0 372.5 L164.0 372.6 L166.0 372.7 L168.0 372.8 L170.0 372.9 L172.0 373.1 L174.0 373.2 L176.0 373.3 L178.0 373.4 L180.0 373.5 L182.0 373.6 L184.0 373.7 L186.0 373.8 L188.0 374.0 L190.0 374.1 L192.0 374.2 L194.0 374.4 L196.0 374.5 L198.0 374.6 L200.0 374.8 L202.0 374.9 L204.0 375.1 L206.0 375.2 L208.0 375.4 L210.0 375.5 L212.0 375.7 L214.0 375.8 L216.0 376.0 L218.0 376.1 L220.0 376.3 L222.0 376.4 L224.0 376.6 L226.0 376.7 L228.0 376.9 L230.0 377.0 L232.0 377.2 L234.0 377.3 L236.0 377.5 L238.0 377.6 L240.0 377.7 L242.0 377.8 L244.0 377.9 L246.0 378.0 L248.0 378.1 L250.0 378.2 L252.0 378.3 L254.0 378.4 L256.0 378.4 L258.0 378.5 L260.0 378.6 L262.0 378.6 L264.0 378.6 L266.0 378.7 L268.0 378.7 L270.0 378.7 L272.0 378.7 L274.0 378.7 L276.0 378.6 L278.0 378.6 L280.0 378.5 L282.0 378.4 L284.0 378.3 L286.0 378.2 L288.0 378.1 L290.0 378.0 L292.0 377.8 L294.0 377.6 L296.0 377.4 L298.0 377.2 L300.0 377.0 L302.0 376.7 L304.0 376.4 L306.0 376.2 L308.0 375.9 L310.0 375.6 L312.0 375.3 L314.0 375.0 L316.0 374.7 L318.0 374.4 L320.0 374.1 L322.0 373.8 L324.0 373.5 L326.0 373.1 L328.0 372.8 L330.0 372.5 L332.0 372.2 L334.0 371.9 L336.0 371.6 L338.0 371.3 L340.0 371.0 L342.0 370.7 L344.0 370.5 L346.0 370.2 L348.0 369.9 L350.0 369.7 L352.0 369.4 L354.0 369.2 L356.0 368.9 L358.0 368.6 L360.0 368.4 L362.0 368.1 L364.0 367.9 L366.0 367.6 L368.0 367.3 L370.0 367.1 L372.0 366.8 L374.0 366.5 L376.0 366.3 L378.0 366.0 L380.0 365.7 L382.0 365.5 L384.0 365.2 L386.0 364.9 L388.0 364.6 L390.0 364.3 L392.0 364.0 L394.0 363.7 L396.0 363.4 L398.0 363.1 L400.0 362.8 L402.0 362.5 L404.0 362.1 L406.0 361.8 L408.0 361.4 L410.0 361.1 L412.0 360.7 L414.0 360.3 L416.0 359.9 L418.0 359.5 L420.0 359.1 L422.0 358.6 L424.0 358.2 L426.0 357.7 L428.0 357.2 L430.0 356.7 L432.0 356.2 L434.0 355.6 L436.0 355.1 L438.0 354.5 L440.0 353.9 L442.0 353.2 L444.0 352.6 L446.0 351.9 L448.0 351.2 L450.0 350.6 L452.0 349.9 L454.0 349.2 L456.0 348.6 L458.0 348.0 L460.0 347.4 L462.0 346.9 L464.0 346.4 L466.0 345.9 L468.0 345.5 L470.0 345.1 L472.0 344.8 L474.0 344.5 L476.0 344.4 L478.0 344.2 L480.0 344.2 L482.0 344.2 L484.0 344.3 L486.0 344.4 L488.0 344.6 L490.0 344.9 L492.0 345.2 L494.0 345.6 L496.0 346.0 L498.0 346.4 L500.0 346.8 L502.0 347.3 L504.0 347.9 L506.0 348.4 L508.0 349.0 L510.0 349.6 L512.0 350.2 L514.0 350.8 L516.0 351.4 L518.0 352.1 L520.0 352.7 L522.0 353.4 L524.0 354.1 L526.0 354.8 L528.0 355.5 L530.0 356.1 L532.0 356.8 L534.0 357.5 L536.0 358.1 L538.0 358.7 L540.0 359.3 L542.0 359.9 L544.0 360.4 L546.0 360.9 L548.0 361.4 L550.0 361.9 L552.0 362.4 L554.0 362.9 L556.0 363.4 L558.0 363.9 L560.0 364.5 L562.0 365.0 L564.0 365.6 L566.0 366.2 L568.0 366.8 L570.0 367.4 L572.0 368.0 L574.0 368.7 L576.0 369.3 L578.0 369.9 L580.0 370.4 L582.0 371.0 L584.0 371.5 L586.0 372.0 L588.0 372.5 L590.0 372.9 L592.0 373.3 L594.0 373.6 L596.0 373.9 L598.0 374.2 L600.0 374.4 L602.0 374.6 L604.0 374.8 L606.0 375.0 L608.0 375.2 L610.0 375.3 L612.0 375.4 L614.0 375.6 L616.0 375.7 L618.0 375.8 L620.0 376.0 L622.0 376.1 L624.0 376.2 L626.0 376.3 L628.0 376.4 L630.0 376.5 L632.0 376.6 L634.0 376.7 L636.0 376.8 L638.0 376.9 L640.0 376.9 L642.0 377.0 L644.0 377.1 L646.0 377.1 L648.0 377.2 L650.0 377.2 L652.0 377.3 L654.0 377.3 L656.0 377.4 L658.0 377.4 L660.0 377.4 L662.0 377.4 L664.0 377.4 L666.0 377.4 L668.0 377.4 L670.0 377.4 L672.0 377.3 L674.0 377.3 L676.0 377.2 L678.0 377.2 L680.0 377.1 L682.0 377.0 L684.0 377.0 L686.0 376.9 L688.0 376.8 L690.0 376.7 L692.0 376.5 L694.0 376.4 L696.0 376.3 L698.0 376.1 L700.0 376.0 L702.0 375.8 L704.0 375.7 L706.0 375.5 L708.0 375.3 L710.0 375.2 L712.0 375.0 L714.0 374.8 L716.0 374.6 L718.0 374.3 L720.0 374.1 L722.0 373.9 L724.0 373.7 L726.0 373.4 L728.0 373.2 L730.0 373.0 L732.0 372.7 L734.0 372.5 L736.0 372.3 L738.0 372.1 L740.0 372.0 L742.0 371.8 L744.0 371.7 L746.0 371.5 L748.0 371.5 L750.0 371.4 L752.0 371.3 L754.0 371.3 L756.0 371.3 L758.0 371.3 L760.0 371.3 L762.0 371.3 L764.0 371.4 L766.0 371.4 L768.0 371.5 L770.0 371.5 L770.0 144.0 L134.0 144.0Z" fill="#ddff00"/>
<path d="M134.0 366.3 L136.0 366.3 L138.0 366.3 L140.0 366.4 L142.0 366.4 L144.0 366.5 L146.0 366.6 L148.0 366.7 L150.0 366.8 L152.0 366.9 L154.0 367.0 L156.0 367.1 L158.0 367.2 L160.0 367.4 L162.0 367.5 L164.0 367.7 L166.0 367.8 L168.0 367.9 L170.0 368.1 L172.0 368.2 L174.0 368.4 L176.0 368.5 L178.0 368.7 L180.0 368.8 L182.0 369.0 L184.0 369.1 L186.0 369.3 L188.0 369.4 L190.0 369.6 L192.0 369.7 L194.0 369.9 L196.0 370.0 L198.0 370.2 L200.0 370.4 L202.0 370.5 L204.0 370.7 L206.0 370.9 L208.0 371.0 L210.0 371.2 L212.0 371.4 L214.0 371.6 L216.0 371.7 L218.0 371.9 L220.0 372.1 L222.0 372.2 L224.0 372.4 L226.0 372.5 L228.0 372.7 L230.0 372.9 L232.0 373.0 L234.0 373.1 L236.0 373.3 L238.0 373.4 L240.0 373.5 L242.0 373.6 L244.0 373.7 L246.0 373.8 L248.0 373.9 L250.0 373.9 L252.0 374.0 L254.0 374.1 L256.0 374.1 L258.0 374.2 L260.0 374.2 L262.0 374.2 L264.0 374.3 L266.0 374.3 L268.0 374.3 L270.0 374.3 L272.0 374.2 L274.0 374.2 L276.0 374.2 L278.0 374.1 L280.0 374.1 L282.0 374.0 L284.0 373.9 L286.0 373.8 L288.0 373.6 L290.0 373.5 L292.0 373.3 L294.0 373.1 L296.0 372.9 L298.0 372.7 L300.0 372.5 L302.0 372.2 L304.0 371.9 L306.0 371.7 L308.0 371.4 L310.0 371.1 L312.0 370.8 L314.0 370.5 L316.0 370.2 L318.0 369.8 L320.0 369.5 L322.0 369.2 L324.0 368.8 L326.0 368.5 L328.0 368.2 L330.0 367.8 L332.0 367.5 L334.0 367.2 L336.0 366.8 L338.0 366.5 L340.0 366.2 L342.0 365.9 L344.0 365.5 L346.0 365.2 L348.0 364.9 L350.0 364.6 L352.0 364.2 L354.0 363.9 L356.0 363.6 L358.0 363.3 L360.0 362.9 L362.0 362.6 L364.0 362.2 L366.0 361.9 L368.0 361.5 L370.0 361.1 L372.0 360.8 L374.0 360.4 L376.0 360.1 L378.0 359.7 L380.0 359.4 L382.0 359.0 L384.0 358.7 L386.0 358.4 L388.0 358.0 L390.0 357.7 L392.0 357.4 L394.0 357.0 L396.0 356.7 L398.0 356.3 L400.0 356.0 L402.0 355.6 L404.0 355.3 L406.0 354.9 L408.0 354.5 L410.0 354.1 L412.0 353.7 L414.0 353.3 L416.0 352.8 L418.0 352.4 L420.0 351.9 L422.0 351.4 L424.0 350.9 L426.0 350.4 L428.0 349.8 L430.0 349.2 L432.0 348.6 L434.0 348.0 L436.0 347.3 L438.0 346.6 L440.0 345.8 L442.0 345.0 L444.0 344.2 L446.0 343.4 L448.0 342.6 L450.0 341.7 L452.0 340.9 L454.0 340.0 L456.0 339.2 L458.0 338.4 L460.0 337.7 L462.0 337.0 L464.0 336.4 L466.0 335.8 L468.0 335.3 L470.0 334.9 L472.0 334.6 L474.0 334.3 L476.0 334.1 L478.0 334.0 L480.0 334.0 L482.0 334.1 L484.0 334.3 L486.0 334.5 L488.0 334.9 L490.0 335.3 L492.0 335.7 L494.0 336.2 L496.0 336.8 L498.0 337.3 L500.0 338.0 L502.0 338.6 L504.0 339.3 L506.0 340.0 L508.0 340.7 L510.0 341.5 L512.0 342.3 L514.0 343.0 L516.0 343.8 L518.0 344.6 L520.0 345.4 L522.0 346.3 L524.0 347.1 L526.0 347.9 L528.0 348.7 L530.0 349.5 L532.0 350.3 L534.0 351.0 L536.0 351.8 L538.0 352.5 L540.0 353.2 L542.0 353.9 L544.0 354.5 L546.0 355.1 L548.0 355.7 L550.0 356.3 L552.0 356.9 L554.0 357.4 L556.0 358.0 L558.0 358.6 L560.0 359.2 L562.0 359.8 L564.0 360.4 L566.0 361.0 L568.0 361.6 L570.0 362.2 L572.0 362.9 L574.0 363.5 L576.0 364.1 L578.0 364.7 L580.0 365.3 L582.0 365.8 L584.0 366.3 L586.0 366.9 L588.0 367.3 L590.0 367.8 L592.0 368.2 L594.0 368.5 L596.0 368.8 L598.0 369.1 L600.0 369.4 L602.0 369.6 L604.0 369.8 L606.0 370.0 L608.0 370.2 L610.0 370.4 L612.0 370.6 L614.0 370.7 L616.0 370.9 L618.0 371.0 L620.0 371.1 L622.0 371.3 L624.0 371.4 L626.0 371.5 L628.0 371.6 L630.0 371.7 L632.0 371.9 L634.0 372.0 L636.0 372.1 L638.0 372.2 L640.0 372.3 L642.0 372.3 L644.0 372.4 L646.0 372.5 L648.0 372.6 L650.0 372.7 L652.0 372.7 L654.0 372.8 L656.0 372.8 L658.0 372.9 L660.0 372.9 L662.0 373.0 L664.0 373.0 L666.0 373.0 L668.0 373.0 L670.0 373.0 L672.0 373.0 L674.0 372.9 L676.0 372.9 L678.0 372.8 L680.0 372.8 L682.0 372.7 L684.0 372.6 L686.0 372.5 L688.0 372.4 L690.0 372.3 L692.0 372.2 L694.0 372.1 L696.0 372.0 L698.0 371.8 L700.0 371.7 L702.0 371.5 L704.0 371.3 L706.0 371.2 L708.0 371.0 L710.0 370.8 L712.0 370.6 L714.0 370.4 L716.0 370.2 L718.0 370.0 L720.0 369.7 L722.0 369.5 L724.0 369.3 L726.0 369.0 L728.0 368.8 L730.0 368.5 L732.0 368.3 L734.0 368.1 L736.0 367.8 L738.0 367.6 L740.0 367.4 L742.0 367.2 L744.0 367.1 L746.0 366.9 L748.0 366.8 L750.0 366.6 L752.0 366.5 L754.0 366.4 L756.0 366.4 L758.0 366.3 L760.0 366.3 L762.0 366.3 L764.0 366.3 L766.0 366.3 L768.0 366.3 L770.0 366.3 L770.0 144.0 L134.0 144.0Z" fill="#ddff00"/>
<path d="M134.0 360.5 L136.0 360.5 L138.0 360.5 L140.0 360.6 L142.0 360.6 L144.0 360.7 L146.0 360.8 L148.0 360.9 L150.0 361.0 L152.0 361.1 L154.0 361.3 L156.0 361.4 L158.0 361.6 L160.0 361.8 L162.0 362.0 L164.0 362.2 L166.0 362.4 L168.0 362.6 L170.0 362.8 L172.0 363.0 L174.0 363.2 L176.0 363.4 L178.0 363.6 L180.0 363.8 L182.0 364.0 L184.0 364.1 L186.0 364.3 L188.0 364.5 L190.0 364.7 L192.0 364.9 L194.0 365.1 L196.0 365.3 L198.0 365.5 L200.0 365.7 L202.0 365.9 L204.0 366.0 L206.0 366.2 L208.0 366.4 L210.0 366.6 L212.0 366.8 L214.0 367.0 L216.0 367.2 L218.0 367.4 L220.0 367.6 L222.0 367.7 L224.0 367.9 L226.0 368.1 L228.0 368.2 L230.0 368.4 L232.0 368.5 L234.0 368.7 L236.0 368.8 L238.0 368.9 L240.0 369.0 L242.0 369.1 L244.0 369.2 L246.0 369.2 L248.0 369.3 L250.0 369.4 L252.0 369.4 L254.0 369.4 L256.0 369.5 L258.0 369.5 L260.0 369.5 L262.0 369.5 L264.0 369.5 L266.0 369.5 L268.0 369.5 L270.0 369.5 L272.0 369.4 L274.0 369.4 L276.0 369.4 L278.0 369.3 L280.0 369.2 L282.0 369.1 L284.0 369.0 L286.0 368.9 L288.0 368.8 L290.0 368.6 L292.0 368.5 L294.0 368.3 L296.0 368.1 L298.0 367.9 L300.0 367.6 L302.0 367.4 L304.0 367.1 L306.0 366.8 L308.0 366.6 L310.0 366.3 L312.0 365.9 L314.0 365.6 L316.0 365.3 L318.0 365.0 L320.0 364.6 L322.0 364.3 L324.0 363.9 L326.0 363.6 L328.0 363.2 L330.0 362.9 L332.0 362.5 L334.0 362.1 L336.0 361.7 L338.0 361.4 L340.0 361.0 L342.0 360.6 L344.0 360.3 L346.0 359.9 L348.0 359.5 L350.0 359.1 L352.0 358.7 L354.0 358.3 L356.0 357.9 L358.0 357.4 L360.0 357.0 L362.0 356.5 L364.0 356.1 L366.0 355.6 L368.0 355.1 L370.0 354.6 L372.0 354.2 L374.0 353.7 L376.0 353.2 L378.0 352.8 L380.0 352.4 L382.0 351.9 L384.0 351.5 L386.0 351.1 L388.0 350.7 L390.0 350.3 L392.0 349.9 L394.0 349.5 L396.0 349.1 L398.0 348.8 L400.0 348.4 L402.0 348.0 L404.0 347.6 L406.0 347.1 L408.0 346.7 L410.0 346.3 L412.0 345.8 L414.0 345.4 L416.0 344.9 L418.0 344.4 L420.0 343.9 L422.0 343.3 L424.0 342.7 L426.0 342.1 L428.0 341.5 L430.0 340.8 L432.0 340.1 L434.0 339.3 L436.0 338.5 L438.0 337.7 L440.0 336.8 L442.0 335.8 L444.0 334.8 L446.0 333.8 L448.0 332.7 L450.0 331.6 L452.0 330.6 L454.0 329.5 L456.0 328.5 L458.0 327.5 L460.0 326.6 L462.0 325.7 L464.0 325.0 L466.0 324.3 L468.0 323.7 L470.0 323.2 L472.0 322.8 L474.0 322.5 L476.0 322.4 L478.0 322.3 L480.0 322.4 L482.0 322.6 L484.0 322.9 L486.0 323.3 L488.0 323.7 L490.0 324.3 L492.0 324.9 L494.0 325.6 L496.0 326.4 L498.0 327.1 L500.0 328.0 L502.0 328.8 L504.0 329.7 L506.0 330.6 L508.0 331.5 L510.0 332.5 L512.0 333.4 L514.0 334.4 L516.0 335.4 L518.0 336.4 L520.0 337.4 L522.0 338.3 L524.0 339.3 L526.0 340.3 L528.0 341.3 L530.0 342.2 L532.0 343.1 L534.0 344.0 L536.0 344.9 L538.0 345.8 L540.0 346.6 L542.0 347.4 L544.0 348.1 L546.0 348.9 L548.0 349.6 L550.0 350.3 L552.0 350.9 L554.0 351.6 L556.0 352.3 L558.0 352.9 L560.0 353.5 L562.0 354.2 L564.0 354.8 L566.0 355.4 L568.0 356.1 L570.0 356.7 L572.0 357.3 L574.0 357.9 L576.0 358.5 L578.0 359.1 L580.0 359.6 L582.0 360.2 L584.0 360.7 L586.0 361.2 L588.0 361.7 L590.0 362.1 L592.0 362.5 L594.0 362.9 L596.0 363.3 L598.0 363.6 L600.0 363.9 L602.0 364.2 L604.0 364.4 L606.0 364.6 L608.0 364.9 L610.0 365.1 L612.0 365.3 L614.0 365.4 L616.0 365.6 L618.0 365.8 L620.0 365.9 L622.0 366.1 L624.0 366.2 L626.0 366.4 L628.0 366.5 L630.0 366.6 L632.0 366.7 L634.0 366.9 L636.0 367.0 L638.0 367.1 L640.0 367.2 L642.0 367.3 L644.0 367.4 L646.0 367.6 L648.0 367.7 L650.0 367.8 L652.0 367.8 L654.0 367.9 L656.0 368.0 L658.0 368.1 L660.0 368.2 L662.0 368.2 L664.0 368.2 L666.0 368.3 L668.0 368.3 L670.0 368.3 L672.0 368.3 L674.0 368.3 L676.0 368.3 L678.0 368.2 L680.0 368.2 L682.0 368.1 L684.0 368.0 L686.0 367.9 L688.0 367.8 L690.0 367.7 L692.0 367.6 L694.0 367.5 L696.0 367.4 L698.0 367.2 L700.0 367.1 L702.0 366.9 L704.0 366.7 L706.0 366.5 L708.0 366.3 L710.0 366.2 L712.0 365.9 L714.0 365.7 L716.0 365.5 L718.0 365.3 L720.0 365.1 L722.0 364.8 L724.0 364.6 L726.0 364.3 L728.0 364.1 L730.0 363.8 L732.0 363.6 L734.0 363.3 L736.0 363.1 L738.0 362.8 L740.0 362.6 L742.0 362.4 L744.0 362.1 L746.0 361.9 L748.0 361.7 L750.0 361.5 L752.0 361.3 L754.0 361.2 L756.0 361.0 L758.0 360.9 L760.0 360.8 L762.0 360.7 L764.0 360.6 L766.0 360.6 L768.0 360.5 L770.0 360.5 L770.0 144.0 L134.0 144.0Z" fill="#eeff00"/>
<path d="M134.0 354.4 L136.0 354.4 L138.0 354.3 L140.0 354.3 L142.0 354.3 L144.0 354.4 L146.0 354.5 L148.0 354.6 L150.0 354.8 L152.0 355.0 L154.0 355.1 L156.0 355.4 L158.0 355.6 L160.0 355.8 L162.0 356.1 L164.0 356.3 L166.0 356.6 L168.0 356.8 L170.0 357.1 L172.0 357.4 L174.0 357.6 L176.0 357.9 L178.0 358.1 L180.0 358.4 L182.0 358.6 L184.0 358.9 L186.0 359.1 L188.0 359.3 L190.0 359.6 L192.0 359.8 L194.0 360.0 L196.0 360.2 L198.0 360.5 L200.0 360.7 L202.0 360.9 L204.0 361.2 L206.0 361.4 L208.0 361.6 L210.0 361.8 L212.0 362.0 L214.0 362.2 L216.0 362.5 L218.0 362.7 L220.0 362.8 L222.0 363.0 L224.0 363.2 L226.0 363.4 L228.0 363.5 L230.0 363.7 L232.0 363.8 L234.0 364.0 L236.0 364.1 L238.0 364.2 L240.0 364.3 L242.0 364.3 L244.0 364.4 L246.0 364.4 L248.0 364.5 L250.0 364.5 L252.0 364.5 L254.0 364.5 L256.0 364.5 L258.0 364.5 L260.0 364.5 L262.0 364.5 L264.0 364.5 L266.0 364.5 L268.0 364.4 L270.0 364.4 L272.0 364.4 L274.0 364.3 L276.0 364.2 L278.0 364.2 L280.0 364.1 L282.0 364.0 L284.0 363.9 L286.0 363.8 L288.0 363.7 L290.0 363.5 L292.0 363.3 L294.0 363.1 L296.0 363.0 L298.0 362.7 L300.0 362.5 L302.0 362.3 L304.0 362.0 L306.0 361.7 L308.0 361.4 L310.0 361.1 L312.0 360.8 L314.0 360.5 L316.0 360.2 L318.0 359.8 L320.0 359.5 L322.0 359.1 L324.0 358.8 L326.0 358.4 L328.0 358.0 L330.0 357.6 L332.0 357.2 L334.0 356.8 L336.0 356.4 L338.0 356.0 L340.0 355.6 L342.0 355.1 L344.0 354.7 L346.0 354.2 L348.0 353.8 L350.0 353.3 L352.0 352.8 L354.0 352.3 L356.0 351.8 L358.0 351.2 L360.0 350.7 L362.0 350.1 L364.0 349.5 L366.0 348.9 L368.0 348.3 L370.0 347.7 L372.0 347.1 L374.0 346.5 L376.0 345.9 L378.0 345.3 L380.0 344.8 L382.0 344.3 L384.0 343.8 L386.0 343.3 L388.0 342.8 L390.0 342.3 L392.0 341.9 L394.0 341.5 L396.0 341.0 L398.0 340.6 L400.0 340.1 L402.0 339.7 L404.0 339.3 L406.0 338.8 L408.0 338.3 L410.0 337.9 L412.0 337.4 L414.0 336.9 L416.0 336.3 L418.0 335.8 L420.0 335.2 L422.0 334.6 L424.0 333.9 L426.0 333.3 L428.0 332.5 L430.0 331.7 L432.0 330.9 L434.0 330.0 L436.0 329.1 L438.0 328.0 L440.0 327.0 L442.0 325.8 L444.0 324.6 L446.0 323.3 L448.0 322.0 L450.0 320.7 L452.0 319.3 L454.0 318.0 L456.0 316.8 L458.0 315.6 L460.0 314.5 L462.0 313.4 L464.0 312.5 L466.0 311.7 L468.0 311.0 L470.0 310.4 L472.0 310.0 L474.0 309.7 L476.0 309.5 L478.0 309.5 L480.0 309.7 L482.0 310.0 L484.0 310.4 L486.0 311.0 L488.0 311.6 L490.0 312.4 L492.0 313.2 L494.0 314.1 L496.0 315.1 L498.0 316.1 L500.0 317.1 L502.0 318.2 L504.0 319.3 L506.0 320.4 L508.0 321.6 L510.0 322.8 L512.0 323.9 L514.0 325.1 L516.0 326.3 L518.0 327.5 L520.0 328.7 L522.0 329.9 L524.0 331.0 L526.0 332.2 L528.0 333.3 L530.0 334.4 L532.0 335.5 L534.0 336.6 L536.0 337.6 L538.0 338.6 L540.0 339.6 L542.0 340.5 L544.0 341.4 L546.0 342.3 L548.0 343.1 L550.0 343.9 L552.0 344.7 L554.0 345.5 L556.0 346.2 L558.0 347.0 L560.0 347.7 L562.0 348.3 L564.0 349.0 L566.0 349.6 L568.0 350.3 L570.0 350.9 L572.0 351.5 L574.0 352.0 L576.0 352.6 L578.0 353.1 L580.0 353.7 L582.0 354.2 L584.0 354.7 L586.0 355.2 L588.0 355.6 L590.0 356.1 L592.0 356.5 L594.0 356.9 L596.0 357.3 L598.0 357.7 L600.0 358.0 L602.0 358.3 L604.0 358.6 L606.0 358.9 L608.0 359.2 L610.0 359.4 L612.0 359.6 L614.0 359.8 L616.0 360.0 L618.0 360.2 L620.0 360.4 L622.0 360.6 L624.0 360.7 L626.0 360.9 L628.0 361.0 L630.0 361.2 L632.0 361.3 L634.0 361.5 L636.0 361.6 L638.0 361.7 L640.0 361.9 L642.0 362.0 L644.0 362.2 L646.0 362.3 L648.0 362.4 L650.0 362.6 L652.0 362.7 L654.0 362.8 L656.0 362.9 L658.0 363.0 L660.0 363.1 L662.0 363.2 L664.0 363.3 L666.0 363.3 L668.0 363.4 L670.0 363.4 L672.0 363.4 L674.0 363.4 L676.0 363.4 L678.0 363.4 L680.0 363.3 L682.0 363.3 L684.0 363.2 L686.0 363.1 L688.0 363.0 L690.0 362.9 L692.0 362.8 L694.0 362.7 L696.0 362.5 L698.0 362.4 L700.0 362.2 L702.0 362.1 L704.0 361.9 L706.0 361.7 L708.0 361.5 L710.0 361.3 L712.0 361.1 L714.0 360.9 L716.0 360.6 L718.0 360.4 L720.0 360.2 L722.0 359.9 L724.0 359.7 L726.0 359.4 L728.0 359.2 L730.0 358.9 L732.0 358.6 L734.0 358.3 L736.0 358.1 L738.0 357.8 L740.0 357.5 L742.0 357.2 L744.0 356.9 L746.0 356.6 L748.0 356.3 L750.0 356.0 L752.0 355.8 L754.0 355.5 L756.0 355.3 L758.0 355.1 L760.0 354.9 L762.0 354.7 L764.0 354.5 L766.0 354.4 L768.0 354.4 L770.0 354.4 L770.0 144.0 L134.0 144.0Z" fill="#ffff00"/>
<path d="M133.0 193.2 L136.0 193.2 L140.2 192.6 L144.4 192.0 L148.6 191.4 L152.8 190.9 L157.0 190.3 L161.3 189.8 L165.5 189.2 L169.7 188.7 L173.9 188.2 L178.1 187.7 L182.3 187.2 L186.6 186.7 L190.8 186.2 L195.0 185.8 L199.2 185.3 L203.5 185.0 L207.7 184.6 L211.9 184.4 L216.2 184.2 L220.4 184.1 L224.7 184.0 L228.9 184.0 L233.2 184.0 L237.4 184.0 L241.7 184.1 L245.9 184.1 L250.2 184.3 L254.4 184.6 L258.6 184.9 L262.9 185.3 L267.1 185.8 L271.3 186.3 L275.5 186.9 L279.7 187.5 L283.9 188.2 L288.1 188.9 L292.3 189.6 L296.5 190.3 L300.7 191.1 L304.8 191.9 L309.0 192.7 L313.1 193.6 L317.3 194.4 L321.5 195.3 L325.6 196.3 L329.8 197.2 L333.9 198.2 L338.0 199.3 L342.1 200.4 L346.2 201.6 L350.2 203.0 L354.2 204.4 L358.1 206.1 L362.0 207.9 L365.8 209.8 L369.5 212.0 L373.1 214.3 L376.6 216.7 L379.9 219.3 L383.2 222.0 L386.5 224.7 L389.7 227.5 L393.0 230.2 L396.4 232.7 L399.8 235.2 L403.2 237.7 L406.6 240.3 L409.9 243.0 L413.1 245.8 L416.1 248.8 L418.9 252.0 L421.5 255.4 L423.9 258.9 L426.2 262.4 L428.6 266.0 L430.8 269.7 L432.8 273.4 L434.4 277.3 L435.6 281.4 L436.5 285.6 L437.0 289.8 L437.1 294.1 L437.0 298.3 L436.4 302.6 L435.4 306.7 L433.9 310.7 L431.9 314.5 L429.4 317.9 L426.4 320.9 L423.1 323.7 L419.7 326.2 L416.1 328.5 L412.3 330.5 L408.5 332.4 L404.6 334.1 L400.7 335.6 L396.6 337.1 L392.6 338.3 L388.5 339.5 L384.4 340.6 L380.3 341.6 L376.1 342.6 L372.0 343.5 L367.8 344.4 L363.7 345.3 L359.5 346.2 L355.4 347.2 L351.3 348.2 L347.1 349.2 L343.0 350.2 L338.9 351.1 L334.7 351.9 L330.5 352.6 L326.3 353.2 L322.1 353.8 L317.9 354.3 L313.7 354.8 L309.4 355.3 L305.2 355.9 L301.0 356.5 L296.8 357.1 L292.6 357.6 L288.4 358.2 L284.2 358.6 L279.9 359.0 L275.7 359.2 L271.5 359.4 L267.2 359.5 L263.0 359.5 L258.7 359.5 L254.4 359.5 L250.2 359.5 L246.0 359.4 L241.7 359.3 L237.5 359.1 L233.2 358.9 L229.0 358.5 L224.8 358.2 L220.5 357.8 L216.3 357.4 L212.1 357.1 L207.8 356.7 L203.6 356.3 L199.4 355.9 L195.2 355.4 L190.9 354.9 L186.7 354.4 L182.5 353.8 L178.3 353.2 L174.1 352.7 L169.9 352.1 L165.7 351.5 L161.5 351.0 L157.2 350.5 L153.0 350.2 L148.8 349.8 L144.5 349.6 L140.3 349.5 L136.0 349.5 L133.0 349.5Z" fill="#ffee00"/>
<path d="M771.0 194.2 L768.0 194.2 L764.1 194.1 L760.3 194.0 L756.4 193.9 L752.6 193.8 L748.7 193.7 L744.9 193.7 L741.0 193.6 L737.1 193.5 L733.3 193.5 L729.4 193.4 L725.6 193.4 L721.7 193.4 L717.9 193.3 L714.0 193.3 L710.2 193.3 L706.3 193.2 L702.5 193.2 L698.6 193.1 L694.8 193.1 L690.9 193.1 L687.1 193.0 L683.2 193.0 L679.4 193.0 L675.5 192.9 L671.7 192.8 L667.8 192.8 L664.0 192.7 L660.1 192.6 L656.2 192.6 L652.4 192.5 L648.5 192.4 L644.7 192.3 L640.8 192.2 L636.9 192.0 L633.1 191.9 L629.2 191.8 L625.3 191.6 L621.5 191.6 L617.6 191.5 L613.8 191.5 L609.9 191.6 L606.1 191.8 L602.2 192.1 L598.4 192.5 L594.6 193.0 L590.8 193.7 L587.0 194.4 L583.2 195.2 L579.5 196.1 L575.7 197.0 L572.0 198.0 L568.3 199.1 L564.6 200.2 L560.9 201.4 L557.3 202.7 L553.6 204.1 L550.1 205.6 L546.6 207.3 L543.2 209.2 L540.1 211.3 L537.0 213.7 L534.1 216.2 L531.3 218.9 L528.6 221.7 L525.9 224.5 L523.3 227.3 L520.6 230.0 L517.9 232.8 L515.3 235.6 L512.7 238.5 L510.3 241.5 L507.9 244.6 L505.8 247.9 L504.0 251.3 L502.7 254.9 L501.7 258.6 L501.1 262.4 L500.9 266.3 L500.8 270.2 L500.9 274.1 L501.1 277.9 L501.5 281.8 L502.1 285.6 L502.9 289.4 L503.9 293.1 L505.4 296.7 L507.2 300.0 L509.5 303.2 L512.0 306.1 L514.7 308.9 L517.6 311.6 L520.4 314.3 L523.3 316.8 L526.2 319.3 L529.3 321.6 L532.5 323.7 L535.7 325.7 L539.1 327.7 L542.5 329.6 L545.8 331.4 L549.2 333.3 L552.6 335.3 L555.9 337.3 L559.2 339.3 L562.5 341.3 L565.9 343.1 L569.3 344.8 L572.8 346.3 L576.4 347.7 L580.1 348.8 L583.9 349.8 L587.6 350.6 L591.5 351.4 L595.3 352.0 L599.1 352.6 L603.0 353.1 L606.8 353.6 L610.7 354.0 L614.5 354.4 L618.3 354.7 L622.2 355.0 L626.0 355.3 L629.8 355.6 L633.7 355.9 L637.5 356.1 L641.4 356.3 L645.2 356.6 L649.1 356.8 L652.9 357.1 L656.8 357.4 L660.6 357.6 L664.4 358.0 L668.3 358.2 L672.1 358.4 L676.0 358.5 L679.8 358.5 L683.7 358.4 L687.5 358.3 L691.4 358.0 L695.3 357.7 L699.1 357.4 L703.0 357.0 L706.8 356.6 L710.6 356.1 L714.5 355.7 L718.3 355.2 L722.1 354.8 L725.9 354.3 L729.8 353.8 L733.6 353.3 L737.4 352.8 L741.2 352.3 L745.0 351.8 L748.9 351.3 L752.7 350.8 L756.5 350.3 L760.3 349.8 L764.2 349.4 L768.0 348.9 L771.0 348.9Z" fill="#ffee00"/>
<path d="M133.0 217.9 L136.0 217.9 L139.7 217.3 L143.4 216.7 L147.1 216.0 L150.8 215.3 L154.5 214.6 L158.2 213.8 L161.9 213.0 L165.6 212.2 L169.3 211.4 L173.0 210.6 L176.7 209.8 L180.4 209.0 L184.1 208.3 L187.8 207.6 L191.5 206.9 L195.3 206.2 L199.0 205.6 L202.7 205.1 L206.5 204.6 L210.2 204.2 L214.0 203.9 L217.7 203.6 L221.5 203.5 L225.3 203.4 L229.1 203.4 L232.8 203.5 L236.6 203.7 L240.4 204.0 L244.2 204.3 L247.9 204.7 L251.7 205.2 L255.4 205.7 L259.1 206.4 L262.8 207.1 L266.5 207.8 L270.2 208.6 L273.9 209.4 L277.6 210.3 L281.2 211.2 L284.9 212.2 L288.6 213.2 L292.2 214.2 L295.8 215.2 L299.5 216.3 L303.1 217.4 L306.7 218.5 L310.3 219.7 L313.8 221.0 L317.4 222.3 L320.9 223.6 L324.4 225.1 L327.8 226.6 L331.3 228.1 L334.7 229.7 L338.1 231.3 L341.4 233.0 L344.8 234.7 L348.2 236.4 L351.6 238.1 L355.0 239.8 L358.3 241.5 L361.6 243.3 L364.9 245.2 L368.0 247.3 L371.1 249.4 L374.2 251.7 L377.1 254.0 L380.1 256.4 L382.9 258.9 L385.7 261.5 L388.5 264.1 L391.2 266.7 L393.8 269.4 L396.4 272.2 L398.8 275.1 L401.1 278.1 L403.2 281.3 L405.1 284.6 L406.8 288.1 L408.0 291.7 L408.8 295.4 L409.0 299.2 L408.6 303.0 L407.5 306.7 L405.8 310.2 L403.5 313.1 L400.6 315.6 L397.5 317.7 L394.2 319.6 L390.8 321.4 L387.4 323.1 L384.0 324.7 L380.6 326.2 L377.2 327.8 L373.8 329.4 L370.3 330.9 L366.9 332.5 L363.4 334.0 L359.9 335.4 L356.3 336.7 L352.8 337.9 L349.2 339.0 L345.6 340.1 L341.9 341.1 L338.3 342.0 L334.6 342.9 L330.9 343.8 L327.2 344.6 L323.5 345.3 L319.8 346.0 L316.1 346.7 L312.3 347.3 L308.6 347.9 L304.9 348.4 L301.1 348.9 L297.4 349.3 L293.6 349.7 L289.9 350.0 L286.1 350.3 L282.3 350.5 L278.6 350.6 L274.8 350.7 L271.0 350.8 L267.2 350.8 L263.5 350.7 L259.7 350.6 L255.9 350.5 L252.1 350.3 L248.4 350.1 L244.6 349.9 L240.8 349.6 L237.1 349.3 L233.3 349.0 L229.6 348.6 L225.8 348.2 L222.1 347.8 L218.3 347.4 L214.6 346.9 L210.8 346.4 L207.1 346.0 L203.3 345.5 L199.6 344.9 L195.8 344.4 L192.1 343.9 L188.4 343.4 L184.6 342.8 L180.9 342.3 L177.1 341.8 L173.4 341.2 L169.7 340.7 L165.9 340.2 L162.2 339.7 L158.4 339.2 L154.7 338.7 L151.0 338.2 L147.2 337.7 L143.5 337.3 L139.7 336.9 L136.0 336.5 L133.0 336.5Z" fill="#ffdd00"/>
<path d="M771.0 217.0 L768.0 217.0 L764.6 217.1 L761.2 217.2 L757.9 217.3 L754.5 217.4 L751.1 217.4 L747.7 217.4 L744.4 217.4 L741.0 217.4 L737.6 217.4 L734.2 217.4 L730.8 217.4 L727.4 217.3 L724.1 217.3 L720.7 217.2 L717.3 217.1 L713.9 217.1 L710.5 217.0 L707.1 216.9 L703.7 216.9 L700.3 216.8 L697.0 216.7 L693.6 216.7 L690.2 216.6 L686.8 216.6 L683.4 216.6 L680.0 216.5 L676.6 216.5 L673.3 216.5 L669.9 216.5 L666.5 216.5 L663.1 216.6 L659.7 216.6 L656.3 216.7 L653.0 216.8 L649.6 216.9 L646.2 217.0 L642.8 217.2 L639.4 217.3 L636.1 217.5 L632.7 217.8 L629.3 218.0 L625.9 218.3 L622.5 218.6 L619.2 219.0 L615.8 219.4 L612.4 219.8 L609.1 220.2 L605.7 220.7 L602.4 221.3 L599.0 221.9 L595.7 222.6 L592.4 223.3 L589.1 224.1 L585.8 225.0 L582.6 226.0 L579.4 227.0 L576.2 228.2 L573.0 229.5 L569.9 230.8 L566.9 232.3 L563.9 233.9 L560.9 235.6 L558.1 237.5 L555.3 239.4 L552.6 241.5 L550.0 243.7 L547.5 246.0 L545.1 248.5 L542.9 251.1 L540.8 253.7 L538.8 256.5 L537.1 259.4 L535.5 262.4 L534.2 265.5 L533.0 268.7 L531.9 271.9 L531.1 275.2 L530.4 278.6 L529.8 281.9 L529.4 285.3 L529.2 288.7 L529.2 292.1 L529.4 295.5 L530.0 298.9 L530.8 302.2 L532.0 305.4 L533.5 308.5 L535.3 311.3 L537.4 313.9 L539.9 316.2 L542.6 318.2 L545.5 320.0 L548.5 321.7 L551.6 323.3 L554.7 324.8 L557.8 326.3 L560.9 327.7 L564.1 329.0 L567.2 330.3 L570.3 331.4 L573.5 332.5 L576.7 333.6 L579.9 334.5 L583.2 335.4 L586.5 336.2 L589.8 336.9 L593.1 337.6 L596.4 338.3 L599.8 338.9 L603.1 339.4 L606.5 339.9 L609.9 340.5 L613.2 340.9 L616.6 341.4 L619.9 341.8 L623.3 342.2 L626.6 342.7 L630.0 343.0 L633.3 343.4 L636.7 343.8 L640.1 344.1 L643.4 344.5 L646.8 344.8 L650.2 345.2 L653.6 345.5 L656.9 345.7 L660.3 346.0 L663.7 346.2 L667.1 346.4 L670.4 346.5 L673.8 346.5 L677.2 346.5 L680.6 346.5 L684.0 346.4 L687.3 346.2 L690.7 346.0 L694.1 345.8 L697.5 345.5 L700.8 345.2 L704.2 344.9 L707.6 344.5 L711.0 344.2 L714.3 343.7 L717.7 343.3 L721.1 342.9 L724.4 342.4 L727.8 341.9 L731.2 341.4 L734.5 341.0 L737.9 340.5 L741.2 340.0 L744.6 339.5 L747.9 339.0 L751.3 338.6 L754.6 338.1 L758.0 337.7 L761.3 337.3 L764.7 336.9 L768.0 336.5 L771.0 336.5Z" fill="#ffdd00"/>
<path d="M133.0 279.0 L136.0 279.0 L139.1 279.3 L142.1 279.4 L145.2 279.3 L148.1 279.0 L151.0 278.5 L153.9 277.9 L156.7 277.2 L159.5 276.3 L162.3 275.3 L165.0 274.2 L167.7 272.9 L170.4 271.6 L173.0 270.2 L175.6 268.7 L178.2 267.1 L180.7 265.5 L183.2 263.9 L185.7 262.2 L188.3 260.6 L190.8 259.1 L193.4 257.8 L196.1 256.5 L198.8 255.5 L201.6 254.7 L204.5 254.1 L207.4 253.7 L210.4 253.4 L213.4 253.2 L216.4 253.2 L219.5 253.3 L222.5 253.4 L225.5 253.6 L228.5 253.8 L231.4 254.1 L234.4 254.4 L237.3 254.8 L240.2 255.2 L243.2 255.6 L246.1 256.1 L249.0 256.5 L251.9 257.0 L254.8 257.5 L257.7 258.0 L260.7 258.6 L263.6 259.1 L266.5 259.7 L269.4 260.2 L272.3 260.8 L275.2 261.4 L278.1 262.0 L281.0 262.7 L283.9 263.3 L286.8 264.0 L289.7 264.7 L292.5 265.4 L295.4 266.1 L298.3 266.7 L301.2 267.3 L304.2 267.9 L307.2 268.4 L310.1 268.9 L313.0 269.5 L315.9 270.2 L318.8 271.0 L321.6 271.9 L324.3 273.1 L326.9 274.4 L329.4 276.0 L331.8 277.7 L334.2 279.4 L336.6 281.3 L338.9 283.1 L341.3 285.0 L343.6 286.8 L345.9 288.6 L348.1 290.6 L350.2 292.8 L352.0 295.2 L353.5 297.9 L354.3 300.7 L354.3 303.6 L353.6 306.6 L352.3 309.3 L350.6 311.8 L348.6 314.0 L346.5 316.0 L344.2 318.0 L341.9 319.8 L339.5 321.5 L337.0 323.2 L334.5 324.8 L331.9 326.3 L329.3 327.7 L326.7 329.0 L324.0 330.2 L321.2 331.3 L318.4 332.3 L315.6 333.2 L312.7 333.9 L309.8 334.6 L306.9 335.2 L304.0 335.8 L301.0 336.2 L298.1 336.7 L295.1 337.0 L292.1 337.3 L289.1 337.6 L286.2 337.8 L283.2 338.0 L280.2 338.2 L277.3 338.3 L274.3 338.4 L271.4 338.5 L268.4 338.6 L265.4 338.6 L262.5 338.6 L259.5 338.6 L256.6 338.6 L253.6 338.6 L250.6 338.5 L247.7 338.4 L244.7 338.3 L241.7 338.2 L238.8 338.1 L235.8 337.9 L232.8 337.7 L229.9 337.5 L226.9 337.2 L224.0 337.0 L221.0 336.7 L218.1 336.4 L215.1 336.0 L212.2 335.6 L209.3 335.2 L206.3 334.8 L203.4 334.3 L200.5 333.9 L197.5 333.4 L194.6 332.9 L191.7 332.4 L188.8 331.8 L185.9 331.3 L182.9 330.8 L180.0 330.2 L177.1 329.7 L174.2 329.2 L171.3 328.7 L168.4 328.2 L165.4 327.7 L162.5 327.2 L159.6 326.7 L156.6 326.3 L153.7 325.9 L150.8 325.5 L147.8 325.1 L144.9 324.8 L141.9 324.5 L139.0 324.2 L136.0 324.0 L133.0 324.0Z" fill="#ffcc00"/>
<path d="M771.0 276.5 L768.0 276.5 L765.5 276.5 L763.0 276.5 L760.5 276.4 L758.1 276.3 L755.6 276.2 L753.1 276.0 L750.6 275.8 L748.2 275.5 L745.7 275.2 L743.2 275.0 L740.7 274.6 L738.3 274.3 L735.8 274.0 L733.4 273.6 L730.9 273.2 L728.4 272.9 L726.0 272.5 L723.5 272.1 L721.0 271.7 L718.6 271.3 L716.1 270.9 L713.7 270.6 L711.2 270.2 L708.7 269.9 L706.3 269.5 L703.8 269.2 L701.3 268.9 L698.9 268.7 L696.4 268.4 L693.9 268.2 L691.4 268.0 L689.0 267.9 L686.5 267.8 L684.0 267.7 L681.5 267.7 L679.0 267.7 L676.5 267.7 L674.0 267.9 L671.5 268.0 L669.0 268.2 L666.5 268.5 L664.0 268.8 L661.5 269.2 L659.0 269.6 L656.5 270.0 L654.0 270.5 L651.5 271.0 L649.1 271.6 L646.6 272.1 L644.2 272.7 L641.8 273.3 L639.4 273.9 L637.0 274.6 L634.7 275.2 L632.4 275.9 L630.2 276.5 L627.9 277.2 L625.7 277.9 L623.5 278.6 L621.3 279.2 L619.1 280.0 L616.9 280.7 L614.6 281.5 L612.3 282.3 L610.0 283.1 L607.6 284.0 L605.1 285.0 L602.5 286.0 L599.8 287.1 L597.0 288.2 L594.2 289.4 L591.4 290.6 L588.7 292.0 L586.2 293.4 L583.9 294.9 L582.0 296.4 L580.6 298.0 L579.7 299.7 L579.4 301.5 L579.8 303.3 L580.7 305.2 L582.2 307.1 L584.1 309.0 L586.2 310.9 L588.5 312.6 L590.9 314.3 L593.3 315.9 L595.7 317.3 L598.0 318.6 L600.2 319.7 L602.5 320.8 L604.7 321.8 L606.9 322.7 L609.1 323.6 L611.3 324.4 L613.5 325.2 L615.8 326.0 L618.1 326.7 L620.4 327.4 L622.8 328.1 L625.2 328.8 L627.6 329.5 L630.0 330.1 L632.4 330.8 L634.9 331.4 L637.3 331.9 L639.8 332.4 L642.3 332.9 L644.7 333.4 L647.2 333.8 L649.7 334.2 L652.1 334.5 L654.6 334.9 L657.1 335.1 L659.5 335.4 L662.0 335.6 L664.5 335.7 L667.0 335.9 L669.4 336.0 L671.9 336.0 L674.4 336.0 L676.8 336.0 L679.3 335.9 L681.8 335.8 L684.3 335.7 L686.7 335.6 L689.2 335.4 L691.7 335.2 L694.2 334.9 L696.6 334.7 L699.1 334.4 L701.6 334.1 L704.1 333.8 L706.5 333.4 L709.0 333.1 L711.5 332.7 L713.9 332.3 L716.4 332.0 L718.9 331.6 L721.4 331.1 L723.8 330.7 L726.3 330.3 L728.8 329.9 L731.2 329.5 L733.7 329.0 L736.1 328.6 L738.6 328.2 L741.1 327.8 L743.5 327.4 L746.0 327.0 L748.4 326.6 L750.9 326.2 L753.3 325.8 L755.8 325.5 L758.2 325.2 L760.7 324.8 L763.1 324.5 L765.6 324.3 L768.0 324.0 L771.0 324.0Z" fill="#ffcc00"/>
<path d="M189.0 302.5 L189.6 300.1 L191.1 297.7 L193.2 295.4 L195.9 293.2 L198.8 291.2 L201.6 289.4 L204.5 288.0 L207.4 286.8 L210.3 285.7 L213.1 284.9 L216.0 284.3 L218.8 283.8 L221.7 283.3 L224.6 283.0 L227.5 282.8 L230.4 282.5 L233.4 282.3 L236.4 282.2 L239.3 282.1 L242.3 282.0 L245.3 282.0 L248.3 282.0 L251.4 282.0 L254.4 282.1 L257.4 282.2 L260.4 282.3 L263.5 282.5 L266.5 282.8 L269.5 283.1 L272.5 283.4 L275.5 283.7 L278.4 284.1 L281.4 284.6 L284.4 285.1 L287.3 285.6 L290.2 286.2 L293.2 286.8 L296.1 287.5 L299.0 288.2 L301.9 289.0 L304.8 289.9 L307.7 290.9 L310.4 292.0 L313.1 293.3 L315.7 294.8 L318.1 296.5 L320.4 298.5 L322.6 300.9 L323.8 303.5 L323.6 306.4 L322.3 309.2 L320.5 311.8 L318.5 314.0 L316.2 315.8 L313.6 317.4 L311.0 318.7 L308.2 319.9 L305.3 320.8 L302.4 321.6 L299.4 322.3 L296.5 323.0 L293.5 323.6 L290.5 324.1 L287.6 324.6 L284.6 325.0 L281.6 325.4 L278.7 325.7 L275.7 325.9 L272.7 326.1 L269.7 326.3 L266.7 326.4 L263.7 326.4 L260.6 326.4 L257.6 326.3 L254.6 326.2 L251.5 326.1 L248.5 325.9 L245.5 325.7 L242.5 325.4 L239.5 325.1 L236.6 324.7 L233.7 324.3 L230.9 323.8 L228.1 323.3 L225.3 322.8 L222.6 322.1 L219.8 321.4 L217.0 320.6 L214.2 319.7 L211.3 318.6 L208.4 317.4 L205.3 316.1 L202.2 314.6 L199.0 312.9 L195.9 311.1 L193.1 309.1 L191.0 307.0 L189.5 304.8 L189.0 302.5Z" fill="#ffbb00"/>
<path d="M646.0 304.6 L646.5 303.0 L647.6 301.4 L649.3 299.9 L651.3 298.6 L653.3 297.4 L655.3 296.3 L657.2 295.4 L659.1 294.6 L660.9 294.0 L662.8 293.4 L664.7 293.0 L666.6 292.6 L668.6 292.3 L670.7 292.0 L672.7 291.9 L674.8 291.8 L676.9 291.8 L679.0 291.8 L681.1 291.9 L683.2 292.1 L685.3 292.3 L687.3 292.6 L689.4 293.0 L691.3 293.3 L693.3 293.8 L695.2 294.2 L697.0 294.7 L698.8 295.3 L700.6 295.9 L702.5 296.5 L704.5 297.2 L706.6 298.0 L708.8 298.8 L711.1 299.8 L713.5 300.8 L715.6 301.8 L717.3 303.0 L718.4 304.3 L718.7 305.6 L718.1 307.0 L716.8 308.4 L715.0 309.8 L712.9 311.2 L710.7 312.4 L708.7 313.6 L706.8 314.6 L704.9 315.5 L703.1 316.3 L701.3 317.0 L699.5 317.7 L697.7 318.3 L695.8 318.9 L693.9 319.4 L691.9 320.0 L689.9 320.4 L687.9 320.8 L685.8 321.1 L683.7 321.4 L681.6 321.5 L679.6 321.5 L677.5 321.4 L675.4 321.2 L673.3 320.9 L671.3 320.5 L669.3 320.0 L667.3 319.5 L665.4 318.8 L663.6 318.2 L661.8 317.4 L660.0 316.6 L658.2 315.7 L656.5 314.7 L654.7 313.6 L652.8 312.4 L651.0 311.0 L649.1 309.5 L647.5 307.9 L646.4 306.2 L646.0 304.6Z" fill="#ffbb00"/>
<path d="M133.0 172.3 L136.0 172.3 L140.1 172.1 L144.2 171.8 L148.3 171.6 L152.4 171.4 L156.5 171.2 L160.6 171.0 L164.7 170.8 L168.8 170.6 L172.9 170.4 L177.0 170.1 L181.1 169.8 L185.2 169.5 L189.3 169.2 L193.4 168.8 L197.4 168.4 L201.5 167.9 L205.6 167.5 L209.7 167.1 L213.8 166.7 L217.9 166.4 L222.0 166.2 L226.1 165.9 L230.2 165.7 L234.3 165.6 L238.4 165.5 L242.5 165.4 L246.6 165.3 L250.7 165.2 L254.8 165.2 L258.9 165.2 L263.1 165.2 L267.2 165.2 L271.3 165.3 L275.4 165.5 L279.5 165.7 L283.6 166.0 L287.6 166.5 L291.7 167.1 L295.7 167.7 L299.7 168.5 L303.8 169.4 L307.7 170.3 L311.7 171.3 L315.7 172.3 L319.7 173.4 L323.7 174.4 L327.7 175.4 L331.7 176.4 L335.7 177.4 L339.7 178.3 L343.7 179.2 L347.7 180.1 L351.7 181.1 L355.7 182.1 L359.6 183.2 L363.6 184.3 L367.5 185.6 L371.3 187.0 L375.1 188.4 L379.0 190.0 L382.7 191.6 L386.5 193.3 L390.2 195.1 L393.9 196.9 L397.6 198.7 L401.2 200.6 L404.9 202.6 L408.5 204.5 L412.1 206.4 L415.8 208.3 L419.4 210.2 L423.1 211.9 L426.9 213.5 L430.7 215.1 L434.6 216.5 L438.5 217.7 L442.5 218.7 L446.5 219.6 L450.6 220.2 L454.7 220.7 L458.9 220.9 L463.1 220.8 L467.2 220.5 L471.3 219.9 L475.4 219.0 L479.3 217.9 L483.1 216.4 L486.8 214.6 L490.3 212.6 L493.7 210.3 L497.0 207.9 L500.3 205.4 L503.5 202.8 L506.8 200.2 L510.0 197.6 L513.3 195.1 L516.6 192.7 L520.1 190.4 L523.7 188.4 L527.3 186.6 L531.1 184.9 L534.9 183.5 L538.8 182.1 L542.8 180.9 L546.8 179.9 L550.8 178.9 L554.9 178.0 L559.0 177.2 L563.0 176.4 L567.1 175.7 L571.2 175.1 L575.2 174.5 L579.3 173.9 L583.4 173.4 L587.5 173.0 L591.5 172.6 L595.6 172.3 L599.7 172.0 L603.8 171.8 L607.9 171.6 L612.0 171.5 L616.1 171.5 L620.2 171.4 L624.3 171.4 L628.4 171.4 L632.5 171.4 L636.6 171.5 L640.7 171.5 L644.9 171.5 L649.0 171.6 L653.1 171.6 L657.2 171.6 L661.3 171.6 L665.4 171.7 L669.5 171.7 L673.6 171.7 L677.7 171.7 L681.8 171.7 L685.9 171.8 L690.0 171.8 L694.1 171.8 L698.2 171.8 L702.3 171.8 L706.4 171.8 L710.5 171.8 L714.6 171.9 L718.7 171.9 L722.8 171.9 L726.9 171.9 L731.0 171.9 L735.1 171.9 L739.2 172.0 L743.3 172.0 L747.5 172.0 L751.6 172.1 L755.7 172.1 L759.8 172.1 L763.9 172.2 L768.0 172.2 L771.0 172.2 L771.0 143.0 L133.0 143.0Z" fill="#eeff00"/>
<path d="M133.0 155.4 L136.0 155.4 L140.0 155.2 L144.0 154.9 L148.1 154.6 L152.1 154.3 L156.1 154.0 L160.1 153.6 L164.1 153.3 L168.1 152.9 L172.1 152.6 L176.2 152.3 L180.2 151.9 L184.2 151.6 L188.2 151.4 L192.2 151.1 L196.2 150.9 L200.3 150.6 L204.3 150.4 L208.3 150.2 L212.3 150.0 L216.4 149.8 L220.4 149.6 L224.4 149.4 L228.4 149.2 L232.5 149.1 L236.5 148.9 L240.5 148.8 L244.5 148.7 L248.6 148.7 L252.6 148.8 L256.6 148.9 L260.6 149.1 L264.7 149.3 L268.7 149.6 L272.7 150.0 L276.7 150.4 L280.7 150.8 L284.7 151.3 L288.7 151.8 L292.7 152.4 L296.7 153.0 L300.7 153.6 L304.6 154.2 L308.6 154.9 L312.6 155.5 L316.6 156.2 L320.5 156.8 L324.5 157.4 L328.5 158.1 L332.5 158.7 L336.5 159.3 L340.5 159.9 L344.5 160.5 L348.4 161.1 L352.4 161.8 L356.4 162.6 L360.3 163.4 L364.2 164.3 L368.1 165.3 L372.0 166.4 L375.8 167.7 L379.6 168.9 L383.4 170.2 L387.2 171.6 L391.0 172.9 L394.8 174.2 L398.7 175.6 L402.5 176.8 L406.3 178.0 L410.2 179.2 L414.1 180.3 L418.0 181.3 L421.9 182.3 L425.8 183.2 L429.8 183.9 L433.7 184.6 L437.7 185.2 L441.8 185.7 L445.8 186.1 L449.8 186.3 L453.8 186.3 L457.9 186.2 L461.9 185.9 L465.9 185.5 L469.9 185.0 L473.9 184.2 L477.8 183.4 L481.8 182.4 L485.6 181.3 L489.5 180.1 L493.3 178.9 L497.1 177.5 L500.9 176.1 L504.6 174.7 L508.4 173.3 L512.2 171.8 L516.0 170.4 L519.8 169.1 L523.6 167.8 L527.4 166.6 L531.3 165.4 L535.2 164.3 L539.1 163.3 L543.0 162.3 L546.9 161.4 L550.9 160.6 L554.8 159.8 L558.8 159.1 L562.8 158.4 L566.8 157.8 L570.8 157.3 L574.8 156.8 L578.8 156.4 L582.8 156.0 L586.8 155.6 L590.8 155.3 L594.8 155.1 L598.9 154.9 L602.9 154.7 L606.9 154.5 L610.9 154.4 L615.0 154.2 L619.0 154.1 L623.0 154.0 L627.0 154.0 L631.1 153.9 L635.1 153.8 L639.1 153.8 L643.2 153.8 L647.2 153.8 L651.2 153.7 L655.2 153.7 L659.3 153.8 L663.3 153.8 L667.3 153.8 L671.3 153.8 L675.4 153.9 L679.4 153.9 L683.4 154.0 L687.5 154.0 L691.5 154.1 L695.5 154.1 L699.5 154.2 L703.6 154.3 L707.6 154.3 L711.6 154.4 L715.6 154.5 L719.7 154.5 L723.7 154.6 L727.7 154.7 L731.8 154.7 L735.8 154.8 L739.8 154.9 L743.8 154.9 L747.9 155.0 L751.9 155.0 L755.9 155.1 L759.9 155.1 L764.0 155.2 L768.0 155.2 L771.0 155.2 L771.0 143.0 L133.0 143.0Z" fill="#ddff00"/>
<path d="M136.0 376.0 L138.0 376.1 L140.0 376.1 L142.0 376.2 L144.0 376.3 L146.0 376.3 L148.0 376.4 L150.0 376.5 L152.0 376.6 L154.0 376.6 L156.0 376.7 L158.0 376.8 L160.0 376.9 L162.0 376.9 L164.0 377.0 L166.0 377.1 L168.0 377.2 L170.0 377.3 L172.0 377.3 L174.0 377.4 L176.0 377.5 L178.0 377.6 L180.0 377.7 L182.0 377.8 L184.0 377.9 L186.0 378.0 L188.0 378.1 L190.0 378.2 L192.0 378.3 L194.0 378.4 L196.0 378.6 L198.0 378.7 L200.0 378.8 L202.0 378.9 L204.0 379.1 L206.0 379.2 L208.0 379.3 L210.0 379.5 L212.0 379.6 L214.0 379.8 L216.0 379.9 L218.0 380.1 L220.0 380.2 L222.0 380.3 L224.0 380.5 L226.0 380.6 L228.0 380.8 L230.0 380.9 L232.0 381.1 L234.0 381.2 L236.0 381.3 L238.0 381.4 L240.0 381.6 L242.0 381.7 L244.0 381.8 L246.0 381.9 L248.0 382.0 L250.0 382.1 L252.0 382.2 L254.0 382.3 L256.0 382.4 L258.0 382.4 L260.0 382.5 L262.0 382.6 L264.0 382.6 L266.0 382.6 L268.0 382.7 L270.0 382.7 L272.0 382.7 L274.0 382.6 L276.0 382.6 L278.0 382.6 L280.0 382.5 L282.0 382.5 L284.0 382.4 L286.0 382.3 L288.0 382.1 L290.0 382.0 L292.0 381.8 L294.0 381.7 L296.0 381.5 L298.0 381.3 L300.0 381.0 L302.0 380.8 L304.0 380.6 L306.0 380.3 L308.0 380.0 L310.0 379.8 L312.0 379.5 L314.0 379.2 L316.0 378.9 L318.0 378.6 L320.0 378.3 L322.0 378.0 L324.0 377.7 L326.0 377.4 L328.0 377.1 L330.0 376.8 L332.0 376.5 L334.0 376.3 L336.0 376.0 L338.0 375.7 L340.0 375.5 L342.0 375.2 L344.0 375.0 L346.0 374.8 L348.0 374.6 L350.0 374.3 L352.0 374.1 L354.0 373.9 L356.0 373.7 L358.0 373.5 L360.0 373.3 L362.0 373.1 L364.0 372.9 L366.0 372.7 L368.0 372.5 L370.0 372.3 L372.0 372.1 L374.0 371.9 L376.0 371.7 L378.0 371.4 L380.0 371.2 L382.0 371.0 L384.0 370.8 L386.0 370.5 L388.0 370.3 L390.0 370.0 L392.0 369.8 L394.0 369.5 L396.0 369.2 L398.0 368.9 L400.0 368.6 L402.0 368.3 L404.0 368.0 L406.0 367.7 L408.0 367.4 L410.0 367.1 L412.0 366.7 L414.0 366.3 L416.0 366.0 L418.0 365.6 L420.0 365.2 L422.0 364.8 L424.0 364.4 L426.0 364.0 L428.0 363.5 L430.0 363.1 L432.0 362.6 L434.0 362.1 L436.0 361.6 L438.0 361.1 L440.0 360.6 L442.0 360.1 L444.0 359.5 L446.0 359.0 L448.0 358.4 L450.0 357.9 L452.0 357.3 L454.0 356.8 L456.0 356.3 L458.0 355.8 L460.0 355.3 L462.0 354.8 L464.0 354.4 L466.0 354.0 L468.0 353.7 L470.0 353.3 L472.0 353.1 L474.0 352.8 L476.0 352.6 L478.0 352.5 L480.0 352.4 L482.0 352.4 L484.0 352.4 L486.0 352.5 L488.0 352.6 L490.0 352.8 L492.0 353.0 L494.0 353.3 L496.0 353.6 L498.0 353.9 L500.0 354.3 L502.0 354.7 L504.0 355.1 L506.0 355.5 L508.0 356.0 L510.0 356.5 L512.0 356.9 L514.0 357.5 L516.0 358.0 L518.0 358.5 L520.0 359.1 L522.0 359.7 L524.0 360.3 L526.0 360.9 L528.0 361.4 L530.0 362.0 L532.0 362.6 L534.0 363.2 L536.0 363.7 L538.0 364.3 L540.0 364.8 L542.0 365.3 L544.0 365.8 L546.0 366.2 L548.0 366.7 L550.0 367.1 L552.0 367.5 L554.0 368.0 L556.0 368.4 L558.0 368.9 L560.0 369.4 L562.0 369.9 L564.0 370.5 L566.0 371.0 L568.0 371.6 L570.0 372.2 L572.0 372.8 L574.0 373.4 L576.0 374.0 L578.0 374.6 L580.0 375.1 L582.0 375.7 L584.0 376.2 L586.0 376.7 L588.0 377.1 L590.0 377.5 L592.0 377.9 L594.0 378.2 L596.0 378.5 L598.0 378.7 L600.0 378.9 L602.0 379.1 L604.0 379.3 L606.0 379.4 L608.0 379.6 L610.0 379.7 L612.0 379.8 L614.0 380.0 L616.0 380.1 L618.0 380.2 L620.0 380.3 L622.0 380.4 L624.0 380.5 L626.0 380.6 L628.0 380.7 L630.0 380.8 L632.0 380.9 L634.0 381.0 L636.0 381.0 L638.0 381.1 L640.0 381.2 L642.0 381.2 L644.0 381.3 L646.0 381.3 L648.0 381.4 L650.0 381.4 L652.0 381.4 L654.0 381.5 L656.0 381.5 L658.0 381.5 L660.0 381.5 L662.0 381.5 L664.0 381.5 L666.0 381.5 L668.0 381.4 L670.0 381.4 L672.0 381.4 L674.0 381.3 L676.0 381.3 L678.0 381.2 L680.0 381.1 L682.0 381.1 L684.0 381.0 L686.0 380.9 L688.0 380.8 L690.0 380.7 L692.0 380.6 L694.0 380.4 L696.0 380.3 L698.0 380.2 L700.0 380.0 L702.0 379.9 L704.0 379.7 L706.0 379.6 L708.0 379.4 L710.0 379.2 L712.0 379.0 L714.0 378.8 L716.0 378.6 L718.0 378.4 L720.0 378.2 L722.0 378.0 L724.0 377.7 L726.0 377.5 L728.0 377.3 L730.0 377.1 L732.0 376.8 L734.0 376.6 L736.0 376.4 L738.0 376.3 L740.0 376.1 L742.0 376.0 L744.0 375.8 L746.0 375.8 L748.0 375.7 L750.0 375.7 L752.0 375.6 L754.0 375.6 L756.0 375.7 L758.0 375.7 L760.0 375.7 L762.0 375.8 L764.0 375.9 L766.0 375.9 L768.0 376.0" fill="none" stroke="#000" stroke-width="1"/>
<path d="M136.0 392.4 L138.0 392.4 L140.0 392.5 L142.0 392.5 L144.0 392.6 L146.0 392.7 L148.0 392.7 L150.0 392.8 L152.0 392.9 L154.0 392.9 L156.0 393.0 L158.0 393.1 L160.0 393.2 L162.0 393.3 L164.0 393.4 L166.0 393.4 L168.0 393.5 L170.0 393.6 L172.0 393.7 L174.0 393.8 L176.0 393.9 L178.0 394.1 L180.0 394.2 L182.0 394.3 L184.0 394.4 L186.0 394.5 L188.0 394.6 L190.0 394.7 L192.0 394.8 L194.0 395.0 L196.0 395.1 L198.0 395.2 L200.0 395.3 L202.0 395.4 L204.0 395.5 L206.0 395.6 L208.0 395.8 L210.0 395.9 L212.0 396.0 L214.0 396.1 L216.0 396.2 L218.0 396.3 L220.0 396.4 L222.0 396.5 L224.0 396.6 L226.0 396.7 L228.0 396.8 L230.0 396.9 L232.0 397.0 L234.0 397.1 L236.0 397.2 L238.0 397.3 L240.0 397.4 L242.0 397.5 L244.0 397.6 L246.0 397.7 L248.0 397.7 L250.0 397.8 L252.0 397.9 L254.0 397.9 L256.0 398.0 L258.0 398.0 L260.0 398.1 L262.0 398.1 L264.0 398.2 L266.0 398.2 L268.0 398.3 L270.0 398.3 L272.0 398.3 L274.0 398.3 L276.0 398.3 L278.0 398.3 L280.0 398.3 L282.0 398.2 L284.0 398.2 L286.0 398.1 L288.0 398.1 L290.0 398.0 L292.0 397.9 L294.0 397.8 L296.0 397.7 L298.0 397.6 L300.0 397.4 L302.0 397.3 L304.0 397.1 L306.0 397.0 L308.0 396.8 L310.0 396.6 L312.0 396.4 L314.0 396.2 L316.0 396.1 L318.0 395.9 L320.0 395.7 L322.0 395.5 L324.0 395.3 L326.0 395.1 L328.0 394.9 L330.0 394.7 L332.0 394.5 L334.0 394.4 L336.0 394.2" fill="none" stroke="#000" stroke-width="2"/>
<path d="M378.0 391.3 L380.0 391.2 L382.0 391.0 L384.0 390.8 L386.0 390.7 L388.0 390.5 L390.0 390.3 L392.0 390.1 L394.0 389.9 L396.0 389.7 L398.0 389.5 L400.0 389.3 L402.0 389.1 L404.0 388.9 L406.0 388.6 L408.0 388.4 L410.0 388.2 L412.0 387.9 L414.0 387.6 L416.0 387.4 L418.0 387.1 L420.0 386.8 L422.0 386.5 L424.0 386.2 L426.0 385.9 L428.0 385.6 L430.0 385.3 L432.0 384.9 L434.0 384.6 L436.0 384.3 L438.0 383.9 L440.0 383.6 L442.0 383.3 L444.0 382.9 L446.0 382.6 L448.0 382.3 L450.0 382.0 L452.0 381.7 L454.0 381.3 L456.0 381.1 L458.0 380.8 L460.0 380.5 L462.0 380.2 L464.0 380.0 L466.0 379.8 L468.0 379.6 L470.0 379.4 L472.0 379.2 L474.0 379.1 L476.0 379.0 L478.0 378.9 L480.0 378.8 L482.0 378.8 L484.0 378.8 L486.0 378.8 L488.0 378.9 L490.0 379.0 L492.0 379.1 L494.0 379.2 L496.0 379.3 L498.0 379.5 L500.0 379.7 L502.0 379.9 L504.0 380.1 L506.0 380.3 L508.0 380.6 L510.0 380.8 L512.0 381.1 L514.0 381.4 L516.0 381.7 L518.0 382.1 L520.0 382.4 L522.0 382.8 L524.0 383.1 L526.0 383.5 L528.0 383.9 L530.0 384.3 L532.0 384.7 L534.0 385.2 L536.0 385.6 L538.0 386.0 L540.0 386.4 L542.0 386.8 L544.0 387.2 L546.0 387.6 L548.0 388.0 L550.0 388.4 L552.0 388.7 L554.0 389.1 L556.0 389.5 L558.0 389.8 L560.0 390.2 L562.0 390.6 L564.0 390.9 L566.0 391.3 L568.0 391.6 L570.0 391.9 L572.0 392.3 L574.0 392.6 L576.0 392.9 L578.0 393.2 L580.0 393.5 L582.0 393.8 L584.0 394.1 L586.0 394.4 L588.0 394.6 L590.0 394.9 L592.0 395.1 L594.0 395.4 L596.0 395.6 L598.0 395.8 L600.0 396.0 L602.0 396.2 L604.0 396.3 L606.0 396.5 L608.0 396.7 L610.0 396.8 L612.0 396.9 L614.0 397.1 L616.0 397.2 L618.0 397.3 L620.0 397.4 L622.0 397.5 L624.0 397.6 L626.0 397.7 L628.0 397.8 L630.0 397.9 L632.0 397.9 L634.0 398.0 L636.0 398.0 L638.0 398.1 L640.0 398.1 L642.0 398.2 L644.0 398.2 L646.0 398.2 L648.0 398.2 L650.0 398.2 L652.0 398.2 L654.0 398.2 L656.0 398.2 L658.0 398.2 L660.0 398.2 L662.0 398.2 L664.0 398.2 L666.0 398.2 L668.0 398.1 L670.0 398.1 L672.0 398.1 L674.0 398.0 L676.0 398.0 L678.0 397.9 L680.0 397.9 L682.0 397.8 L684.0 397.7 L686.0 397.7 L688.0 397.6 L690.0 397.5 L692.0 397.4 L694.0 397.3 L696.0 397.2 L698.0 397.1 L700.0 397.0 L702.0 396.8 L704.0 396.7 L706.0 396.6 L708.0 396.4 L710.0 396.3 L712.0 396.1 L714.0 395.9 L716.0 395.7 L718.0 395.5 L720.0 395.3 L722.0 395.1 L724.0 394.9 L726.0 394.6 L728.0 394.4 L730.0 394.2 L732.0 393.9 L734.0 393.7 L736.0 393.5 L738.0 393.3 L740.0 393.1 L742.0 392.9 L744.0 392.8 L746.0 392.6 L748.0 392.5 L750.0 392.5 L752.0 392.4 L754.0 392.3 L756.0 392.3 L758.0 392.3 L760.0 392.3 L762.0 392.3 L764.0 392.3 L766.0 392.4 L768.0 392.4" fill="none" stroke="#000" stroke-width="2"/>
<path d="M136.0 407.4 L138.0 407.4 L140.0 407.5 L142.0 407.6 L144.0 407.6 L146.0 407.7 L148.0 407.8 L150.0 407.8 L152.0 407.9 L154.0 408.0 L156.0 408.1 L158.0 408.1 L160.0 408.2 L162.0 408.3 L164.0 408.4 L166.0 408.5 L168.0 408.6 L170.0 408.7 L172.0 408.8 L174.0 408.9 L176.0 409.0 L178.0 409.1 L180.0 409.2 L182.0 409.3 L184.0 409.4 L186.0 409.5 L188.0 409.6 L190.0 409.7 L192.0 409.8 L194.0 410.0 L196.0 410.1 L198.0 410.2 L200.0 410.3 L202.0 410.4 L204.0 410.5 L206.0 410.6 L208.0 410.8 L210.0 410.9 L212.0 411.0 L214.0 411.1 L216.0 411.2 L218.0 411.3 L220.0 411.4 L222.0 411.5 L224.0 411.6 L226.0 411.7 L228.0 411.8 L230.0 411.9 L232.0 412.0 L234.0 412.1 L236.0 412.2 L238.0 412.3 L240.0 412.4 L242.0 412.4 L244.0 412.5 L246.0 412.6 L248.0 412.6 L250.0 412.7 L252.0 412.8 L254.0 412.8 L256.0 412.8 L258.0 412.9 L260.0 412.9 L262.0 412.9 L264.0 412.9 L266.0 412.9 L268.0 412.9 L270.0 412.9 L272.0 412.9 L274.0 412.9 L276.0 412.9 L278.0 412.9 L280.0 412.8 L282.0 412.8 L284.0 412.8 L286.0 412.7 L288.0 412.7 L290.0 412.6 L292.0 412.5 L294.0 412.5 L296.0 412.4 L298.0 412.3 L300.0 412.2 L302.0 412.2 L304.0 412.1 L306.0 412.0 L308.0 411.9 L310.0 411.8 L312.0 411.7 L314.0 411.6 L316.0 411.5 L318.0 411.4 L320.0 411.2 L322.0 411.1 L324.0 411.0 L326.0 410.9 L328.0 410.8 L330.0 410.7 L332.0 410.5 L334.0 410.4 L336.0 410.3 L338.0 410.2 L340.0 410.1 L342.0 409.9 L344.0 409.8 L346.0 409.7 L348.0 409.6 L350.0 409.4 L352.0 409.3 L354.0 409.2 L356.0 409.0 L358.0 408.9 L360.0 408.8 L362.0 408.6 L364.0 408.5 L366.0 408.3 L368.0 408.2 L370.0 408.0 L372.0 407.9 L374.0 407.7 L376.0 407.5 L378.0 407.4 L380.0 407.2 L382.0 407.0 L384.0 406.8 L386.0 406.6 L388.0 406.4 L390.0 406.2 L392.0 406.0 L394.0 405.8 L396.0 405.6 L398.0 405.4 L400.0 405.2 L402.0 405.0 L404.0 404.8 L406.0 404.5 L408.0 404.3 L410.0 404.1 L412.0 403.9 L414.0 403.7 L416.0 403.5 L418.0 403.3 L420.0 403.1 L422.0 402.9 L424.0 402.7 L426.0 402.5 L428.0 402.3 L430.0 402.2 L432.0 402.0 L434.0 401.8 L436.0 401.6 L438.0 401.4 L440.0 401.2 L442.0 401.0 L444.0 400.8 L446.0 400.6 L448.0 400.4 L450.0 400.2 L452.0 400.0 L454.0 399.8 L456.0 399.6 L458.0 399.4 L460.0 399.2 L462.0 399.0 L464.0 398.8 L466.0 398.7 L468.0 398.5 L470.0 398.4 L472.0 398.3 L474.0 398.2 L476.0 398.1 L478.0 398.0 L480.0 397.9 L482.0 397.9 L484.0 397.9 L486.0 397.9 L488.0 397.9 L490.0 397.9 L492.0 398.0 L494.0 398.0 L496.0 398.1 L498.0 398.2 L500.0 398.3 L502.0 398.4 L504.0 398.6 L506.0 398.7 L508.0 398.9 L510.0 399.0 L512.0 399.2 L514.0 399.4 L516.0 399.7 L518.0 399.9 L520.0 400.2 L522.0 400.5 L524.0 400.8 L526.0 401.1 L528.0 401.5 L530.0 401.8 L532.0 402.2 L534.0 402.5 L536.0 402.9 L538.0 403.3 L540.0 403.6 L542.0 403.9 L544.0 404.3 L546.0 404.6 L548.0 404.9 L550.0 405.2 L552.0 405.4 L554.0 405.7 L556.0 406.0 L558.0 406.2 L560.0 406.5 L562.0 406.8 L564.0 407.0 L566.0 407.2 L568.0 407.5 L570.0 407.7 L572.0 407.9 L574.0 408.2 L576.0 408.4 L578.0 408.6 L580.0 408.8 L582.0 409.0 L584.0 409.2 L586.0 409.4 L588.0 409.5 L590.0 409.7 L592.0 409.9 L594.0 410.0 L596.0 410.2 L598.0 410.3 L600.0 410.4 L602.0 410.5 L604.0 410.7 L606.0 410.8 L608.0 410.9 L610.0 411.0 L612.0 411.1 L614.0 411.2 L616.0 411.3 L618.0 411.4 L620.0 411.5 L622.0 411.6 L624.0 411.7 L626.0 411.7 L628.0 411.8 L630.0 411.9 L632.0 412.0 L634.0 412.0 L636.0 412.1 L638.0 412.2 L640.0 412.2 L642.0 412.3 L644.0 412.3 L646.0 412.3 L648.0 412.4 L650.0 412.4 L652.0 412.4 L654.0 412.4 L656.0 412.5 L658.0 412.5 L660.0 412.5 L662.0 412.5 L664.0 412.5 L666.0 412.4 L668.0 412.4 L670.0 412.4 L672.0 412.4 L674.0 412.3 L676.0 412.3 L678.0 412.2 L680.0 412.2 L682.0 412.1 L684.0 412.1 L686.0 412.0 L688.0 411.9 L690.0 411.8 L692.0 411.7 L694.0 411.6 L696.0 411.5 L698.0 411.4 L700.0 411.3 L702.0 411.1 L704.0 411.0 L706.0 410.9 L708.0 410.7 L710.0 410.6 L712.0 410.4 L714.0 410.2 L716.0 410.1 L718.0 409.9 L720.0 409.7 L722.0 409.5 L724.0 409.3 L726.0 409.1 L728.0 408.9 L730.0 408.7 L732.0 408.5 L734.0 408.3 L736.0 408.1 L738.0 408.0 L740.0 407.8 L742.0 407.7 L744.0 407.6 L746.0 407.5 L748.0 407.4 L750.0 407.3 L752.0 407.3 L754.0 407.2 L756.0 407.2 L758.0 407.2 L760.0 407.3 L762.0 407.3 L764.0 407.3 L766.0 407.4 L768.0 407.4" fill="none" stroke="#000" stroke-width="1"/>
<path d="M136.0 419.9 L138.0 419.9 L140.0 419.9 L142.0 420.0 L144.0 420.0 L146.0 420.0 L148.0 420.1 L150.0 420.1 L152.0 420.2 L154.0 420.2 L156.0 420.3 L158.0 420.3 L160.0 420.4 L162.0 420.5 L164.0 420.6 L166.0 420.6 L168.0 420.7 L170.0 420.8 L172.0 420.9 L174.0 421.0 L176.0 421.1 L178.0 421.2 L180.0 421.3 L182.0 421.4 L184.0 421.5 L186.0 421.7 L188.0 421.8 L190.0 421.9 L192.0 422.0 L194.0 422.1 L196.0 422.3 L198.0 422.4 L200.0 422.5 L202.0 422.6 L204.0 422.8 L206.0 422.9 L208.0 423.0 L210.0 423.1 L212.0 423.3 L214.0 423.4 L216.0 423.5 L218.0 423.6 L220.0 423.8 L222.0 423.9 L224.0 424.0 L226.0 424.1 L228.0 424.2 L230.0 424.4 L232.0 424.5 L234.0 424.6 L236.0 424.7 L238.0 424.8 L240.0 424.9 L242.0 425.0 L244.0 425.1 L246.0 425.2 L248.0 425.3 L250.0 425.4 L252.0 425.4 L254.0 425.5 L256.0 425.6 L258.0 425.6 L260.0 425.7 L262.0 425.8 L264.0 425.8 L266.0 425.8 L268.0 425.9 L270.0 425.9 L272.0 425.9 L274.0 425.9 L276.0 425.9 L278.0 425.9 L280.0 425.9 L282.0 425.9 L284.0 425.9 L286.0 425.8 L288.0 425.8 L290.0 425.7 L292.0 425.6 L294.0 425.5 L296.0 425.5 L298.0 425.3 L300.0 425.2 L302.0 425.1 L304.0 425.0 L306.0 424.9 L308.0 424.7 L310.0 424.6 L312.0 424.4 L314.0 424.3 L316.0 424.1 L318.0 424.0 L320.0 423.8 L322.0 423.6 L324.0 423.5 L326.0 423.3 L328.0 423.1 L330.0 423.0 L332.0 422.8 L334.0 422.7 L336.0 422.5" fill="none" stroke="#000" stroke-width="2"/>
<path d="M380.0 419.6 L382.0 419.5 L384.0 419.4 L386.0 419.3 L388.0 419.2 L390.0 419.1 L392.0 419.0 L394.0 418.9 L396.0 418.8 L398.0 418.6 L400.0 418.5 L402.0 418.4 L404.0 418.3 L406.0 418.2 L408.0 418.1 L410.0 418.0 L412.0 417.9 L414.0 417.8 L416.0 417.6 L418.0 417.5 L420.0 417.4 L422.0 417.3 L424.0 417.1 L426.0 417.0 L428.0 416.9 L430.0 416.7 L432.0 416.6 L434.0 416.4 L436.0 416.3 L438.0 416.1 L440.0 415.9 L442.0 415.7 L444.0 415.5 L446.0 415.3 L448.0 415.1 L450.0 414.9 L452.0 414.7 L454.0 414.6 L456.0 414.4 L458.0 414.2 L460.0 414.1 L462.0 414.0 L464.0 413.9 L466.0 413.8 L468.0 413.7 L470.0 413.7 L472.0 413.7 L474.0 413.6 L476.0 413.6 L478.0 413.6 L480.0 413.6 L482.0 413.6 L484.0 413.6 L486.0 413.6 L488.0 413.6 L490.0 413.6 L492.0 413.6 L494.0 413.7 L496.0 413.7 L498.0 413.7 L500.0 413.8 L502.0 413.9 L504.0 413.9 L506.0 414.0 L508.0 414.1 L510.0 414.2 L512.0 414.4 L514.0 414.5 L516.0 414.7 L518.0 414.9 L520.0 415.1 L522.0 415.3 L524.0 415.6 L526.0 415.9 L528.0 416.1 L530.0 416.4 L532.0 416.7 L534.0 417.0 L536.0 417.4 L538.0 417.7 L540.0 418.0 L542.0 418.3 L544.0 418.6 L546.0 418.9 L548.0 419.2 L550.0 419.5 L552.0 419.8 L554.0 420.1 L556.0 420.4 L558.0 420.7 L560.0 421.0 L562.0 421.3 L564.0 421.6 L566.0 421.8 L568.0 422.1 L570.0 422.3 L572.0 422.6 L574.0 422.8 L576.0 423.0 L578.0 423.2 L580.0 423.4 L582.0 423.6 L584.0 423.8 L586.0 423.9 L588.0 424.1 L590.0 424.2 L592.0 424.3 L594.0 424.4 L596.0 424.5 L598.0 424.5 L600.0 424.6 L602.0 424.6 L604.0 424.7 L606.0 424.7 L608.0 424.8 L610.0 424.8 L612.0 424.8 L614.0 424.9 L616.0 424.9 L618.0 425.0 L620.0 425.0 L622.0 425.1 L624.0 425.1 L626.0 425.2 L628.0 425.3 L630.0 425.3 L632.0 425.4 L634.0 425.4 L636.0 425.5 L638.0 425.5 L640.0 425.6 L642.0 425.6 L644.0 425.6 L646.0 425.7 L648.0 425.7 L650.0 425.7 L652.0 425.8 L654.0 425.8 L656.0 425.8 L658.0 425.8 L660.0 425.8 L662.0 425.8 L664.0 425.8 L666.0 425.8 L668.0 425.7 L670.0 425.7 L672.0 425.7 L674.0 425.6 L676.0 425.5 L678.0 425.5 L680.0 425.4 L682.0 425.3 L684.0 425.2 L686.0 425.1 L688.0 425.0 L690.0 424.9 L692.0 424.7 L694.0 424.6 L696.0 424.5 L698.0 424.3 L700.0 424.2 L702.0 424.0 L704.0 423.9 L706.0 423.7 L708.0 423.6 L710.0 423.4 L712.0 423.2 L714.0 423.0 L716.0 422.9 L718.0 422.7 L720.0 422.5 L722.0 422.3 L724.0 422.1 L726.0 421.9 L728.0 421.7 L730.0 421.6 L732.0 421.4 L734.0 421.2 L736.0 421.0 L738.0 420.9 L740.0 420.7 L742.0 420.6 L744.0 420.5 L746.0 420.3 L748.0 420.2 L750.0 420.2 L752.0 420.1 L754.0 420.0 L756.0 420.0 L758.0 419.9 L760.0 419.9 L762.0 419.9 L764.0 419.9 L766.0 419.9 L768.0 419.9" fill="none" stroke="#000" stroke-width="2"/>
<path d="M136.0 433.1 L138.0 433.1 L140.0 433.1 L142.0 433.1 L144.0 433.1 L146.0 433.1 L148.0 433.2 L150.0 433.2 L152.0 433.3 L154.0 433.3 L156.0 433.4 L158.0 433.5 L160.0 433.6 L162.0 433.7 L164.0 433.8 L166.0 433.9 L168.0 434.0 L170.0 434.2 L172.0 434.3 L174.0 434.4 L176.0 434.6 L178.0 434.7 L180.0 434.9 L182.0 435.0 L184.0 435.2 L186.0 435.3 L188.0 435.5 L190.0 435.6 L192.0 435.8 L194.0 435.9 L196.0 436.1 L198.0 436.2 L200.0 436.4 L202.0 436.5 L204.0 436.7 L206.0 436.8 L208.0 437.0 L210.0 437.1 L212.0 437.3 L214.0 437.4 L216.0 437.5 L218.0 437.6 L220.0 437.8 L222.0 437.9 L224.0 438.0 L226.0 438.1 L228.0 438.2 L230.0 438.3 L232.0 438.4 L234.0 438.5 L236.0 438.6 L238.0 438.7 L240.0 438.8 L242.0 438.9 L244.0 439.0 L246.0 439.0 L248.0 439.1 L250.0 439.2 L252.0 439.2 L254.0 439.3 L256.0 439.3 L258.0 439.4 L260.0 439.4 L262.0 439.4 L264.0 439.5 L266.0 439.5 L268.0 439.5 L270.0 439.5 L272.0 439.5 L274.0 439.5 L276.0 439.5 L278.0 439.5 L280.0 439.4 L282.0 439.4 L284.0 439.4 L286.0 439.3 L288.0 439.3 L290.0 439.2 L292.0 439.1 L294.0 439.0 L296.0 439.0 L298.0 438.9 L300.0 438.8 L302.0 438.6 L304.0 438.5 L306.0 438.4 L308.0 438.3 L310.0 438.2 L312.0 438.0 L314.0 437.9 L316.0 437.7 L318.0 437.6 L320.0 437.5 L322.0 437.3 L324.0 437.2 L326.0 437.1 L328.0 436.9 L330.0 436.8 L332.0 436.7 L334.0 436.5 L336.0 436.4 L338.0 436.3 L340.0 436.2 L342.0 436.0 L344.0 435.9 L346.0 435.8 L348.0 435.7 L350.0 435.6 L352.0 435.5 L354.0 435.4 L356.0 435.3 L358.0 435.2 L360.0 435.1 L362.0 435.0 L364.0 434.9 L366.0 434.8 L368.0 434.7 L370.0 434.6 L372.0 434.5 L374.0 434.4 L376.0 434.3 L378.0 434.1 L380.0 434.0 L382.0 433.9 L384.0 433.8 L386.0 433.6 L388.0 433.5 L390.0 433.4 L392.0 433.2 L394.0 433.1 L396.0 432.9 L398.0 432.8 L400.0 432.6 L402.0 432.5 L404.0 432.4 L406.0 432.2 L408.0 432.1 L410.0 431.9 L412.0 431.8 L414.0 431.7 L416.0 431.5 L418.0 431.4 L420.0 431.3 L422.0 431.2 L424.0 431.1 L426.0 431.0 L428.0 430.9 L430.0 430.8 L432.0 430.7 L434.0 430.5 L436.0 430.4 L438.0 430.3 L440.0 430.2 L442.0 430.1 L444.0 429.9 L446.0 429.8 L448.0 429.7 L450.0 429.5 L452.0 429.4 L454.0 429.3 L456.0 429.1 L458.0 429.0 L460.0 428.9 L462.0 428.8 L464.0 428.7 L466.0 428.6 L468.0 428.5 L470.0 428.5 L472.0 428.4 L474.0 428.4 L476.0 428.3 L478.0 428.3 L480.0 428.3 L482.0 428.3 L484.0 428.3 L486.0 428.3 L488.0 428.4 L490.0 428.4 L492.0 428.4 L494.0 428.5 L496.0 428.6 L498.0 428.6 L500.0 428.7 L502.0 428.8 L504.0 428.9 L506.0 429.0 L508.0 429.1 L510.0 429.2 L512.0 429.3 L514.0 429.4 L516.0 429.5 L518.0 429.7 L520.0 429.8 L522.0 429.9 L524.0 430.1 L526.0 430.3 L528.0 430.4 L530.0 430.6 L532.0 430.8 L534.0 431.0 L536.0 431.2 L538.0 431.5 L540.0 431.7 L542.0 432.0 L544.0 432.2 L546.0 432.5 L548.0 432.8 L550.0 433.1 L552.0 433.4 L554.0 433.6 L556.0 433.9 L558.0 434.2 L560.0 434.5 L562.0 434.8 L564.0 435.0 L566.0 435.3 L568.0 435.5 L570.0 435.8 L572.0 436.0 L574.0 436.2 L576.0 436.5 L578.0 436.7 L580.0 436.9 L582.0 437.0 L584.0 437.2 L586.0 437.4 L588.0 437.5 L590.0 437.7 L592.0 437.8 L594.0 438.0 L596.0 438.1 L598.0 438.2 L600.0 438.3 L602.0 438.4 L604.0 438.5 L606.0 438.6 L608.0 438.7 L610.0 438.8 L612.0 438.9 L614.0 439.0 L616.0 439.1 L618.0 439.1 L620.0 439.2 L622.0 439.3 L624.0 439.4 L626.0 439.4 L628.0 439.5 L630.0 439.5 L632.0 439.6 L634.0 439.7 L636.0 439.7 L638.0 439.8 L640.0 439.8 L642.0 439.8 L644.0 439.9 L646.0 439.9 L648.0 439.9 L650.0 440.0 L652.0 440.0 L654.0 440.0 L656.0 440.0 L658.0 440.0 L660.0 440.0 L662.0 440.0 L664.0 440.0 L666.0 440.0 L668.0 439.9 L670.0 439.9 L672.0 439.9 L674.0 439.8 L676.0 439.8 L678.0 439.7 L680.0 439.7 L682.0 439.6 L684.0 439.5 L686.0 439.4 L688.0 439.4 L690.0 439.3 L692.0 439.2 L694.0 439.1 L696.0 438.9 L698.0 438.8 L700.0 438.7 L702.0 438.6 L704.0 438.4 L706.0 438.3 L708.0 438.1 L710.0 437.9 L712.0 437.8 L714.0 437.6 L716.0 437.4 L718.0 437.2 L720.0 437.0 L722.0 436.8 L724.0 436.6 L726.0 436.3 L728.0 436.1 L730.0 435.9 L732.0 435.7 L734.0 435.4 L736.0 435.2 L738.0 435.0 L740.0 434.8 L742.0 434.6 L744.0 434.4 L746.0 434.2 L748.0 434.0 L750.0 433.9 L752.0 433.8 L754.0 433.6 L756.0 433.5 L758.0 433.4 L760.0 433.3 L762.0 433.2 L764.0 433.2 L766.0 433.1 L768.0 433.1" fill="none" stroke="#000" stroke-width="1" stroke-dasharray="6.2 4.7"/>
<path d="M136.0 447.1 L138.0 447.2 L140.0 447.2 L142.0 447.3 L144.0 447.3 L146.0 447.4 L148.0 447.4 L150.0 447.5 L152.0 447.5 L154.0 447.6 L156.0 447.7 L158.0 447.8 L160.0 447.9 L162.0 448.0 L164.0 448.1 L166.0 448.2 L168.0 448.3 L170.0 448.4 L172.0 448.5 L174.0 448.6 L176.0 448.7 L178.0 448.9 L180.0 449.0 L182.0 449.1 L184.0 449.2 L186.0 449.4 L188.0 449.5 L190.0 449.6 L192.0 449.8 L194.0 449.9 L196.0 450.0 L198.0 450.2 L200.0 450.3 L202.0 450.4 L204.0 450.6 L206.0 450.7 L208.0 450.8 L210.0 451.0 L212.0 451.1 L214.0 451.2 L216.0 451.3 L218.0 451.5 L220.0 451.6 L222.0 451.7 L224.0 451.8 L226.0 451.9 L228.0 452.0 L230.0 452.1 L232.0 452.2 L234.0 452.3 L236.0 452.4 L238.0 452.5 L240.0 452.6 L242.0 452.7 L244.0 452.7 L246.0 452.8 L248.0 452.9 L250.0 452.9 L252.0 453.0 L254.0 453.0 L256.0 453.1 L258.0 453.1 L260.0 453.1 L262.0 453.1 L264.0 453.1 L266.0 453.1 L268.0 453.1 L270.0 453.1 L272.0 453.1 L274.0 453.0 L276.0 453.0 L278.0 453.0 L280.0 452.9 L282.0 452.9 L284.0 452.8 L286.0 452.7 L288.0 452.7 L290.0 452.6 L292.0 452.5 L294.0 452.4 L296.0 452.4 L298.0 452.3 L300.0 452.2 L302.0 452.1 L304.0 452.0 L306.0 451.9 L308.0 451.8 L310.0 451.6 L312.0 451.5 L314.0 451.4 L316.0 451.3 L318.0 451.2 L320.0 451.0 L322.0 450.9 L324.0 450.8 L326.0 450.6 L328.0 450.5 L330.0 450.3 L332.0 450.2 L334.0 450.0 L336.0 449.9 L338.0 449.7 L340.0 449.6 L342.0 449.4" fill="none" stroke="#000" stroke-width="2" stroke-dasharray="7.4 3.5"/>
<path d="M394.0 445.9 L396.0 445.8 L398.0 445.7 L400.0 445.6 L402.0 445.5 L404.0 445.4 L406.0 445.3 L408.0 445.2 L410.0 445.1 L412.0 445.1 L414.0 445.0 L416.0 444.9 L418.0 444.8 L420.0 444.7 L422.0 444.6 L424.0 444.5 L426.0 444.4 L428.0 444.3 L430.0 444.2 L432.0 444.1 L434.0 444.0 L436.0 443.9 L438.0 443.7 L440.0 443.6 L442.0 443.5 L444.0 443.3 L446.0 443.1 L448.0 443.0 L450.0 442.8 L452.0 442.7 L454.0 442.5 L456.0 442.4 L458.0 442.3 L460.0 442.2 L462.0 442.1 L464.0 442.0 L466.0 442.0 L468.0 442.0 L470.0 441.9 L472.0 441.9 L474.0 441.9 L476.0 441.9 L478.0 441.9 L480.0 441.9 L482.0 441.9 L484.0 441.9 L486.0 441.9 L488.0 441.9 L490.0 441.9 L492.0 442.0 L494.0 442.0 L496.0 442.1 L498.0 442.1 L500.0 442.2 L502.0 442.3 L504.0 442.4 L506.0 442.5 L508.0 442.7 L510.0 442.8 L512.0 443.0 L514.0 443.1 L516.0 443.3 L518.0 443.5 L520.0 443.6 L522.0 443.7 L524.0 443.9 L526.0 444.0 L528.0 444.1 L530.0 444.3 L532.0 444.4 L534.0 444.6 L536.0 444.7 L538.0 444.9 L540.0 445.1 L542.0 445.3 L544.0 445.6 L546.0 445.8 L548.0 446.1 L550.0 446.3 L552.0 446.6 L554.0 446.9 L556.0 447.1 L558.0 447.4 L560.0 447.6 L562.0 447.8 L564.0 448.0 L566.0 448.2 L568.0 448.4 L570.0 448.6 L572.0 448.8 L574.0 448.9 L576.0 449.1 L578.0 449.2 L580.0 449.4 L582.0 449.6 L584.0 449.7 L586.0 449.9 L588.0 450.1 L590.0 450.3 L592.0 450.5 L594.0 450.7 L596.0 451.0 L598.0 451.2 L600.0 451.4 L602.0 451.6 L604.0 451.9 L606.0 452.1 L608.0 452.3 L610.0 452.5 L612.0 452.7 L614.0 452.9 L616.0 453.0 L618.0 453.2 L620.0 453.3 L622.0 453.4 L624.0 453.5 L626.0 453.6 L628.0 453.7 L630.0 453.8 L632.0 453.8 L634.0 453.9 L636.0 453.9 L638.0 454.0 L640.0 454.0 L642.0 454.0 L644.0 454.1 L646.0 454.1 L648.0 454.1 L650.0 454.1 L652.0 454.1 L654.0 454.0 L656.0 454.0 L658.0 454.0 L660.0 454.0 L662.0 453.9 L664.0 453.9 L666.0 453.9 L668.0 453.8 L670.0 453.8 L672.0 453.8 L674.0 453.7 L676.0 453.7 L678.0 453.6 L680.0 453.6 L682.0 453.5 L684.0 453.5 L686.0 453.4 L688.0 453.3 L690.0 453.3 L692.0 453.2 L694.0 453.1 L696.0 453.0 L698.0 452.9 L700.0 452.8 L702.0 452.7 L704.0 452.5 L706.0 452.4 L708.0 452.2 L710.0 452.1 L712.0 451.9 L714.0 451.7 L716.0 451.5 L718.0 451.2 L720.0 451.0 L722.0 450.7 L724.0 450.5 L726.0 450.2 L728.0 449.9 L730.0 449.6 L732.0 449.4 L734.0 449.1 L736.0 448.8 L738.0 448.6 L740.0 448.3 L742.0 448.1 L744.0 447.9 L746.0 447.7 L748.0 447.6 L750.0 447.4 L752.0 447.3 L754.0 447.3 L756.0 447.2 L758.0 447.2 L760.0 447.1 L762.0 447.1 L764.0 447.1 L766.0 447.1 L768.0 447.1" fill="none" stroke="#000" stroke-width="2" stroke-dasharray="7.4 3.5"/>
<path d="M136.0 461.0 L138.0 461.2 L140.0 461.4 L142.0 461.5 L144.0 461.7 L146.0 461.9 L148.0 462.1 L150.0 462.2 L152.0 462.4 L154.0 462.6 L156.0 462.7 L158.0 462.9 L160.0 463.1 L162.0 463.2 L164.0 463.4 L166.0 463.6 L168.0 463.7 L170.0 463.9 L172.0 464.0 L174.0 464.2 L176.0 464.3 L178.0 464.5 L180.0 464.6 L182.0 464.8 L184.0 464.9 L186.0 465.1 L188.0 465.2 L190.0 465.4 L192.0 465.5 L194.0 465.6 L196.0 465.8 L198.0 465.9 L200.0 466.0 L202.0 466.1 L204.0 466.2 L206.0 466.4 L208.0 466.5 L210.0 466.6 L212.0 466.7 L214.0 466.8 L216.0 466.9 L218.0 467.0 L220.0 467.1 L222.0 467.1 L224.0 467.2 L226.0 467.3 L228.0 467.4 L230.0 467.5 L232.0 467.5 L234.0 467.6 L236.0 467.6 L238.0 467.7 L240.0 467.7 L242.0 467.8 L244.0 467.8 L246.0 467.9 L248.0 467.9 L250.0 467.9 L252.0 468.0 L254.0 468.0 L256.0 468.0 L258.0 468.0 L260.0 468.0 L262.0 468.0 L264.0 468.0 L266.0 468.0 L268.0 468.0 L270.0 467.9 L272.0 467.9 L274.0 467.9 L276.0 467.9 L278.0 467.8 L280.0 467.8 L282.0 467.7 L284.0 467.7 L286.0 467.6 L288.0 467.6 L290.0 467.5 L292.0 467.4 L294.0 467.4 L296.0 467.3 L298.0 467.2 L300.0 467.1 L302.0 467.1 L304.0 467.0 L306.0 466.9 L308.0 466.8 L310.0 466.7 L312.0 466.6 L314.0 466.5 L316.0 466.4 L318.0 466.3 L320.0 466.1 L322.0 466.0 L324.0 465.9 L326.0 465.8 L328.0 465.6 L330.0 465.5 L332.0 465.3 L334.0 465.2 L336.0 465.0 L338.0 464.8 L340.0 464.7 L342.0 464.5 L344.0 464.3 L346.0 464.1 L348.0 463.9 L350.0 463.7 L352.0 463.5 L354.0 463.3 L356.0 463.1 L358.0 462.9 L360.0 462.7 L362.0 462.5 L364.0 462.3 L366.0 462.1 L368.0 461.9 L370.0 461.7 L372.0 461.5 L374.0 461.3 L376.0 461.1 L378.0 460.9 L380.0 460.7 L382.0 460.5 L384.0 460.3 L386.0 460.1 L388.0 459.9 L390.0 459.7 L392.0 459.6 L394.0 459.4 L396.0 459.2 L398.0 459.0 L400.0 458.9 L402.0 458.7 L404.0 458.6 L406.0 458.4 L408.0 458.3 L410.0 458.1 L412.0 458.0 L414.0 457.9 L416.0 457.7 L418.0 457.6 L420.0 457.5 L422.0 457.4 L424.0 457.3 L426.0 457.2 L428.0 457.1 L430.0 457.0 L432.0 456.9 L434.0 456.8 L436.0 456.8 L438.0 456.7 L440.0 456.6 L442.0 456.5 L444.0 456.4 L446.0 456.4 L448.0 456.3 L450.0 456.2 L452.0 456.2 L454.0 456.1 L456.0 456.1 L458.0 456.0 L460.0 456.0 L462.0 456.0 L464.0 456.0 L466.0 455.9 L468.0 455.9 L470.0 455.9 L472.0 456.0 L474.0 456.0 L476.0 456.0 L478.0 456.0 L480.0 456.0 L482.0 456.0 L484.0 456.0 L486.0 456.0 L488.0 456.0 L490.0 456.1 L492.0 456.1 L494.0 456.1 L496.0 456.1 L498.0 456.2 L500.0 456.2 L502.0 456.3 L504.0 456.3 L506.0 456.4 L508.0 456.5 L510.0 456.5 L512.0 456.6 L514.0 456.7 L516.0 456.8 L518.0 456.9 L520.0 457.0 L522.0 457.1 L524.0 457.2 L526.0 457.3 L528.0 457.5 L530.0 457.6 L532.0 457.8 L534.0 458.0 L536.0 458.2 L538.0 458.5 L540.0 458.8 L542.0 459.2 L544.0 459.5 L546.0 460.0 L548.0 460.4 L550.0 460.8 L552.0 461.3 L554.0 461.7 L556.0 462.2 L558.0 462.6 L560.0 463.0 L562.0 463.4 L564.0 463.7 L566.0 464.0 L568.0 464.3 L570.0 464.5 L572.0 464.7 L574.0 464.9 L576.0 465.1 L578.0 465.3 L580.0 465.4 L582.0 465.5 L584.0 465.7 L586.0 465.8 L588.0 465.9 L590.0 466.0 L592.0 466.1 L594.0 466.2 L596.0 466.3 L598.0 466.4 L600.0 466.5 L602.0 466.6 L604.0 466.7 L606.0 466.8 L608.0 466.9 L610.0 467.0 L612.0 467.1 L614.0 467.2 L616.0 467.3 L618.0 467.4 L620.0 467.5 L622.0 467.6 L624.0 467.7 L626.0 467.7 L628.0 467.8 L630.0 467.9 L632.0 468.0 L634.0 468.1 L636.0 468.1 L638.0 468.2 L640.0 468.3 L642.0 468.3 L644.0 468.4 L646.0 468.4 L648.0 468.5 L650.0 468.5 L652.0 468.5 L654.0 468.6 L656.0 468.6 L658.0 468.6 L660.0 468.6 L662.0 468.6 L664.0 468.6 L666.0 468.6 L668.0 468.5 L670.0 468.5 L672.0 468.5 L674.0 468.4 L676.0 468.3 L678.0 468.3 L680.0 468.2 L682.0 468.1 L684.0 468.0 L686.0 468.0 L688.0 467.9 L690.0 467.8 L692.0 467.7 L694.0 467.5 L696.0 467.4 L698.0 467.3 L700.0 467.2 L702.0 467.1 L704.0 467.0 L706.0 466.8 L708.0 466.7 L710.0 466.6 L712.0 466.5 L714.0 466.4 L716.0 466.2 L718.0 466.1 L720.0 466.0 L722.0 465.9 L724.0 465.8 L726.0 465.7 L728.0 465.6 L730.0 465.5 L732.0 465.4 L734.0 465.3 L736.0 465.2 L738.0 465.1 L740.0 465.0 L742.0 464.9 L744.0 464.8 L746.0 464.8 L748.0 464.7 L750.0 464.6 L752.0 464.6 L754.0 464.5 L756.0 464.4 L758.0 464.4 L760.0 464.3 L762.0 464.3 L764.0 464.3 L766.0 464.2 L768.0 464.2" fill="none" stroke="#000" stroke-width="1" stroke-dasharray="6.2 4.7"/>
<path d="M136.0 193.2 L138.2 192.9 L140.5 192.6 L142.7 192.2 L144.9 191.9 L147.2 191.6 L149.4 191.3 L151.7 191.0 L153.9 190.7 L156.1 190.4 L158.4 190.1 L160.6 189.8 L162.9 189.6 L165.1 189.3 L167.3 189.0 L169.6 188.7 L171.8 188.5 L174.1 188.2 L176.3 187.9 L178.6 187.7 L180.8 187.4 L183.0 187.1 L185.3 186.9 L187.5 186.6 L189.8 186.4 L192.0 186.1 L194.3 185.9 L196.5 185.6 L198.8 185.4 L201.0 185.2 L203.3 185.0 L205.5 184.8 L207.8 184.6 L210.0 184.5 L212.3 184.3 L214.5 184.2 L216.8 184.2 L219.0 184.1 L221.3 184.1 L223.6 184.0 L225.8 184.0 L228.1 184.0 L230.3 184.0 L232.6 184.0 L234.9 184.0 L237.1 184.0 L239.4 184.0 L241.6 184.1 L243.9 184.1 L246.2 184.2 L248.4 184.2 L250.7 184.3 L252.9 184.5 L255.2 184.6 L257.4 184.8 L259.7 185.0 L261.9 185.2 L264.2 185.4 L266.4 185.7 L268.7 186.0 L270.9 186.3 L273.1 186.6 L275.4 186.9 L277.6 187.2 L279.9 187.5 L282.1 187.9 L284.3 188.3 L286.6 188.6 L288.8 189.0 L291.0 189.4 L293.2 189.8 L295.5 190.2 L297.7 190.6 L299.9 191.0 L302.1 191.4 L304.3 191.8 L306.5 192.2 L308.8 192.7 L311.0 193.1 L313.2 193.6 L315.4 194.0 L317.6 194.5 L319.8 195.0 L322.0 195.5 L324.2 196.0 L326.4 196.5 L328.6 197.0 L330.8 197.5 L333.0 198.0 L335.2 198.6 L337.4 199.1 L339.6 199.7 L341.8 200.3 L344.0 201.0 L346.2 201.6 L348.3 202.3 L350.4 203.0 L352.6 203.8 L354.7 204.6 L356.8 205.5 L358.8 206.4 L360.9 207.3 L362.9 208.3 L364.9 209.4 L366.9 210.5 L368.9 211.6 L370.8 212.8 L372.7 214.0 L374.6 215.3 L376.4 216.6 L378.2 217.9 L380.0 219.3 L381.8 220.8 L383.5 222.2 L385.3 223.7 L387.0 225.1 L388.7 226.6 L390.4 228.1 L392.2 229.5 L393.9 230.9 L395.7 232.3 L397.5 233.6 L399.4 234.9 L401.2 236.3 L403.0 237.6 L404.8 238.9 L406.6 240.3 L408.4 241.7 L410.2 243.2 L411.9 244.6 L413.5 246.2 L415.2 247.8 L416.7 249.4 L418.2 251.1 L419.6 252.9 L420.9 254.7 L422.2 256.5 L423.5 258.4 L424.8 260.3 L426.0 262.1 L427.3 264.0 L428.5 265.9 L429.7 267.9 L430.9 269.8 L432.0 271.8 L433.0 273.8 L433.9 275.9 L434.6 278.0 L435.3 280.2 L435.9 282.4 L436.3 284.6 L436.7 286.8 L436.9 289.1 L437.1 291.3 L437.1 293.6 L437.1 295.9 L437.0 298.1 L436.7 300.4 L436.4 302.6 L435.9 304.9 L435.3 307.1 L434.6 309.2 L433.7 311.3 L432.6 313.3 L431.4 315.2 L430.1 317.0 L428.6 318.7 L427.0 320.4 L425.3 321.9 L423.6 323.4 L421.8 324.8 L419.9 326.1 L418.0 327.3 L416.1 328.5 L414.1 329.6 L412.1 330.7 L410.1 331.7 L408.0 332.6 L406.0 333.5 L403.9 334.4 L401.8 335.2 L399.7 336.0 L397.5 336.8 L395.4 337.5 L393.2 338.2 L391.0 338.8 L388.9 339.4 L386.7 340.0 L384.5 340.6 L382.3 341.1 L380.1 341.7" fill="none" stroke="#000" stroke-width="2"/>
<path d="M336.1 351.6 L333.8 352.1 L331.6 352.4 L329.4 352.8 L327.2 353.1 L324.9 353.4 L322.7 353.7 L320.4 354.0 L318.2 354.3 L315.9 354.5 L313.7 354.8 L311.5 355.1 L309.2 355.3 L307.0 355.6 L304.7 355.9 L302.5 356.3 L300.2 356.6 L298.0 356.9 L295.8 357.2 L293.5 357.5 L291.3 357.8 L289.1 358.1 L286.8 358.4 L284.6 358.6 L282.3 358.8 L280.1 359.0 L277.8 359.1 L275.6 359.3 L273.3 359.3 L271.1 359.4 L268.8 359.4 L266.5 359.5 L264.3 359.5 L262.0 359.5 L259.8 359.5 L257.5 359.5 L255.2 359.5 L253.0 359.5 L250.7 359.5 L248.5 359.5 L246.2 359.4 L243.9 359.4 L241.7 359.3 L239.4 359.2 L237.2 359.1 L234.9 359.0 L232.7 358.8 L230.4 358.7 L228.2 358.5 L225.9 358.3 L223.7 358.1 L221.4 357.9 L219.2 357.7 L216.9 357.5 L214.7 357.3 L212.4 357.1 L210.2 356.9 L207.9 356.7 L205.7 356.5 L203.4 356.3 L201.2 356.1 L198.9 355.8 L196.7 355.6 L194.4 355.3 L192.2 355.1 L189.9 354.8 L187.7 354.5 L185.5 354.2 L183.2 353.9 L181.0 353.6 L178.7 353.3 L176.5 353.0 L174.3 352.7 L172.0 352.4 L169.8 352.1 L167.6 351.8 L165.3 351.5 L163.1 351.2 L160.8 350.9 L158.6 350.7 L156.3 350.5 L154.1 350.2 L151.8 350.1 L149.6 349.9 L147.3 349.7 L145.1 349.6 L142.8 349.6 L140.5 349.5 L138.3 349.5 L136.0 349.5" fill="none" stroke="#000" stroke-width="2"/>
<path d="M768.0 194.2 L765.9 194.1 L763.9 194.1 L761.8 194.0 L759.8 194.0 L757.7 193.9 L755.7 193.9 L753.6 193.8 L751.6 193.8 L749.5 193.8 L747.5 193.7 L745.4 193.7 L743.4 193.6 L741.3 193.6 L739.3 193.6 L737.2 193.5 L735.2 193.5 L733.1 193.5 L731.1 193.5 L729.0 193.4 L727.0 193.4 L724.9 193.4 L722.9 193.4 L720.8 193.4 L718.8 193.3 L716.8 193.3 L714.7 193.3 L712.7 193.3 L710.6 193.3 L708.6 193.2 L706.5 193.2 L704.5 193.2 L702.4 193.2 L700.4 193.2 L698.3 193.1 L696.3 193.1 L694.2 193.1 L692.2 193.1 L690.1 193.1 L688.1 193.0 L686.0 193.0 L684.0 193.0 L681.9 193.0 L679.9 193.0 L677.8 192.9 L675.8 192.9 L673.7 192.9 L671.7 192.8 L669.6 192.8 L667.6 192.8 L665.5 192.7 L663.5 192.7 L661.4 192.7 L659.4 192.6 L657.3 192.6 L655.3 192.5 L653.2 192.5 L651.2 192.5 L649.1 192.4 L647.1 192.3 L645.0 192.3 L643.0 192.2 L640.9 192.2 L638.9 192.1 L636.8 192.0 L634.8 192.0 L632.7 191.9 L630.6 191.8 L628.6 191.7 L626.5 191.7 L624.5 191.6 L622.4 191.6 L620.4 191.5 L618.3 191.5 L616.3 191.5 L614.2 191.5 L612.2 191.6 L610.1 191.6 L608.1 191.7 L606.0 191.8 L604.0 191.9 L601.9 192.1 L599.9 192.3 L597.9 192.6 L595.8 192.8 L593.8 193.1 L591.8 193.5 L589.8 193.8 L587.8 194.2 L585.7 194.6 L583.7 195.1 L581.7 195.5 L579.7 196.0 L577.8 196.5 L575.8 197.0 L573.8 197.5 L571.8 198.1 L569.8 198.6 L567.9 199.2 L565.9 199.8 L564.0 200.4 L562.0 201.1 L560.0 201.7 L558.1 202.4 L556.2 203.1 L554.2 203.9 L552.3 204.6 L550.4 205.5 L548.6 206.3 L546.7 207.3 L544.9 208.2 L543.2 209.3 L541.4 210.4 L539.8 211.5 L538.2 212.8 L536.6 214.1 L535.0 215.4 L533.5 216.8 L532.0 218.2 L530.6 219.7 L529.1 221.1 L527.7 222.6 L526.3 224.1 L524.8 225.6 L523.4 227.1 L522.0 228.6 L520.6 230.1 L519.2 231.5 L517.7 233.0 L516.3 234.5 L515.0 236.0 L513.6 237.5 L512.3 239.1 L510.9 240.7 L509.7 242.3 L508.4 244.0 L507.2 245.7 L506.1 247.4 L505.1 249.2 L504.2 251.0 L503.4 252.9 L502.7 254.8 L502.1 256.8 L501.7 258.8 L501.4 260.8 L501.1 262.9 L500.9 264.9 L500.8 267.0 L500.8 269.1 L500.8 271.1 L500.9 273.2 L500.9 275.2 L501.1 277.3 L501.2 279.3 L501.5 281.4 L501.7 283.4 L502.1 285.4 L502.4 287.5 L502.9 289.5 L503.4 291.5 L504.0 293.4 L504.8 295.4 L505.6 297.2 L506.6 299.0 L507.7 300.7 L508.9 302.4 L510.2 304.0 L511.5 305.5 L512.9 307.1 L514.4 308.5 L515.9 310.0 L517.4 311.4 L518.9 312.9 L520.4 314.3 L521.9 315.6 L523.5 317.0 L525.0 318.3 L526.6 319.6 L528.2 320.8 L529.9 322.0" fill="none" stroke="#000" stroke-width="2"/>
<path d="M570.8 345.5 L572.7 346.3 L574.6 347.0 L576.5 347.7 L578.4 348.3 L580.4 348.9 L582.4 349.4 L584.4 349.9 L586.4 350.4 L588.4 350.8 L590.5 351.2 L592.5 351.5 L594.5 351.9 L596.6 352.2 L598.6 352.5 L600.7 352.8 L602.7 353.1 L604.7 353.3 L606.8 353.6 L608.8 353.8 L610.9 354.0 L612.9 354.2 L614.9 354.4 L617.0 354.6 L619.0 354.8 L621.1 355.0 L623.1 355.1 L625.1 355.3 L627.2 355.4 L629.2 355.6 L631.3 355.7 L633.3 355.8 L635.3 356.0 L637.4 356.1 L639.4 356.2 L641.5 356.4 L643.5 356.5 L645.6 356.6 L647.6 356.7 L649.7 356.9 L651.7 357.0 L653.8 357.1 L655.8 357.3 L657.9 357.4 L659.9 357.6 L661.9 357.8 L664.0 357.9 L666.0 358.1 L668.1 358.2 L670.1 358.4 L672.2 358.5 L674.2 358.5 L676.3 358.5 L678.3 358.6 L680.4 358.5 L682.4 358.5 L684.5 358.4 L686.5 358.3 L688.6 358.2 L690.6 358.1 L692.7 357.9 L694.7 357.8 L696.7 357.6 L698.8 357.4 L700.8 357.2 L702.9 357.0 L704.9 356.8 L707.0 356.6 L709.0 356.3 L711.1 356.1 L713.1 355.9 L715.1 355.6 L717.2 355.4 L719.2 355.1 L721.2 354.9 L723.3 354.6 L725.3 354.4 L727.3 354.1 L729.4 353.8 L731.4 353.6 L733.4 353.3 L735.5 353.1 L737.5 352.8 L739.5 352.5 L741.6 352.3 L743.6 352.0 L745.6 351.7 L747.7 351.5 L749.7 351.2 L751.7 350.9 L753.8 350.7 L755.8 350.4 L757.8 350.2 L759.9 349.9 L761.9 349.6 L763.9 349.4 L766.0 349.1 L768.0 348.9" fill="none" stroke="#000" stroke-width="2"/>
</g>
<g shape-rendering="crispEdges" fill="#000">
<path d="M135 145H769V464H135Z M137 147V462H767V147Z" fill-rule="evenodd"/>
<rect x="160" y="147" width="1" height="5"/>
<rect x="160" y="457" width="1" height="5"/>
<rect x="184" y="147" width="2" height="9"/>
<rect x="184" y="453" width="2" height="9"/>
<rect x="211" y="147" width="1" height="5"/>
<rect x="211" y="457" width="1" height="5"/>
<rect x="235" y="147" width="2" height="9"/>
<rect x="235" y="453" width="2" height="9"/>
<rect x="262" y="147" width="1" height="5"/>
<rect x="262" y="457" width="1" height="5"/>
<rect x="286" y="147" width="2" height="9"/>
<rect x="286" y="453" width="2" height="9"/>
<rect x="312" y="147" width="1" height="5"/>
<rect x="312" y="457" width="1" height="5"/>
<rect x="337" y="147" width="2" height="9"/>
<rect x="337" y="453" width="2" height="9"/>
<rect x="363" y="147" width="1" height="5"/>
<rect x="363" y="457" width="1" height="5"/>
<rect x="388" y="147" width="2" height="9"/>
<rect x="388" y="453" width="2" height="9"/>
<rect x="414" y="147" width="1" height="5"/>
<rect x="414" y="457" width="1" height="5"/>
<rect x="439" y="147" width="2" height="9"/>
<rect x="439" y="453" width="2" height="9"/>
<rect x="465" y="147" width="1" height="5"/>
<rect x="465" y="457" width="1" height="5"/>
<rect x="489" y="147" width="2" height="9"/>
<rect x="489" y="453" width="2" height="9"/>
<rect x="516" y="147" width="1" height="5"/>
<rect x="516" y="457" width="1" height="5"/>
<rect x="540" y="147" width="2" height="9"/>
<rect x="540" y="453" width="2" height="9"/>
<rect x="567" y="147" width="1" height="5"/>
<rect x="567" y="457" width="1" height="5"/>
<rect x="591" y="147" width="2" height="9"/>
<rect x="591" y="453" width="2" height="9"/>
<rect x="617" y="147" width="1" height="5"/>
<rect x="617" y="457" width="1" height="5"/>
<rect x="642" y="147" width="2" height="9"/>
<rect x="642" y="453" width="2" height="9"/>
<rect x="668" y="147" width="1" height="5"/>
<rect x="668" y="457" width="1" height="5"/>
<rect x="693" y="147" width="2" height="9"/>
<rect x="693" y="453" width="2" height="9"/>
<rect x="719" y="147" width="1" height="5"/>
<rect x="719" y="457" width="1" height="5"/>
<rect x="743" y="147" width="2" height="9"/>
<rect x="743" y="453" width="2" height="9"/>
<rect x="137" y="448" width="4" height="1"/>
<rect x="763" y="448" width="4" height="1"/>
<rect x="137" y="432" width="4" height="1"/>
<rect x="763" y="432" width="4" height="1"/>
<rect x="137" y="416" width="4" height="1"/>
<rect x="763" y="416" width="4" height="1"/>
<rect x="137" y="400" width="4" height="1"/>
<rect x="763" y="400" width="4" height="1"/>
<rect x="137" y="383" width="8" height="2"/>
<rect x="759" y="383" width="8" height="2"/>
<rect x="137" y="368" width="4" height="1"/>
<rect x="763" y="368" width="4" height="1"/>
<rect x="137" y="352" width="4" height="1"/>
<rect x="763" y="352" width="4" height="1"/>
<rect x="137" y="336" width="4" height="1"/>
<rect x="763" y="336" width="4" height="1"/>
<rect x="137" y="320" width="4" height="1"/>
<rect x="763" y="320" width="4" height="1"/>
<rect x="137" y="304" width="8" height="2"/>
<rect x="759" y="304" width="8" height="2"/>
<rect x="137" y="289" width="4" height="1"/>
<rect x="763" y="289" width="4" height="1"/>
<rect x="137" y="273" width="4" height="1"/>
<rect x="763" y="273" width="4" height="1"/>
<rect x="137" y="257" width="4" height="1"/>
<rect x="763" y="257" width="4" height="1"/>
<rect x="137" y="241" width="4" height="1"/>
<rect x="763" y="241" width="4" height="1"/>
<rect x="137" y="224" width="8" height="2"/>
<rect x="759" y="224" width="8" height="2"/>
<rect x="137" y="209" width="4" height="1"/>
<rect x="763" y="209" width="4" height="1"/>
<rect x="137" y="193" width="4" height="1"/>
<rect x="763" y="193" width="4" height="1"/>
<rect x="137" y="177" width="4" height="1"/>
<rect x="763" y="177" width="4" height="1"/>
<rect x="137" y="161" width="4" height="1"/>
<rect x="763" y="161" width="4" height="1"/>
</g>
<g shape-rendering="crispEdges">
<rect x="315" y="598" width="274" height="20" fill="#000"/>
<rect x="317" y="600" width="1" height="16" fill="#9600aa"/>
<rect x="320" y="600" width="1" height="16" fill="#6e00aa"/>
<rect x="323" y="600" width="1" height="16" fill="#5000ac"/>
<rect x="328" y="600" width="1" height="16" fill="#3200b4"/>
<rect x="331" y="600" width="1" height="16" fill="#1e00be"/>
<rect x="336" y="600" width="1" height="16" fill="#0000dc"/>
<rect x="339" y="600" width="1" height="16" fill="#0000eb"/>
<rect x="342" y="600" width="1" height="16" fill="#0000fa"/>
<rect x="347" y="600" width="1" height="16" fill="#000aff"/>
<rect x="350" y="600" width="1" height="16" fill="#0014ff"/>
<rect x="355" y="600" width="1" height="16" fill="#0028ff"/>
<rect x="358" y="600" width="1" height="16" fill="#0037ff"/>
<rect x="361" y="600" width="1" height="16" fill="#0046ff"/>
<rect x="366" y="600" width="1" height="16" fill="#0057ff"/>
<rect x="369" y="600" width="1" height="16" fill="#005fff"/>
<rect x="374" y="600" width="1" height="16" fill="#0078f5"/>
<rect x="377" y="600" width="1" height="16" fill="#0087f2"/>
<rect x="382" y="600" width="1" height="16" fill="#00a2ef"/>
<rect x="385" y="600" width="1" height="16" fill="#00adef"/>
<rect x="388" y="600" width="1" height="16" fill="#00b9ee"/>
<rect x="393" y="600" width="1" height="16" fill="#00d4ed"/>
<rect x="396" y="600" width="1" height="16" fill="#00e1ec"/>
<rect x="401" y="600" width="1" height="16" fill="#00f0e4"/>
<rect x="404" y="600" width="1" height="16" fill="#00f4dd"/>
<rect x="407" y="600" width="1" height="16" fill="#00f8d6"/>
<rect x="412" y="600" width="1" height="16" fill="#00ffc4"/>
<rect x="415" y="600" width="1" height="16" fill="#00ffb5"/>
<rect x="420" y="600" width="1" height="16" fill="#00ff98"/>
<rect x="423" y="600" width="1" height="16" fill="#00ff8a"/>
<rect x="426" y="600" width="1" height="16" fill="#00ff7b"/>
<rect x="431" y="600" width="1" height="16" fill="#00ff5e"/>
<rect x="434" y="600" width="1" height="16" fill="#00ff50"/>
<rect x="439" y="600" width="1" height="16" fill="#00ff33"/>
<rect x="442" y="600" width="1" height="16" fill="#00ff24"/>
<rect x="445" y="600" width="1" height="16" fill="#00ff16"/>
<rect x="450" y="600" width="1" height="16" fill="#00ff00"/>
<rect x="453" y="600" width="1" height="16" fill="#00ff00"/>
<rect x="458" y="600" width="1" height="16" fill="#1bff00"/>
<rect x="461" y="600" width="1" height="16" fill="#29ff00"/>
<rect x="464" y="600" width="1" height="16" fill="#36ff00"/>
<rect x="469" y="600" width="1" height="16" fill="#52ff00"/>
<rect x="472" y="600" width="1" height="16" fill="#5fff00"/>
<rect x="477" y="600" width="1" height="16" fill="#7aff00"/>
<rect x="480" y="600" width="1" height="16" fill="#88ff00"/>
<rect x="483" y="600" width="1" height="16" fill="#96ff00"/>
<rect x="488" y="600" width="1" height="16" fill="#b1ff00"/>
<rect x="491" y="600" width="1" height="16" fill="#beff00"/>
<rect x="496" y="600" width="1" height="16" fill="#ddff00"/>
<rect x="499" y="600" width="1" height="16" fill="#ddff00"/>
<rect x="502" y="600" width="1" height="16" fill="#eeff00"/>
<rect x="507" y="600" width="1" height="16" fill="#ffee00"/>
<rect x="510" y="600" width="1" height="16" fill="#ffdd00"/>
<rect x="515" y="600" width="1" height="16" fill="#ffbb00"/>
<rect x="518" y="600" width="1" height="16" fill="#ffae00"/>
<rect x="521" y="600" width="1" height="16" fill="#ffa000"/>
<rect x="526" y="600" width="1" height="16" fill="#ff8500"/>
<rect x="529" y="600" width="1" height="16" fill="#ff7800"/>
<rect x="534" y="600" width="1" height="16" fill="#ff5d00"/>
<rect x="537" y="600" width="1" height="16" fill="#ff5000"/>
<rect x="542" y="600" width="1" height="16" fill="#ff3400"/>
<rect x="545" y="600" width="1" height="16" fill="#ff2700"/>
<rect x="548" y="600" width="1" height="16" fill="#ff1900"/>
<rect x="553" y="600" width="1" height="16" fill="#ff0800"/>
<rect x="556" y="600" width="1" height="16" fill="#ff0000"/>
<rect x="561" y="600" width="1" height="16" fill="#f21e1e"/>
<rect x="564" y="600" width="1" height="16" fill="#f22c2c"/>
<rect x="567" y="600" width="1" height="16" fill="#f13a3a"/>
<rect x="572" y="600" width="1" height="16" fill="#f05656"/>
<rect x="575" y="600" width="1" height="16" fill="#f06464"/>
<rect x="580" y="600" width="1" height="16" fill="#f07d7d"/>
<rect x="583" y="600" width="1" height="16" fill="#f08a8a"/>
<rect x="586" y="600" width="1" height="16" fill="#f09696"/>
</g>
<g font-family="'Liberation Sans', sans-serif" fill="#000">
<text x="300.7" y="102.0" font-size="29.3" text-anchor="start" textLength="165.1" lengthAdjust="spacingAndGlyphs" stroke="#fff" stroke-width="0.8">disturbunce</text>
<text x="483.4" y="102.0" font-size="29.3" text-anchor="start" textLength="29.7" lengthAdjust="spacingAndGlyphs" stroke="#fff" stroke-width="0.8">of</text>
<text x="527.2" y="102.0" font-size="29.3" text-anchor="start" textLength="74.9" lengthAdjust="spacingAndGlyphs" stroke="#fff" stroke-width="0.8">Exner</text>
<text x="375.5" y="536.6" font-size="23" text-anchor="start" textLength="154.5" lengthAdjust="spacingAndGlyphs" stroke="#fff" stroke-width="0.5">X-coordinate</text>
<text x="0.0" y="0.0" font-size="23" text-anchor="start" textLength="154.5" lengthAdjust="spacingAndGlyphs" stroke="#fff" stroke-width="0.5" transform="translate(91.7 381.5) rotate(-90)">Z-coordinate</text>
<text x="179.9" y="484.3" font-size="17.4" text-anchor="start" textLength="11.6" lengthAdjust="spacingAndGlyphs" stroke="#000" stroke-width="0.3">4</text>
<text x="230.7" y="484.3" font-size="17.4" text-anchor="start" textLength="11.6" lengthAdjust="spacingAndGlyphs" stroke="#000" stroke-width="0.3">8</text>
<text x="275.9" y="484.3" font-size="17.4" text-anchor="start" textLength="22.8" lengthAdjust="spacingAndGlyphs" stroke="#000" stroke-width="0.3">12</text>
<text x="326.8" y="484.3" font-size="17.4" text-anchor="start" textLength="22.8" lengthAdjust="spacingAndGlyphs" stroke="#000" stroke-width="0.3">16</text>
<text x="377.6" y="484.3" font-size="17.4" text-anchor="start" textLength="22.8" lengthAdjust="spacingAndGlyphs" stroke="#000" stroke-width="0.3">20</text>
<text x="428.4" y="484.3" font-size="17.4" text-anchor="start" textLength="22.8" lengthAdjust="spacingAndGlyphs" stroke="#000" stroke-width="0.3">24</text>
<text x="479.2" y="484.3" font-size="17.4" text-anchor="start" textLength="22.8" lengthAdjust="spacingAndGlyphs" stroke="#000" stroke-width="0.3">28</text>
<text x="530.0" y="484.3" font-size="17.4" text-anchor="start" textLength="22.8" lengthAdjust="spacingAndGlyphs" stroke="#000" stroke-width="0.3">32</text>
<text x="580.9" y="484.3" font-size="17.4" text-anchor="start" textLength="22.8" lengthAdjust="spacingAndGlyphs" stroke="#000" stroke-width="0.3">36</text>
<text x="631.7" y="484.3" font-size="17.4" text-anchor="start" textLength="22.8" lengthAdjust="spacingAndGlyphs" stroke="#000" stroke-width="0.3">40</text>
<text x="682.5" y="484.3" font-size="17.4" text-anchor="start" textLength="22.8" lengthAdjust="spacingAndGlyphs" stroke="#000" stroke-width="0.3">44</text>
<text x="733.3" y="484.3" font-size="17.4" text-anchor="start" textLength="22.8" lengthAdjust="spacingAndGlyphs" stroke="#000" stroke-width="0.3">48</text>
<text x="104.9" y="230.5" font-size="17.4" text-anchor="start" textLength="22.1" lengthAdjust="spacingAndGlyphs" stroke="#000" stroke-width="0.3">15</text>
<text x="104.9" y="310.6" font-size="17.4" text-anchor="start" textLength="22.1" lengthAdjust="spacingAndGlyphs" stroke="#000" stroke-width="0.3">10</text>
<text x="115.6" y="389.6" font-size="17.4" text-anchor="start" textLength="11.4" lengthAdjust="spacingAndGlyphs" stroke="#000" stroke-width="0.3">5</text>
<text x="46.7" y="494.8" font-size="17.4" text-anchor="start" textLength="63.7" lengthAdjust="spacingAndGlyphs" stroke="#000" stroke-width="0.3">(×1000</text>
<text x="121.2" y="494.8" font-size="17.4" text-anchor="start" textLength="23.6" lengthAdjust="spacingAndGlyphs" stroke="#000" stroke-width="0.3">m)</text>
<text x="684.0" y="506.8" font-size="17.4" text-anchor="start" textLength="64.7" lengthAdjust="spacingAndGlyphs" stroke="#000" stroke-width="0.3">(×1000</text>
<text x="758.8" y="506.8" font-size="17.4" text-anchor="start" textLength="24.0" lengthAdjust="spacingAndGlyphs" stroke="#000" stroke-width="0.3">m)</text>
<text x="304.0" y="582.2" font-size="17.4" text-anchor="start" textLength="82.5" lengthAdjust="spacingAndGlyphs" stroke="#000" stroke-width="0.3">CONTOUR</text>
<text x="395.3" y="582.2" font-size="17.4" text-anchor="start" textLength="76.2" lengthAdjust="spacingAndGlyphs" stroke="#000" stroke-width="0.3">INTERVAL</text>
<text x="479.2" y="582.2" font-size="17.4" text-anchor="start" textLength="15.3" lengthAdjust="spacingAndGlyphs" stroke="#000" stroke-width="0.3">=</text>
<text x="503.0" y="582.2" font-size="17.4" text-anchor="start" textLength="98.1" lengthAdjust="spacingAndGlyphs" stroke="#000" stroke-width="0.3">5.000E-03</text>
<text x="633.0" y="609.3" font-size="17" text-anchor="start" textLength="81.5" lengthAdjust="spacingAndGlyphs" stroke="#fff" stroke-width="0.4">t=789000</text>
<text x="722.8" y="609.3" font-size="17" text-anchor="start" textLength="9.8" lengthAdjust="spacingAndGlyphs" stroke="#fff" stroke-width="0.4">s</text>
<text x="321.1" y="636.7" font-size="16" text-anchor="start" textLength="46.3" lengthAdjust="spacingAndGlyphs" stroke="#000" stroke-width="0.3">-0.04</text>
<text x="375.2" y="636.7" font-size="16" text-anchor="start" textLength="46.9" lengthAdjust="spacingAndGlyphs" stroke="#000" stroke-width="0.3">-0.02</text>
<text x="447.9" y="636.7" font-size="16" text-anchor="start" textLength="8.4" lengthAdjust="spacingAndGlyphs" stroke="#000" stroke-width="0.3">0</text>
<text x="489.3" y="636.7" font-size="16" text-anchor="start" textLength="34.7" lengthAdjust="spacingAndGlyphs" stroke="#000" stroke-width="0.3">0.02</text>
<text x="543.5" y="636.7" font-size="16" text-anchor="start" textLength="33.6" lengthAdjust="spacingAndGlyphs" stroke="#000" stroke-width="0.3">0.04</text>
<text x="23.4" y="651.4" font-size="9" text-anchor="start" textLength="81.3" lengthAdjust="spacingAndGlyphs" >/usr/bin/gpview</text>
<text x="113.6" y="651.4" font-size="9" text-anchor="start" textLength="63.8" lengthAdjust="spacingAndGlyphs" >2008-12-21</text>
<text y="651.4" font-size="9"><tspan x="570.0" textLength="128.2" lengthAdjust="spacingAndGlyphs">MarsCond_Exner.nc@Exner,</tspan><tspan x="698.6" textLength="53.8" lengthAdjust="spacingAndGlyphs">x=0:50000,</tspan><tspan x="752.8" textLength="54.4" lengthAdjust="spacingAndGlyphs">z=0:20000,</tspan><tspan x="807.6" textLength="48.4" lengthAdjust="spacingAndGlyphs">t=789000</tspan></text>
<text x="0" y="0" font-size="16" stroke="#000" stroke-width="0.25" text-anchor="middle" textLength="38" lengthAdjust="spacingAndGlyphs" transform="translate(357.6 346.3) rotate(-12) translate(0 5.8)">0.02</text>
<text x="0" y="0" font-size="16" stroke="#000" stroke-width="0.25" text-anchor="middle" textLength="38" lengthAdjust="spacingAndGlyphs" transform="translate(550.4 333.8) rotate(30) translate(0 5.8)">0.02</text>
<text x="0" y="0" font-size="16" stroke="#000" stroke-width="0.25" text-anchor="middle" textLength="37" lengthAdjust="spacingAndGlyphs" transform="translate(357 392.7) rotate(-3) translate(0 5.8)">0.01</text>
<text x="0" y="0" font-size="16" stroke="#000" stroke-width="0.25" text-anchor="middle" textLength="39" lengthAdjust="spacingAndGlyphs" transform="translate(358 421) rotate(-3) translate(0 5.8)">0.00</text>
<text x="0" y="0" font-size="16" stroke="#000" stroke-width="0.25" text-anchor="middle" textLength="47" lengthAdjust="spacingAndGlyphs" transform="translate(367.5 447.5) rotate(-2) translate(0 5.8)">-0.01</text>
</g>
</svg>
</body></html>
